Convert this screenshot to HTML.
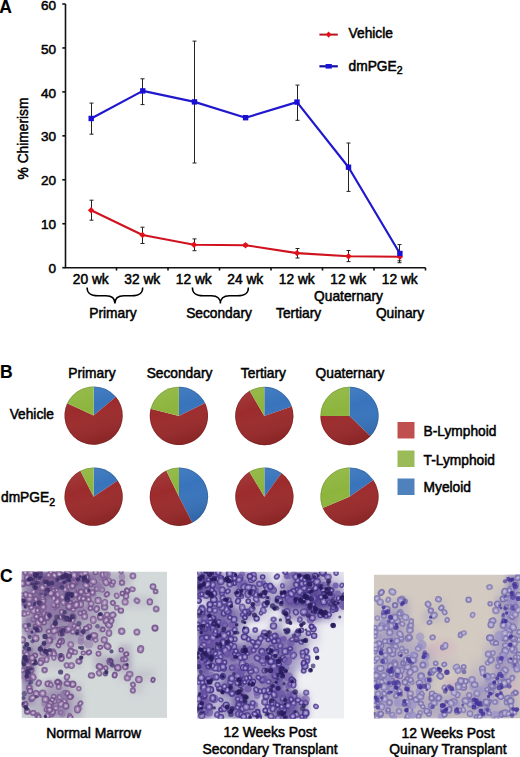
<!DOCTYPE html>
<html><head><meta charset="utf-8"><style>
html,body{margin:0;padding:0;background:#fff;}
svg{display:block;}
text{font-family:"Liberation Sans",sans-serif;stroke:#000;stroke-width:0.5px;paint-order:stroke;}
</style></head><body>
<svg width="520" height="757" viewBox="0 0 520 757">
<g stroke="#111" stroke-width="1.6" fill="none">
<path d="M65.5 4 V267.7 H425.5"/>
<path d="M62.3 267.70 H65.5"/>
<path d="M62.3 223.75 H65.5"/>
<path d="M62.3 179.80 H65.5"/>
<path d="M62.3 135.85 H65.5"/>
<path d="M62.3 91.90 H65.5"/>
<path d="M62.3 47.95 H65.5"/>
<path d="M62.3 4.00 H65.5"/>
<path d="M116.50 267.7 V270.5"/>
<path d="M168.00 267.7 V270.5"/>
<path d="M219.50 267.7 V270.5"/>
<path d="M271.00 267.7 V270.5"/>
<path d="M322.50 267.7 V270.5"/>
<path d="M374.00 267.7 V270.5"/>
<path d="M425.50 267.7 V270.5"/>
</g>
<text x="56.0" y="273.30" text-anchor="end" font-size="13.6" fill="#000">0</text>
<text x="56.0" y="229.35" text-anchor="end" font-size="13.6" fill="#000">10</text>
<text x="56.0" y="185.40" text-anchor="end" font-size="13.6" fill="#000">20</text>
<text x="56.0" y="141.45" text-anchor="end" font-size="13.6" fill="#000">30</text>
<text x="56.0" y="97.50" text-anchor="end" font-size="13.6" fill="#000">40</text>
<text x="56.0" y="53.55" text-anchor="end" font-size="13.6" fill="#000">50</text>
<text x="56.0" y="9.60" text-anchor="end" font-size="13.6" fill="#000">60</text>
<text transform="translate(28.3,138.5) rotate(-90)" text-anchor="middle" font-size="13.75" fill="#000">% Chimerism</text>
<text x="90.75" y="283.7" text-anchor="middle" font-size="13.75" fill="#000">20 wk</text>
<text x="142.25" y="283.7" text-anchor="middle" font-size="13.75" fill="#000">32 wk</text>
<text x="193.75" y="283.7" text-anchor="middle" font-size="13.75" fill="#000">12 wk</text>
<text x="245.25" y="283.7" text-anchor="middle" font-size="13.75" fill="#000">24 wk</text>
<text x="296.75" y="283.7" text-anchor="middle" font-size="13.75" fill="#000">12 wk</text>
<text x="348.25" y="283.7" text-anchor="middle" font-size="13.75" fill="#000">12 wk</text>
<text x="399.75" y="283.7" text-anchor="middle" font-size="13.75" fill="#000">12 wk</text>
<path d="M87.1 287.4 C87.1 292.9 89.6 295.7 98.1 295.7 L105.89999999999999 295.7 C111.89999999999999 295.7 114.89999999999999 297.7 114.89999999999999 303.4 C114.89999999999999 297.7 117.89999999999999 295.7 123.89999999999999 295.7 L131.7 295.7 C140.2 295.7 142.7 292.9 142.7 287.4" fill="none" stroke="#000" stroke-width="1.5"/>
<path d="M192.4 287.4 C192.4 292.9 194.9 295.7 203.4 295.7 L211.4 295.7 C217.4 295.7 220.4 297.7 220.4 303.6 C220.4 297.7 223.4 295.7 229.4 295.7 L237.4 295.7 C245.9 295.7 248.4 292.9 248.4 287.4" fill="none" stroke="#000" stroke-width="1.5"/>
<text x="113" y="317.8" text-anchor="middle" font-size="13.75" fill="#000">Primary</text>
<text x="219" y="317.8" text-anchor="middle" font-size="13.75" fill="#000">Secondary</text>
<text x="298.6" y="317.8" text-anchor="middle" font-size="13.75" fill="#000">Tertiary</text>
<text x="348.5" y="300.9" text-anchor="middle" font-size="13.75" fill="#000">Quaternary</text>
<text x="400" y="317.8" text-anchor="middle" font-size="13.75" fill="#000">Quinary</text>
<path d="M91.50 103.10 V134.20 M89.50 103.10 H93.50 M89.50 134.20 H93.50" stroke="#222" stroke-width="1.0" fill="none"/>
<path d="M142.50 78.80 V104.60 M140.50 78.80 H144.50 M140.50 104.60 H144.50" stroke="#222" stroke-width="1.0" fill="none"/>
<path d="M194.50 41.10 V163.00 M192.50 41.10 H196.50 M192.50 163.00 H196.50" stroke="#222" stroke-width="1.0" fill="none"/>
<path d="M245.50 116.20 V119.20 M243.50 116.20 H247.50 M243.50 119.20 H247.50" stroke="#222" stroke-width="1.0" fill="none"/>
<path d="M297.50 85.10 V120.30 M295.50 85.10 H299.50 M295.50 120.30 H299.50" stroke="#222" stroke-width="1.0" fill="none"/>
<path d="M348.50 143.00 V191.40 M346.50 143.00 H350.50 M346.50 191.40 H350.50" stroke="#222" stroke-width="1.0" fill="none"/>
<path d="M399.50 244.60 V262.70 M397.50 244.60 H401.50 M397.50 262.70 H401.50" stroke="#222" stroke-width="1.0" fill="none"/>
<path d="M91.50 200.20 V220.20 M89.50 200.20 H93.50 M89.50 220.20 H93.50" stroke="#222" stroke-width="1.0" fill="none"/>
<path d="M142.50 227.20 V243.50 M140.50 227.20 H144.50 M140.50 243.50 H144.50" stroke="#222" stroke-width="1.0" fill="none"/>
<path d="M194.50 238.90 V250.70 M192.50 238.90 H196.50 M192.50 250.70 H196.50" stroke="#222" stroke-width="1.0" fill="none"/>
<path d="M245.50 244.00 V246.40 M243.50 244.00 H247.50 M243.50 246.40 H247.50" stroke="#222" stroke-width="1.0" fill="none"/>
<path d="M297.50 248.50 V258.00 M295.50 248.50 H299.50 M295.50 258.00 H299.50" stroke="#222" stroke-width="1.0" fill="none"/>
<path d="M348.50 250.50 V261.60 M346.50 250.50 H350.50 M346.50 261.60 H350.50" stroke="#222" stroke-width="1.0" fill="none"/>
<path d="M399.50 253.00 V260.80 M397.50 253.00 H401.50 M397.50 260.80 H401.50" stroke="#222" stroke-width="1.0" fill="none"/>
<polyline points="91.1,210.3 142.5,235 194,244.7 245.5,245.2 297,253.1 348.5,256.2 399.9,256.8" fill="none" stroke="#d0121e" stroke-width="2.1" stroke-linejoin="round"/>
<polyline points="91.2,118.5 142.8,90.9 194.5,101.9 245.6,117.7 297,102.1 348.5,167.2 399.9,253.5" fill="none" stroke="#2018cc" stroke-width="2.2" stroke-linejoin="round"/>
<path d="M91.1 207.10000000000002 L94.3 210.3 L91.1 213.5 L87.89999999999999 210.3 Z" fill="#e41018"/>
<path d="M142.5 231.8 L145.7 235 L142.5 238.2 L139.3 235 Z" fill="#e41018"/>
<path d="M194 241.5 L197.2 244.7 L194 247.89999999999998 L190.8 244.7 Z" fill="#e41018"/>
<path d="M245.5 242.0 L248.7 245.2 L245.5 248.39999999999998 L242.3 245.2 Z" fill="#e41018"/>
<path d="M297 249.9 L300.2 253.1 L297 256.3 L293.8 253.1 Z" fill="#e41018"/>
<path d="M348.5 253.0 L351.7 256.2 L348.5 259.4 L345.3 256.2 Z" fill="#e41018"/>
<path d="M399.9 253.60000000000002 L403.09999999999997 256.8 L399.9 260.0 L396.7 256.8 Z" fill="#e41018"/>
<rect x="88.5" y="115.8" width="5.4" height="5.4" fill="#1a10d4"/>
<rect x="140.10000000000002" y="88.2" width="5.4" height="5.4" fill="#1a10d4"/>
<rect x="191.8" y="99.2" width="5.4" height="5.4" fill="#1a10d4"/>
<rect x="242.9" y="115.0" width="5.4" height="5.4" fill="#1a10d4"/>
<rect x="294.3" y="99.39999999999999" width="5.4" height="5.4" fill="#1a10d4"/>
<rect x="345.8" y="164.5" width="5.4" height="5.4" fill="#1a10d4"/>
<rect x="397.2" y="250.8" width="5.4" height="5.4" fill="#1a10d4"/>
<path d="M319.4 34.6 H337.8" stroke="#b81420" stroke-width="2"/>
<path d="M328.6 31.4 L331.4 34.6 L328.6 37.8 L325.8 34.6 Z" fill="#e41018"/>
<path d="M319.4 66.3 H337.8" stroke="#14109a" stroke-width="2.2"/>
<rect x="325.6" y="64" width="6.2" height="4.6" fill="#1a14d8"/>
<text x="348.6" y="38.1" font-size="13.75" fill="#000">Vehicle</text>
<text x="348.6" y="70.6" font-size="13.75" fill="#000">dmPGE<tspan font-size="10.5" dy="3.2">2</tspan></text>
<text x="-0.8" y="13.2" font-size="17.5" font-weight="bold" fill="#000" style="stroke-width:0.15px">A</text>
<text x="0.1" y="377.6" font-size="17.5" font-weight="bold" fill="#000" style="stroke-width:0.15px">B</text>
<text x="92.0" y="378.2" text-anchor="middle" font-size="13.75" fill="#000">Primary</text>
<text x="179.5" y="378.2" text-anchor="middle" font-size="13.75" fill="#000">Secondary</text>
<text x="263.4" y="378.2" text-anchor="middle" font-size="13.75" fill="#000">Tertiary</text>
<text x="350" y="378.2" text-anchor="middle" font-size="13.75" fill="#000">Quaternary</text>
<text x="54" y="419.3" text-anchor="end" font-size="13.75" fill="#000">Vehicle</text>
<text x="1" y="502.4" font-size="13.75" fill="#000">dmPGE<tspan font-size="10.5" dy="3.2">2</tspan></text>
<defs><linearGradient id="pieshade" x1="0" y1="0" x2="0.3" y2="1"><stop offset="0" stop-color="#fff" stop-opacity="0.10"/><stop offset="0.45" stop-color="#fff" stop-opacity="0"/><stop offset="1" stop-color="#000" stop-opacity="0.10"/></linearGradient></defs>
<path d="M93.6 415.6 L93.60 386.45 A29.15 29.15 0 0 1 115.93 396.86 Z" fill="#3874bc"/>
<path d="M93.6 415.6 L115.93 396.86 A29.15 29.15 0 1 1 67.18 403.28 Z" fill="#9c2b2c"/>
<path d="M93.6 415.6 L67.18 403.28 A29.15 29.15 0 0 1 93.60 386.45 Z" fill="#8db53d"/>
<circle cx="93.6" cy="415.6" r="29.15" fill="url(#pieshade)"/>
<circle cx="93.6" cy="415.6" r="28.75" fill="none" stroke="#000" stroke-opacity="0.14" stroke-width="0.8"/>
<path d="M178.9 415.9 L178.90 386.75 A29.15 29.15 0 0 1 205.10 403.12 Z" fill="#3874bc"/>
<path d="M178.9 415.9 L205.10 403.12 A29.15 29.15 0 1 1 150.62 408.85 Z" fill="#9c2b2c"/>
<path d="M178.9 415.9 L150.62 408.85 A29.15 29.15 0 0 1 178.90 386.75 Z" fill="#8db53d"/>
<circle cx="178.9" cy="415.9" r="29.15" fill="url(#pieshade)"/>
<circle cx="178.9" cy="415.9" r="28.75" fill="none" stroke="#000" stroke-opacity="0.14" stroke-width="0.8"/>
<path d="M264.3 416 L264.30 386.85 A29.15 29.15 0 0 1 291.86 406.51 Z" fill="#3874bc"/>
<path d="M264.3 416 L291.86 406.51 A29.15 29.15 0 1 1 249.72 390.76 Z" fill="#9c2b2c"/>
<path d="M264.3 416 L249.72 390.76 A29.15 29.15 0 0 1 264.30 386.85 Z" fill="#8db53d"/>
<circle cx="264.3" cy="416" r="29.15" fill="url(#pieshade)"/>
<circle cx="264.3" cy="416" r="28.75" fill="none" stroke="#000" stroke-opacity="0.14" stroke-width="0.8"/>
<path d="M349.5 416 L349.50 386.85 A29.15 29.15 0 0 1 370.47 436.25 Z" fill="#3874bc"/>
<path d="M349.5 416 L370.47 436.25 A29.15 29.15 0 0 1 320.35 416.00 Z" fill="#9c2b2c"/>
<path d="M349.5 416 L320.35 416.00 A29.15 29.15 0 0 1 349.50 386.85 Z" fill="#8db53d"/>
<circle cx="349.5" cy="416" r="29.15" fill="url(#pieshade)"/>
<circle cx="349.5" cy="416" r="28.75" fill="none" stroke="#000" stroke-opacity="0.14" stroke-width="0.8"/>
<path d="M93.6 496.7 L93.60 467.55 A29.15 29.15 0 0 1 117.77 480.40 Z" fill="#3874bc"/>
<path d="M93.6 496.7 L117.77 480.40 A29.15 29.15 0 1 1 80.37 470.73 Z" fill="#9c2b2c"/>
<path d="M93.6 496.7 L80.37 470.73 A29.15 29.15 0 0 1 93.60 467.55 Z" fill="#8db53d"/>
<circle cx="93.6" cy="496.7" r="29.15" fill="url(#pieshade)"/>
<circle cx="93.6" cy="496.7" r="28.75" fill="none" stroke="#000" stroke-opacity="0.14" stroke-width="0.8"/>
<path d="M179 496.7 L179.00 467.55 A29.15 29.15 0 0 1 192.23 522.67 Z" fill="#3874bc"/>
<path d="M179 496.7 L192.23 522.67 A29.15 29.15 0 1 1 166.22 470.50 Z" fill="#9c2b2c"/>
<path d="M179 496.7 L166.22 470.50 A29.15 29.15 0 0 1 179.00 467.55 Z" fill="#8db53d"/>
<circle cx="179" cy="496.7" r="29.15" fill="url(#pieshade)"/>
<circle cx="179" cy="496.7" r="28.75" fill="none" stroke="#000" stroke-opacity="0.14" stroke-width="0.8"/>
<path d="M264.4 496.7 L264.40 467.55 A29.15 29.15 0 0 1 281.53 473.12 Z" fill="#3874bc"/>
<path d="M264.4 496.7 L281.53 473.12 A29.15 29.15 0 1 1 249.39 471.71 Z" fill="#9c2b2c"/>
<path d="M264.4 496.7 L249.39 471.71 A29.15 29.15 0 0 1 264.40 467.55 Z" fill="#8db53d"/>
<circle cx="264.4" cy="496.7" r="29.15" fill="url(#pieshade)"/>
<circle cx="264.4" cy="496.7" r="28.75" fill="none" stroke="#000" stroke-opacity="0.14" stroke-width="0.8"/>
<path d="M349.5 496.7 L349.50 467.55 A29.15 29.15 0 0 1 373.38 479.98 Z" fill="#3874bc"/>
<path d="M349.5 496.7 L373.38 479.98 A29.15 29.15 0 1 1 322.67 508.09 Z" fill="#9c2b2c"/>
<path d="M349.5 496.7 L322.67 508.09 A29.15 29.15 0 0 1 349.50 467.55 Z" fill="#8db53d"/>
<circle cx="349.5" cy="496.7" r="29.15" fill="url(#pieshade)"/>
<circle cx="349.5" cy="496.7" r="28.75" fill="none" stroke="#000" stroke-opacity="0.14" stroke-width="0.8"/>
<rect x="397.5" y="422" width="17" height="16.5" fill="#c0504d"/>
<text x="423.6" y="436" font-size="13.75" fill="#000">B-Lymphoid</text>
<rect x="397.5" y="450.5" width="17" height="16.5" fill="#9bbb59"/>
<text x="423.6" y="464.8" font-size="13.75" fill="#000">T-Lymphoid</text>
<rect x="397.5" y="478.5" width="17" height="16.5" fill="#4f81bd"/>
<text x="423.6" y="492" font-size="13.75" fill="#000">Myeloid</text>
<text x="0" y="581.7" font-size="17.5" font-weight="bold" fill="#000" style="stroke-width:0.15px">C</text>
<text x="93.6" y="737.7" text-anchor="middle" font-size="13.9" fill="#000">Normal Marrow</text>
<text x="270" y="737.4" text-anchor="middle" font-size="13.9" fill="#000">12 Weeks Post</text>
<text x="270" y="754.4" text-anchor="middle" font-size="13.9" fill="#000">Secondary Transplant</text>
<text x="448" y="737.6" text-anchor="middle" font-size="13.9" fill="#000">12 Weeks Post</text>
<text x="448" y="754.4" text-anchor="middle" font-size="13.9" fill="#000">Quinary Transplant</text>
<clipPath id="clip1"><rect x="21.5" y="571.5" width="145.7" height="146.4"/></clipPath>
<filter id="bl1" x="-10%" y="-10%" width="120%" height="120%"><feGaussianBlur stdDeviation="3.2"/></filter>
<g clip-path="url(#clip1)">
<rect x="21.5" y="571.5" width="145.7" height="146.4" fill="#d3d9d9"/>
<g filter="url(#bl1)">
<rect x="21.0" y="571.0" width="13.1" height="13.2" fill="#7e6898" fill-opacity="0.95"/>
<rect x="33.1" y="571.0" width="13.1" height="13.2" fill="#7e6898" fill-opacity="0.95"/>
<rect x="45.3" y="571.0" width="13.1" height="13.2" fill="#7e6898" fill-opacity="0.95"/>
<rect x="57.4" y="571.0" width="13.1" height="13.2" fill="#7e6898" fill-opacity="0.95"/>
<rect x="69.6" y="571.0" width="13.1" height="13.2" fill="#7e6898" fill-opacity="0.95"/>
<rect x="81.7" y="571.0" width="13.1" height="13.2" fill="#7e6898" fill-opacity="0.95"/>
<rect x="93.8" y="571.0" width="13.1" height="13.2" fill="#7e6898" fill-opacity="0.63"/>
<rect x="106.0" y="571.0" width="13.1" height="13.2" fill="#7e6898" fill-opacity="0.30"/>
<rect x="118.1" y="571.0" width="13.1" height="13.2" fill="#7e6898" fill-opacity="0.30"/>
<rect x="130.3" y="571.0" width="13.1" height="13.2" fill="#7e6898" fill-opacity="0.00"/>
<rect x="154.6" y="571.0" width="13.1" height="13.2" fill="#7e6898" fill-opacity="0.00"/>
<rect x="21.0" y="583.2" width="13.1" height="13.2" fill="#7e6898" fill-opacity="0.63"/>
<rect x="33.1" y="583.2" width="13.1" height="13.2" fill="#7e6898" fill-opacity="0.79"/>
<rect x="45.3" y="583.2" width="13.1" height="13.2" fill="#7e6898" fill-opacity="0.79"/>
<rect x="57.4" y="583.2" width="13.1" height="13.2" fill="#7e6898" fill-opacity="0.79"/>
<rect x="69.6" y="583.2" width="13.1" height="13.2" fill="#7e6898" fill-opacity="0.63"/>
<rect x="81.7" y="583.2" width="13.1" height="13.2" fill="#7e6898" fill-opacity="0.63"/>
<rect x="93.8" y="583.2" width="13.1" height="13.2" fill="#7e6898" fill-opacity="0.46"/>
<rect x="106.0" y="583.2" width="13.1" height="13.2" fill="#7e6898" fill-opacity="0.30"/>
<rect x="118.1" y="583.2" width="13.1" height="13.2" fill="#7e6898" fill-opacity="0.14"/>
<rect x="130.3" y="583.2" width="13.1" height="13.2" fill="#7e6898" fill-opacity="0.00"/>
<rect x="142.4" y="583.2" width="13.1" height="13.2" fill="#7e6898" fill-opacity="0.00"/>
<rect x="154.6" y="583.2" width="13.1" height="13.2" fill="#7e6898" fill-opacity="0.00"/>
<rect x="21.0" y="595.4" width="13.1" height="13.2" fill="#7e6898" fill-opacity="0.63"/>
<rect x="33.1" y="595.4" width="13.1" height="13.2" fill="#7e6898" fill-opacity="0.79"/>
<rect x="45.3" y="595.4" width="13.1" height="13.2" fill="#7e6898" fill-opacity="0.79"/>
<rect x="57.4" y="595.4" width="13.1" height="13.2" fill="#7e6898" fill-opacity="0.79"/>
<rect x="69.6" y="595.4" width="13.1" height="13.2" fill="#7e6898" fill-opacity="0.63"/>
<rect x="81.7" y="595.4" width="13.1" height="13.2" fill="#7e6898" fill-opacity="0.46"/>
<rect x="93.8" y="595.4" width="13.1" height="13.2" fill="#7e6898" fill-opacity="0.30"/>
<rect x="106.0" y="595.4" width="13.1" height="13.2" fill="#7e6898" fill-opacity="0.14"/>
<rect x="118.1" y="595.4" width="13.1" height="13.2" fill="#7e6898" fill-opacity="0.14"/>
<rect x="130.3" y="595.4" width="13.1" height="13.2" fill="#7e6898" fill-opacity="0.14"/>
<rect x="142.4" y="595.4" width="13.1" height="13.2" fill="#7e6898" fill-opacity="0.14"/>
<rect x="154.6" y="595.4" width="13.1" height="13.2" fill="#7e6898" fill-opacity="0.00"/>
<rect x="21.0" y="607.6" width="13.1" height="13.2" fill="#7e6898" fill-opacity="0.46"/>
<rect x="33.1" y="607.6" width="13.1" height="13.2" fill="#7e6898" fill-opacity="0.79"/>
<rect x="45.3" y="607.6" width="13.1" height="13.2" fill="#7e6898" fill-opacity="0.79"/>
<rect x="57.4" y="607.6" width="13.1" height="13.2" fill="#7e6898" fill-opacity="0.63"/>
<rect x="69.6" y="607.6" width="13.1" height="13.2" fill="#7e6898" fill-opacity="0.63"/>
<rect x="81.7" y="607.6" width="13.1" height="13.2" fill="#7e6898" fill-opacity="0.46"/>
<rect x="93.8" y="607.6" width="13.1" height="13.2" fill="#7e6898" fill-opacity="0.30"/>
<rect x="106.0" y="607.6" width="13.1" height="13.2" fill="#7e6898" fill-opacity="0.14"/>
<rect x="118.1" y="607.6" width="13.1" height="13.2" fill="#7e6898" fill-opacity="0.00"/>
<rect x="130.3" y="607.6" width="13.1" height="13.2" fill="#7e6898" fill-opacity="0.00"/>
<rect x="142.4" y="607.6" width="13.1" height="13.2" fill="#7e6898" fill-opacity="0.00"/>
<rect x="154.6" y="607.6" width="13.1" height="13.2" fill="#7e6898" fill-opacity="0.00"/>
<rect x="21.0" y="619.8" width="13.1" height="13.2" fill="#7e6898" fill-opacity="0.46"/>
<rect x="33.1" y="619.8" width="13.1" height="13.2" fill="#7e6898" fill-opacity="0.63"/>
<rect x="45.3" y="619.8" width="13.1" height="13.2" fill="#7e6898" fill-opacity="0.63"/>
<rect x="57.4" y="619.8" width="13.1" height="13.2" fill="#7e6898" fill-opacity="0.63"/>
<rect x="69.6" y="619.8" width="13.1" height="13.2" fill="#7e6898" fill-opacity="0.46"/>
<rect x="81.7" y="619.8" width="13.1" height="13.2" fill="#7e6898" fill-opacity="0.30"/>
<rect x="93.8" y="619.8" width="13.1" height="13.2" fill="#7e6898" fill-opacity="0.30"/>
<rect x="106.0" y="619.8" width="13.1" height="13.2" fill="#7e6898" fill-opacity="0.14"/>
<rect x="118.1" y="619.8" width="13.1" height="13.2" fill="#7e6898" fill-opacity="0.00"/>
<rect x="130.3" y="619.8" width="13.1" height="13.2" fill="#7e6898" fill-opacity="0.00"/>
<rect x="142.4" y="619.8" width="13.1" height="13.2" fill="#7e6898" fill-opacity="0.00"/>
<rect x="21.0" y="632.0" width="13.1" height="13.2" fill="#7e6898" fill-opacity="0.30"/>
<rect x="33.1" y="632.0" width="13.1" height="13.2" fill="#7e6898" fill-opacity="0.30"/>
<rect x="45.3" y="632.0" width="13.1" height="13.2" fill="#7e6898" fill-opacity="0.46"/>
<rect x="57.4" y="632.0" width="13.1" height="13.2" fill="#7e6898" fill-opacity="0.46"/>
<rect x="69.6" y="632.0" width="13.1" height="13.2" fill="#7e6898" fill-opacity="0.46"/>
<rect x="81.7" y="632.0" width="13.1" height="13.2" fill="#7e6898" fill-opacity="0.30"/>
<rect x="93.8" y="632.0" width="13.1" height="13.2" fill="#7e6898" fill-opacity="0.30"/>
<rect x="106.0" y="632.0" width="13.1" height="13.2" fill="#7e6898" fill-opacity="0.00"/>
<rect x="130.3" y="632.0" width="13.1" height="13.2" fill="#7e6898" fill-opacity="0.00"/>
<rect x="142.4" y="632.0" width="13.1" height="13.2" fill="#7e6898" fill-opacity="0.00"/>
<rect x="21.0" y="644.2" width="13.1" height="13.2" fill="#7e6898" fill-opacity="0.30"/>
<rect x="33.1" y="644.2" width="13.1" height="13.2" fill="#7e6898" fill-opacity="0.46"/>
<rect x="45.3" y="644.2" width="13.1" height="13.2" fill="#7e6898" fill-opacity="0.30"/>
<rect x="57.4" y="644.2" width="13.1" height="13.2" fill="#7e6898" fill-opacity="0.30"/>
<rect x="69.6" y="644.2" width="13.1" height="13.2" fill="#7e6898" fill-opacity="0.14"/>
<rect x="81.7" y="644.2" width="13.1" height="13.2" fill="#7e6898" fill-opacity="0.14"/>
<rect x="93.8" y="644.2" width="13.1" height="13.2" fill="#7e6898" fill-opacity="0.14"/>
<rect x="106.0" y="644.2" width="13.1" height="13.2" fill="#7e6898" fill-opacity="0.00"/>
<rect x="118.1" y="644.2" width="13.1" height="13.2" fill="#7e6898" fill-opacity="0.30"/>
<rect x="130.3" y="644.2" width="13.1" height="13.2" fill="#7e6898" fill-opacity="0.00"/>
<rect x="21.0" y="656.4" width="13.1" height="13.2" fill="#7e6898" fill-opacity="0.63"/>
<rect x="33.1" y="656.4" width="13.1" height="13.2" fill="#7e6898" fill-opacity="0.14"/>
<rect x="45.3" y="656.4" width="13.1" height="13.2" fill="#7e6898" fill-opacity="0.14"/>
<rect x="57.4" y="656.4" width="13.1" height="13.2" fill="#7e6898" fill-opacity="0.14"/>
<rect x="69.6" y="656.4" width="13.1" height="13.2" fill="#7e6898" fill-opacity="0.14"/>
<rect x="81.7" y="656.4" width="13.1" height="13.2" fill="#7e6898" fill-opacity="0.00"/>
<rect x="93.8" y="656.4" width="13.1" height="13.2" fill="#7e6898" fill-opacity="0.30"/>
<rect x="106.0" y="656.4" width="13.1" height="13.2" fill="#7e6898" fill-opacity="0.46"/>
<rect x="118.1" y="656.4" width="13.1" height="13.2" fill="#7e6898" fill-opacity="0.46"/>
<rect x="130.3" y="656.4" width="13.1" height="13.2" fill="#7e6898" fill-opacity="0.00"/>
<rect x="142.4" y="656.4" width="13.1" height="13.2" fill="#7e6898" fill-opacity="0.00"/>
<rect x="21.0" y="668.6" width="13.1" height="13.2" fill="#7e6898" fill-opacity="0.63"/>
<rect x="33.1" y="668.6" width="13.1" height="13.2" fill="#7e6898" fill-opacity="0.00"/>
<rect x="45.3" y="668.6" width="13.1" height="13.2" fill="#7e6898" fill-opacity="0.00"/>
<rect x="57.4" y="668.6" width="13.1" height="13.2" fill="#7e6898" fill-opacity="0.00"/>
<rect x="69.6" y="668.6" width="13.1" height="13.2" fill="#7e6898" fill-opacity="0.00"/>
<rect x="81.7" y="668.6" width="13.1" height="13.2" fill="#7e6898" fill-opacity="0.00"/>
<rect x="93.8" y="668.6" width="13.1" height="13.2" fill="#7e6898" fill-opacity="0.00"/>
<rect x="106.0" y="668.6" width="13.1" height="13.2" fill="#7e6898" fill-opacity="0.00"/>
<rect x="118.1" y="668.6" width="13.1" height="13.2" fill="#7e6898" fill-opacity="0.14"/>
<rect x="130.3" y="668.6" width="13.1" height="13.2" fill="#7e6898" fill-opacity="0.14"/>
<rect x="142.4" y="668.6" width="13.1" height="13.2" fill="#7e6898" fill-opacity="0.14"/>
<rect x="21.0" y="680.8" width="13.1" height="13.2" fill="#7e6898" fill-opacity="0.30"/>
<rect x="33.1" y="680.8" width="13.1" height="13.2" fill="#7e6898" fill-opacity="0.14"/>
<rect x="45.3" y="680.8" width="13.1" height="13.2" fill="#7e6898" fill-opacity="0.46"/>
<rect x="57.4" y="680.8" width="13.1" height="13.2" fill="#7e6898" fill-opacity="0.46"/>
<rect x="69.6" y="680.8" width="13.1" height="13.2" fill="#7e6898" fill-opacity="0.14"/>
<rect x="130.3" y="680.8" width="13.1" height="13.2" fill="#7e6898" fill-opacity="0.14"/>
<rect x="142.4" y="680.8" width="13.1" height="13.2" fill="#7e6898" fill-opacity="0.00"/>
<rect x="21.0" y="693.0" width="13.1" height="13.2" fill="#7e6898" fill-opacity="0.30"/>
<rect x="33.1" y="693.0" width="13.1" height="13.2" fill="#7e6898" fill-opacity="0.30"/>
<rect x="45.3" y="693.0" width="13.1" height="13.2" fill="#7e6898" fill-opacity="0.63"/>
<rect x="57.4" y="693.0" width="13.1" height="13.2" fill="#7e6898" fill-opacity="0.63"/>
<rect x="69.6" y="693.0" width="13.1" height="13.2" fill="#7e6898" fill-opacity="0.30"/>
<rect x="81.7" y="693.0" width="13.1" height="13.2" fill="#7e6898" fill-opacity="0.00"/>
<rect x="21.0" y="705.2" width="13.1" height="13.2" fill="#7e6898" fill-opacity="0.14"/>
<rect x="33.1" y="705.2" width="13.1" height="13.2" fill="#7e6898" fill-opacity="0.30"/>
<rect x="45.3" y="705.2" width="13.1" height="13.2" fill="#7e6898" fill-opacity="0.63"/>
<rect x="57.4" y="705.2" width="13.1" height="13.2" fill="#7e6898" fill-opacity="0.63"/>
<rect x="69.6" y="705.2" width="13.1" height="13.2" fill="#7e6898" fill-opacity="0.30"/>
<rect x="81.7" y="705.2" width="13.1" height="13.2" fill="#7e6898" fill-opacity="0.00"/>
<rect x="130.3" y="705.2" width="13.1" height="13.2" fill="#7e6898" fill-opacity="0.00"/>
<rect x="21.5" y="571.5" width="12.1" height="12.2" fill="#4e3680" fill-opacity="0.25"/>
<rect x="33.6" y="571.5" width="12.1" height="12.2" fill="#4e3680" fill-opacity="0.50"/>
<rect x="45.8" y="571.5" width="12.1" height="12.2" fill="#4e3680" fill-opacity="0.25"/>
<rect x="57.9" y="571.5" width="12.1" height="12.2" fill="#4e3680" fill-opacity="0.50"/>
<rect x="70.1" y="571.5" width="12.1" height="12.2" fill="#4e3680" fill-opacity="0.25"/>
<rect x="33.6" y="583.7" width="12.1" height="12.2" fill="#4e3680" fill-opacity="0.25"/>
<rect x="45.8" y="583.7" width="12.1" height="12.2" fill="#4e3680" fill-opacity="0.50"/>
<rect x="57.9" y="583.7" width="12.1" height="12.2" fill="#4e3680" fill-opacity="0.50"/>
<rect x="70.1" y="583.7" width="12.1" height="12.2" fill="#4e3680" fill-opacity="0.25"/>
<rect x="21.5" y="595.9" width="12.1" height="12.2" fill="#4e3680" fill-opacity="0.50"/>
<rect x="33.6" y="595.9" width="12.1" height="12.2" fill="#4e3680" fill-opacity="0.25"/>
<rect x="57.9" y="608.1" width="12.1" height="12.2" fill="#4e3680" fill-opacity="0.25"/>
<rect x="21.5" y="620.3" width="12.1" height="12.2" fill="#4e3680" fill-opacity="0.25"/>
<rect x="21.5" y="644.7" width="12.1" height="12.2" fill="#4e3680" fill-opacity="0.25"/>
<rect x="21.5" y="656.9" width="12.1" height="12.2" fill="#4e3680" fill-opacity="0.50"/>
<rect x="21.5" y="669.1" width="12.1" height="12.2" fill="#4e3680" fill-opacity="0.50"/>
<rect x="21.5" y="681.3" width="12.1" height="12.2" fill="#4e3680" fill-opacity="0.25"/>
<rect x="21.5" y="693.5" width="12.1" height="12.2" fill="#4e3680" fill-opacity="0.25"/>

</g>
<filter id="sf1"><feGaussianBlur stdDeviation="0.3"/></filter>
<g filter="url(#sf1)">
<radialGradient id="rg1"><stop offset="0" stop-color="#dccee2"/><stop offset="0.5" stop-color="#a48ab4"/><stop offset="1" stop-color="#a48ab4"/></radialGradient>
<g fill="url(#rg1)" stroke="#70508a">
<circle cx="41.4" cy="589.6" r="2.9" stroke-width="1.2" stroke-opacity="0.83"/>
<circle cx="104.4" cy="578.8" r="2.3" stroke-width="1.5" stroke-opacity="0.69"/>
<circle cx="52.6" cy="651.9" r="3.0" stroke-width="1.5" stroke-opacity="0.67"/>
<ellipse cx="69.7" cy="715.8" rx="2.3" ry="1.9" transform="rotate(83 69.7 715.8)" stroke-width="1.4" stroke-opacity="0.65"/>
<circle cx="21.8" cy="675.4" r="3.7" fill="#9078a8" stroke="none" fill-opacity="0.65"/>
<ellipse cx="106.9" cy="594.3" rx="2.1" ry="2.6" transform="rotate(45 106.9 594.3)" stroke-width="1.6" stroke-opacity="0.80"/>
<ellipse cx="23.0" cy="613.4" rx="2.7" ry="3.2" transform="rotate(79 23.0 613.4)" stroke-width="1.2" stroke-opacity="0.75"/>
<ellipse cx="112.7" cy="615.0" rx="3.2" ry="2.8" transform="rotate(150 112.7 615.0)" stroke-width="1.5" stroke-opacity="0.77"/>
<ellipse cx="46.6" cy="580.8" rx="2.5" ry="2.8" transform="rotate(127 46.6 580.8)" stroke-width="1.3" stroke-opacity="0.84"/>
<circle cx="73.7" cy="592.0" r="2.9" stroke-width="1.1" stroke-opacity="0.73"/>
<circle cx="98.1" cy="600.6" r="3.2" stroke-width="1.1" stroke-opacity="0.87"/>
<circle cx="78.8" cy="688.6" r="2.2" stroke-width="1.4" stroke-opacity="0.61"/>
<circle cx="60.9" cy="656.7" r="3.1" stroke-width="1.2" stroke-opacity="0.70"/>
<ellipse cx="66.3" cy="707.0" rx="2.3" ry="1.9" transform="rotate(156 66.3 707.0)" stroke-width="1.1" stroke-opacity="0.68"/>
<circle cx="45.9" cy="699.3" r="2.7" stroke-width="1.2" stroke-opacity="0.93"/>
<circle cx="73.2" cy="609.3" r="2.4" stroke-width="1.7" stroke-opacity="0.61"/>
<circle cx="34.0" cy="577.2" r="2.8" stroke-width="1.1" stroke-opacity="0.84"/>
<circle cx="64.2" cy="701.3" r="2.7" stroke-width="1.6" stroke-opacity="0.74"/>
<ellipse cx="123.3" cy="659.3" rx="2.3" ry="2.6" transform="rotate(88 123.3 659.3)" stroke-width="1.6" stroke-opacity="0.69"/>
<circle cx="79.8" cy="575.2" r="3.0" stroke-width="1.4" stroke-opacity="0.81"/>
<circle cx="54.6" cy="588.4" r="2.6" stroke-width="1.4" stroke-opacity="0.66"/>
<ellipse cx="44.8" cy="588.0" rx="2.4" ry="3.0" transform="rotate(70 44.8 588.0)" stroke-width="1.4" stroke-opacity="0.73"/>
<circle cx="91.0" cy="638.2" r="2.0" stroke-width="1.2" stroke-opacity="0.74"/>
<circle cx="74.1" cy="605.5" r="2.9" stroke-width="1.3" stroke-opacity="0.65"/>
<circle cx="60.9" cy="633.0" r="2.4" stroke-width="1.6" stroke-opacity="0.92"/>
<circle cx="121.9" cy="576.9" r="3.3" fill="#9078a8" stroke="none" fill-opacity="0.63"/>
<circle cx="101.7" cy="576.6" r="4.7" fill="#9078a8" stroke="none" fill-opacity="0.61"/>
<circle cx="47.7" cy="715.9" r="2.6" stroke-width="1.1" stroke-opacity="0.68"/>
<circle cx="52.2" cy="610.0" r="2.9" fill="#9078a8" stroke="none" fill-opacity="0.71"/>
<circle cx="101.8" cy="629.3" r="3.3" fill="#9078a8" stroke="none" fill-opacity="0.65"/>
<circle cx="74.2" cy="626.0" r="2.2" stroke-width="1.5" stroke-opacity="0.85"/>
<circle cx="73.2" cy="580.9" r="2.2" stroke-width="1.2" stroke-opacity="0.85"/>
<ellipse cx="67.4" cy="574.8" rx="2.3" ry="2.6" transform="rotate(74 67.4 574.8)" stroke-width="1.6" stroke-opacity="0.73"/>
<circle cx="31.4" cy="699.3" r="2.2" stroke-width="1.6" stroke-opacity="0.77"/>
<circle cx="97.7" cy="585.8" r="4.4" fill="#9078a8" stroke="none" fill-opacity="0.76"/>
<circle cx="68.9" cy="607.9" r="2.1" stroke-width="1.6" stroke-opacity="0.72"/>
<circle cx="64.0" cy="591.2" r="4.4" fill="#9078a8" stroke="none" fill-opacity="0.63"/>
<ellipse cx="23.2" cy="584.1" rx="2.1" ry="2.5" transform="rotate(126 23.2 584.1)" stroke-width="1.6" stroke-opacity="0.62"/>
<circle cx="96.9" cy="588.8" r="2.4" stroke-width="1.4" stroke-opacity="0.66"/>
<circle cx="106.9" cy="614.8" r="2.6" stroke-width="1.2" stroke-opacity="0.68"/>
<circle cx="67.0" cy="584.1" r="3.4" fill="#9078a8" stroke="none" fill-opacity="0.65"/>
<circle cx="27.3" cy="711.4" r="2.7" stroke-width="1.5" stroke-opacity="0.85"/>
<ellipse cx="132.4" cy="589.2" rx="2.2" ry="2.8" transform="rotate(103 132.4 589.2)" stroke-width="1.3" stroke-opacity="0.70"/>
<circle cx="22.4" cy="639.8" r="3.0" stroke-width="1.3" stroke-opacity="0.91"/>
<circle cx="89.2" cy="582.1" r="2.6" fill="#9078a8" stroke="none" fill-opacity="0.61"/>
<ellipse cx="48.9" cy="631.4" rx="2.6" ry="2.2" transform="rotate(164 48.9 631.4)" stroke-width="1.6" stroke-opacity="0.76"/>
<circle cx="42.8" cy="600.7" r="3.1" stroke-width="1.3" stroke-opacity="0.93"/>
<circle cx="44.6" cy="613.9" r="2.8" stroke-width="1.5" stroke-opacity="0.75"/>
<circle cx="117.8" cy="667.8" r="3.0" stroke-width="1.6" stroke-opacity="0.92"/>
<circle cx="27.8" cy="625.5" r="2.8" fill="#9078a8" stroke="none" fill-opacity="0.68"/>
<ellipse cx="36.0" cy="574.5" rx="2.2" ry="2.7" transform="rotate(49 36.0 574.5)" stroke-width="1.7" stroke-opacity="0.69"/>
<ellipse cx="81.5" cy="633.4" rx="2.5" ry="2.1" transform="rotate(100 81.5 633.4)" stroke-width="1.4" stroke-opacity="0.60"/>
<ellipse cx="39.9" cy="579.3" rx="2.7" ry="3.4" transform="rotate(143 39.9 579.3)" stroke-width="1.6" stroke-opacity="0.91"/>
<ellipse cx="109.0" cy="633.1" rx="2.7" ry="3.3" transform="rotate(4 109.0 633.1)" stroke-width="1.3" stroke-opacity="0.71"/>
<ellipse cx="62.2" cy="596.9" rx="3.2" ry="2.6" transform="rotate(41 62.2 596.9)" stroke-width="1.5" stroke-opacity="0.66"/>
<circle cx="62.9" cy="629.1" r="2.6" stroke-width="1.4" stroke-opacity="0.70"/>
<ellipse cx="56.5" cy="605.6" rx="2.5" ry="2.8" transform="rotate(83 56.5 605.6)" stroke-width="1.2" stroke-opacity="0.85"/>
<ellipse cx="71.3" cy="651.3" rx="3.2" ry="2.6" transform="rotate(26 71.3 651.3)" stroke-width="1.6" stroke-opacity="0.91"/>
<circle cx="53.4" cy="607.0" r="3.0" stroke-width="1.4" stroke-opacity="0.61"/>
<circle cx="89.1" cy="626.8" r="2.5" stroke-width="1.4" stroke-opacity="0.74"/>
<circle cx="132.9" cy="576.0" r="2.8" stroke-width="1.3" stroke-opacity="0.73"/>
<ellipse cx="44.6" cy="592.7" rx="2.1" ry="2.4" transform="rotate(144 44.6 592.7)" stroke-width="1.6" stroke-opacity="0.89"/>
<circle cx="100.5" cy="616.5" r="2.5" stroke-width="1.5" stroke-opacity="0.89"/>
<circle cx="60.8" cy="712.6" r="2.2" stroke-width="1.3" stroke-opacity="0.68"/>
<ellipse cx="121.1" cy="571.7" rx="2.2" ry="1.8" transform="rotate(34 121.1 571.7)" stroke-width="1.5" stroke-opacity="0.69"/>
<circle cx="35.6" cy="626.6" r="2.3" stroke-width="1.5" stroke-opacity="0.84"/>
<circle cx="56.1" cy="571.5" r="2.9" fill="#9078a8" stroke="none" fill-opacity="0.85"/>
<circle cx="60.2" cy="580.4" r="2.2" stroke-width="1.3" stroke-opacity="0.88"/>
<ellipse cx="53.5" cy="653.9" rx="3.3" ry="2.8" transform="rotate(43 53.5 653.9)" stroke-width="1.6" stroke-opacity="0.73"/>
<circle cx="39.7" cy="579.6" r="3.0" stroke-width="1.6" stroke-opacity="0.74"/>
<circle cx="50.3" cy="703.2" r="2.9" stroke-width="1.7" stroke-opacity="0.84"/>
<ellipse cx="59.0" cy="575.6" rx="2.7" ry="3.2" transform="rotate(27 59.0 575.6)" stroke-width="1.2" stroke-opacity="0.79"/>
<ellipse cx="50.6" cy="581.8" rx="2.8" ry="3.3" transform="rotate(4 50.6 581.8)" stroke-width="1.4" stroke-opacity="0.69"/>
<circle cx="40.1" cy="572.2" r="2.3" stroke-width="1.3" stroke-opacity="0.63"/>
<ellipse cx="109.5" cy="661.3" rx="2.4" ry="2.9" transform="rotate(1 109.5 661.3)" stroke-width="1.4" stroke-opacity="0.91"/>
<circle cx="121.2" cy="649.9" r="2.1" stroke-width="1.2" stroke-opacity="0.95"/>
<circle cx="67.3" cy="601.8" r="3.0" stroke-width="1.4" stroke-opacity="0.88"/>
<circle cx="24.7" cy="651.8" r="2.1" stroke-width="1.4" stroke-opacity="0.82"/>
<ellipse cx="91.2" cy="583.0" rx="3.5" ry="2.8" transform="rotate(113 91.2 583.0)" stroke-width="1.6" stroke-opacity="0.80"/>
<ellipse cx="50.9" cy="638.9" rx="2.3" ry="1.9" transform="rotate(137 50.9 638.9)" stroke-width="1.6" stroke-opacity="0.64"/>
<circle cx="53.0" cy="637.0" r="3.4" fill="#9078a8" stroke="none" fill-opacity="0.76"/>
<ellipse cx="101.9" cy="589.7" rx="2.4" ry="2.8" transform="rotate(93 101.9 589.7)" stroke-width="1.1" stroke-opacity="0.60"/>
<circle cx="104.6" cy="606.9" r="3.0" stroke-width="1.6" stroke-opacity="0.74"/>
<ellipse cx="99.7" cy="666.7" rx="3.3" ry="2.7" transform="rotate(25 99.7 666.7)" stroke-width="1.6" stroke-opacity="0.93"/>
<ellipse cx="48.3" cy="582.6" rx="3.3" ry="2.7" transform="rotate(159 48.3 582.6)" stroke-width="1.3" stroke-opacity="0.61"/>
<circle cx="60.7" cy="617.1" r="2.3" stroke-width="1.3" stroke-opacity="0.83"/>
<circle cx="132.9" cy="690.5" r="2.4" stroke-width="1.5" stroke-opacity="0.70"/>
<circle cx="33.4" cy="591.7" r="2.4" stroke-width="1.2" stroke-opacity="0.86"/>
<circle cx="136.9" cy="632.1" r="2.9" stroke-width="1.4" stroke-opacity="0.66"/>
<circle cx="49.5" cy="682.7" r="2.9" fill="#9078a8" stroke="none" fill-opacity="0.62"/>
<circle cx="68.1" cy="584.7" r="2.0" stroke-width="1.4" stroke-opacity="0.71"/>
<ellipse cx="110.3" cy="661.8" rx="3.4" ry="2.9" transform="rotate(82 110.3 661.8)" stroke-width="1.2" stroke-opacity="0.62"/>
<circle cx="50.5" cy="583.2" r="2.7" stroke-width="1.3" stroke-opacity="0.93"/>
<ellipse cx="28.6" cy="573.8" rx="3.2" ry="2.7" transform="rotate(17 28.6 573.8)" stroke-width="1.6" stroke-opacity="0.84"/>
<circle cx="43.9" cy="622.5" r="2.4" stroke-width="1.2" stroke-opacity="0.95"/>
<circle cx="80.8" cy="609.7" r="4.1" fill="#9078a8" stroke="none" fill-opacity="0.63"/>
<ellipse cx="22.5" cy="670.1" rx="2.5" ry="2.1" transform="rotate(160 22.5 670.1)" stroke-width="1.5" stroke-opacity="0.75"/>
<circle cx="80.3" cy="604.3" r="3.1" stroke-width="1.2" stroke-opacity="0.86"/>
<circle cx="29.3" cy="687.7" r="2.6" stroke-width="1.6" stroke-opacity="0.73"/>
<circle cx="155.6" cy="591.4" r="2.1" stroke-width="1.7" stroke-opacity="0.76"/>
<circle cx="27.1" cy="629.6" r="2.1" stroke-width="1.1" stroke-opacity="0.79"/>
<ellipse cx="69.8" cy="602.5" rx="2.1" ry="2.5" transform="rotate(120 69.8 602.5)" stroke-width="1.5" stroke-opacity="0.95"/>
<ellipse cx="104.6" cy="602.7" rx="3.4" ry="2.7" transform="rotate(125 104.6 602.7)" stroke-width="1.2" stroke-opacity="0.64"/>
<ellipse cx="76.3" cy="604.7" rx="2.8" ry="3.4" transform="rotate(29 76.3 604.7)" stroke-width="1.6" stroke-opacity="0.88"/>
<ellipse cx="93.3" cy="619.9" rx="3.5" ry="2.9" transform="rotate(87 93.3 619.9)" stroke-width="1.1" stroke-opacity="0.69"/>
<ellipse cx="74.0" cy="591.8" rx="2.8" ry="2.3" transform="rotate(50 74.0 591.8)" stroke-width="1.4" stroke-opacity="0.77"/>
<circle cx="72.9" cy="631.8" r="2.3" stroke-width="1.2" stroke-opacity="0.86"/>
<ellipse cx="58.4" cy="645.4" rx="1.9" ry="2.3" transform="rotate(140 58.4 645.4)" stroke-width="1.4" stroke-opacity="0.94"/>
<circle cx="77.9" cy="572.7" r="4.9" fill="#9078a8" stroke="none" fill-opacity="0.78"/>
<ellipse cx="127.2" cy="590.7" rx="2.7" ry="2.2" transform="rotate(56 127.2 590.7)" stroke-width="1.7" stroke-opacity="0.89"/>
<circle cx="86.9" cy="632.5" r="3.0" fill="#9078a8" stroke="none" fill-opacity="0.64"/>
<ellipse cx="102.9" cy="574.6" rx="2.5" ry="3.1" transform="rotate(166 102.9 574.6)" stroke-width="1.6" stroke-opacity="0.67"/>
<ellipse cx="27.7" cy="579.2" rx="2.8" ry="3.3" transform="rotate(171 27.7 579.2)" stroke-width="1.5" stroke-opacity="0.95"/>
<ellipse cx="80.8" cy="574.1" rx="3.2" ry="2.8" transform="rotate(71 80.8 574.1)" stroke-width="1.5" stroke-opacity="0.83"/>
<ellipse cx="25.2" cy="572.6" rx="2.1" ry="2.4" transform="rotate(148 25.2 572.6)" stroke-width="1.6" stroke-opacity="0.76"/>
<circle cx="64.4" cy="618.5" r="2.8" fill="#9078a8" stroke="none" fill-opacity="0.83"/>
<ellipse cx="55.8" cy="708.2" rx="2.7" ry="2.2" transform="rotate(177 55.8 708.2)" stroke-width="1.2" stroke-opacity="0.67"/>
<ellipse cx="106.2" cy="620.6" rx="2.8" ry="3.3" transform="rotate(18 106.2 620.6)" stroke-width="1.6" stroke-opacity="0.82"/>
<circle cx="83.3" cy="578.6" r="3.0" stroke-width="1.3" stroke-opacity="0.78"/>
<ellipse cx="33.8" cy="631.2" rx="2.3" ry="2.6" transform="rotate(148 33.8 631.2)" stroke-width="1.5" stroke-opacity="0.64"/>
<circle cx="84.4" cy="573.4" r="4.7" fill="#9078a8" stroke="none" fill-opacity="0.83"/>
<circle cx="53.4" cy="625.2" r="4.1" fill="#9078a8" stroke="none" fill-opacity="0.58"/>
<ellipse cx="53.8" cy="657.9" rx="2.1" ry="2.4" transform="rotate(163 53.8 657.9)" stroke-width="1.3" stroke-opacity="0.62"/>
<ellipse cx="106.0" cy="574.4" rx="2.6" ry="2.1" transform="rotate(74 106.0 574.4)" stroke-width="1.4" stroke-opacity="0.83"/>
<circle cx="126.0" cy="596.2" r="2.7" stroke-width="1.1" stroke-opacity="0.81"/>
<ellipse cx="63.3" cy="602.6" rx="2.2" ry="2.7" transform="rotate(151 63.3 602.6)" stroke-width="1.3" stroke-opacity="0.64"/>
<ellipse cx="77.8" cy="627.9" rx="2.7" ry="2.4" transform="rotate(4 77.8 627.9)" stroke-width="1.2" stroke-opacity="0.73"/>
<ellipse cx="91.5" cy="675.5" rx="3.1" ry="2.6" transform="rotate(5 91.5 675.5)" stroke-width="1.3" stroke-opacity="0.83"/>
<circle cx="53.4" cy="588.4" r="2.1" stroke-width="1.2" stroke-opacity="0.77"/>
<ellipse cx="65.0" cy="692.4" rx="1.8" ry="2.3" transform="rotate(101 65.0 692.4)" stroke-width="1.2" stroke-opacity="0.75"/>
<ellipse cx="40.3" cy="592.7" rx="2.4" ry="3.0" transform="rotate(118 40.3 592.7)" stroke-width="1.2" stroke-opacity="0.83"/>
<circle cx="35.7" cy="638.5" r="3.1" stroke-width="1.4" stroke-opacity="0.77"/>
<ellipse cx="25.5" cy="626.0" rx="2.8" ry="2.4" transform="rotate(0 25.5 626.0)" stroke-width="1.2" stroke-opacity="0.66"/>
<circle cx="28.3" cy="582.8" r="2.7" stroke-width="1.5" stroke-opacity="0.88"/>
<circle cx="70.7" cy="644.6" r="2.9" stroke-width="1.2" stroke-opacity="0.61"/>
<ellipse cx="94.0" cy="635.5" rx="2.8" ry="3.5" transform="rotate(89 94.0 635.5)" stroke-width="1.6" stroke-opacity="0.74"/>
<ellipse cx="107.4" cy="646.2" rx="2.9" ry="3.5" transform="rotate(129 107.4 646.2)" stroke-width="1.6" stroke-opacity="0.80"/>
<circle cx="52.2" cy="613.4" r="3.1" fill="#9078a8" stroke="none" fill-opacity="0.73"/>
<ellipse cx="51.5" cy="583.5" rx="2.2" ry="2.5" transform="rotate(151 51.5 583.5)" stroke-width="1.3" stroke-opacity="0.74"/>
<circle cx="62.5" cy="714.4" r="3.0" fill="#9078a8" stroke="none" fill-opacity="0.66"/>
<ellipse cx="137.0" cy="600.8" rx="2.3" ry="2.8" transform="rotate(128 137.0 600.8)" stroke-width="1.6" stroke-opacity="0.65"/>
<circle cx="65.4" cy="618.6" r="2.6" stroke-width="1.3" stroke-opacity="0.90"/>
<ellipse cx="46.7" cy="709.4" rx="2.3" ry="2.7" transform="rotate(28 46.7 709.4)" stroke-width="1.1" stroke-opacity="0.86"/>
<ellipse cx="33.5" cy="660.9" rx="1.9" ry="2.5" transform="rotate(28 33.5 660.9)" stroke-width="1.4" stroke-opacity="0.77"/>
<ellipse cx="31.3" cy="669.9" rx="2.8" ry="2.5" transform="rotate(99 31.3 669.9)" stroke-width="1.6" stroke-opacity="0.75"/>
<circle cx="81.1" cy="637.7" r="3.2" fill="#9078a8" stroke="none" fill-opacity="0.54"/>
<circle cx="69.1" cy="586.8" r="2.4" stroke-width="1.4" stroke-opacity="0.91"/>
<ellipse cx="69.0" cy="655.4" rx="2.9" ry="2.4" transform="rotate(100 69.0 655.4)" stroke-width="1.4" stroke-opacity="0.82"/>
<ellipse cx="108.6" cy="580.3" rx="2.4" ry="3.0" transform="rotate(122 108.6 580.3)" stroke-width="1.2" stroke-opacity="0.73"/>
<circle cx="98.5" cy="653.8" r="2.4" stroke-width="1.2" stroke-opacity="0.79"/>
<ellipse cx="24.8" cy="613.9" rx="2.6" ry="2.3" transform="rotate(172 24.8 613.9)" stroke-width="1.3" stroke-opacity="0.63"/>
<ellipse cx="67.5" cy="599.8" rx="2.2" ry="2.5" transform="rotate(134 67.5 599.8)" stroke-width="1.4" stroke-opacity="0.77"/>
<circle cx="107.3" cy="574.3" r="3.5" fill="#9078a8" stroke="none" fill-opacity="0.84"/>
<circle cx="50.3" cy="613.1" r="4.0" fill="#9078a8" stroke="none" fill-opacity="0.84"/>
<circle cx="47.8" cy="683.8" r="2.7" stroke-width="1.3" stroke-opacity="0.81"/>
<circle cx="27.3" cy="598.1" r="2.4" stroke-width="1.4" stroke-opacity="0.86"/>
<circle cx="79.8" cy="708.2" r="2.7" fill="#9078a8" stroke="none" fill-opacity="0.59"/>
<ellipse cx="28.2" cy="666.0" rx="3.2" ry="2.7" transform="rotate(102 28.2 666.0)" stroke-width="1.4" stroke-opacity="0.63"/>
<ellipse cx="34.7" cy="607.3" rx="2.0" ry="2.3" transform="rotate(64 34.7 607.3)" stroke-width="1.3" stroke-opacity="0.71"/>
<circle cx="127.4" cy="677.7" r="3.0" stroke-width="1.6" stroke-opacity="0.62"/>
<circle cx="122.4" cy="593.4" r="2.1" stroke-width="1.5" stroke-opacity="0.92"/>
<ellipse cx="59.2" cy="572.2" rx="2.1" ry="1.9" transform="rotate(148 59.2 572.2)" stroke-width="1.7" stroke-opacity="0.79"/>
<circle cx="30.1" cy="691.1" r="2.6" stroke-width="1.3" stroke-opacity="0.92"/>
<circle cx="45.8" cy="583.6" r="2.2" stroke-width="1.2" stroke-opacity="0.65"/>
<circle cx="155.0" cy="628.1" r="2.8" stroke-width="1.6" stroke-opacity="0.91"/>
<circle cx="49.3" cy="640.5" r="3.0" stroke-width="1.7" stroke-opacity="0.89"/>
<circle cx="37.6" cy="612.4" r="2.8" stroke-width="1.3" stroke-opacity="0.83"/>
<circle cx="88.6" cy="643.9" r="4.7" fill="#9078a8" stroke="none" fill-opacity="0.53"/>
<ellipse cx="28.1" cy="678.7" rx="2.0" ry="2.4" transform="rotate(70 28.1 678.7)" stroke-width="1.7" stroke-opacity="0.77"/>
<circle cx="29.6" cy="650.3" r="3.6" fill="#9078a8" stroke="none" fill-opacity="0.63"/>
<circle cx="121.7" cy="631.3" r="3.1" stroke-width="1.4" stroke-opacity="0.74"/>
<ellipse cx="50.9" cy="684.9" rx="2.0" ry="2.3" transform="rotate(149 50.9 684.9)" stroke-width="1.5" stroke-opacity="0.71"/>
<circle cx="72.7" cy="684.2" r="3.0" stroke-width="1.5" stroke-opacity="0.88"/>
<circle cx="56.3" cy="590.7" r="2.5" stroke-width="1.5" stroke-opacity="0.87"/>
<circle cx="31.3" cy="580.0" r="4.3" fill="#9078a8" stroke="none" fill-opacity="0.64"/>
<circle cx="99.8" cy="587.1" r="3.7" fill="#9078a8" stroke="none" fill-opacity="0.72"/>
<ellipse cx="116.7" cy="595.7" rx="2.7" ry="2.3" transform="rotate(65 116.7 595.7)" stroke-width="1.1" stroke-opacity="0.73"/>
<circle cx="57.7" cy="630.1" r="2.5" stroke-width="1.5" stroke-opacity="0.94"/>
<ellipse cx="66.7" cy="665.4" rx="2.4" ry="2.7" transform="rotate(158 66.7 665.4)" stroke-width="1.4" stroke-opacity="0.64"/>
<circle cx="104.3" cy="639.9" r="3.0" stroke-width="1.1" stroke-opacity="0.80"/>
<ellipse cx="53.7" cy="598.4" rx="2.7" ry="2.2" transform="rotate(91 53.7 598.4)" stroke-width="1.2" stroke-opacity="0.88"/>
<circle cx="69.6" cy="580.7" r="4.5" fill="#9078a8" stroke="none" fill-opacity="0.58"/>
<ellipse cx="83.7" cy="613.0" rx="2.4" ry="2.9" transform="rotate(48 83.7 613.0)" stroke-width="1.5" stroke-opacity="0.80"/>
<circle cx="67.2" cy="629.6" r="3.1" stroke-width="1.5" stroke-opacity="0.93"/>
<circle cx="112.0" cy="584.6" r="2.3" stroke-width="1.6" stroke-opacity="0.69"/>
<circle cx="80.2" cy="613.2" r="2.0" stroke-width="1.4" stroke-opacity="0.70"/>
<circle cx="51.5" cy="714.4" r="2.2" stroke-width="1.4" stroke-opacity="0.70"/>
<ellipse cx="29.1" cy="603.9" rx="2.4" ry="2.8" transform="rotate(139 29.1 603.9)" stroke-width="1.6" stroke-opacity="0.90"/>
<circle cx="37.8" cy="604.4" r="2.7" stroke-width="1.5" stroke-opacity="0.83"/>
<ellipse cx="42.0" cy="660.5" rx="2.6" ry="3.3" transform="rotate(92 42.0 660.5)" stroke-width="1.3" stroke-opacity="0.83"/>
<circle cx="125.5" cy="666.6" r="2.6" stroke-width="1.5" stroke-opacity="0.68"/>
<ellipse cx="79.9" cy="596.7" rx="2.5" ry="2.1" transform="rotate(19 79.9 596.7)" stroke-width="1.5" stroke-opacity="0.93"/>
<circle cx="48.8" cy="610.5" r="4.9" fill="#9078a8" stroke="none" fill-opacity="0.73"/>
<circle cx="125.1" cy="602.0" r="3.1" stroke-width="1.2" stroke-opacity="0.64"/>
<ellipse cx="28.1" cy="676.0" rx="2.1" ry="2.7" transform="rotate(170 28.1 676.0)" stroke-width="1.6" stroke-opacity="0.83"/>
<circle cx="65.0" cy="589.1" r="3.5" fill="#9078a8" stroke="none" fill-opacity="0.55"/>
<ellipse cx="29.8" cy="598.3" rx="3.5" ry="2.9" transform="rotate(138 29.8 598.3)" stroke-width="1.7" stroke-opacity="0.63"/>
<circle cx="50.6" cy="572.4" r="2.2" stroke-width="1.4" stroke-opacity="0.77"/>
<circle cx="91.1" cy="603.7" r="2.8" stroke-width="1.4" stroke-opacity="0.63"/>
<circle cx="43.3" cy="607.0" r="2.7" stroke-width="1.7" stroke-opacity="0.65"/>
<ellipse cx="62.9" cy="631.2" rx="2.7" ry="2.2" transform="rotate(138 62.9 631.2)" stroke-width="1.5" stroke-opacity="0.93"/>
<ellipse cx="58.4" cy="682.6" rx="2.7" ry="3.4" transform="rotate(125 58.4 682.6)" stroke-width="1.7" stroke-opacity="0.88"/>
<circle cx="156.2" cy="608.9" r="2.7" stroke-width="1.6" stroke-opacity="0.66"/>
<ellipse cx="126.2" cy="654.1" rx="2.0" ry="2.4" transform="rotate(76 126.2 654.1)" stroke-width="1.6" stroke-opacity="0.90"/>
<ellipse cx="83.3" cy="653.0" rx="2.2" ry="1.9" transform="rotate(176 83.3 653.0)" stroke-width="1.1" stroke-opacity="0.81"/>
<ellipse cx="129.7" cy="674.1" rx="2.6" ry="3.2" transform="rotate(95 129.7 674.1)" stroke-width="1.5" stroke-opacity="0.62"/>
<circle cx="61.5" cy="632.7" r="3.2" stroke-width="1.6" stroke-opacity="0.72"/>
<circle cx="33.1" cy="619.4" r="2.0" stroke-width="1.6" stroke-opacity="0.80"/>
<circle cx="32.7" cy="662.1" r="2.4" stroke-width="1.5" stroke-opacity="0.68"/>
<circle cx="46.8" cy="591.5" r="2.2" stroke-width="1.2" stroke-opacity="0.77"/>
<circle cx="58.7" cy="686.9" r="2.4" stroke-width="1.2" stroke-opacity="0.69"/>
<ellipse cx="37.3" cy="715.3" rx="2.1" ry="2.5" transform="rotate(59 37.3 715.3)" stroke-width="1.6" stroke-opacity="0.62"/>
<ellipse cx="61.1" cy="704.1" rx="2.6" ry="3.3" transform="rotate(63 61.1 704.1)" stroke-width="1.2" stroke-opacity="0.79"/>
<circle cx="64.7" cy="577.0" r="4.4" fill="#9078a8" stroke="none" fill-opacity="0.59"/>
<circle cx="44.6" cy="670.1" r="2.5" stroke-width="1.7" stroke-opacity="0.72"/>
<ellipse cx="36.3" cy="694.1" rx="2.9" ry="3.5" transform="rotate(171 36.3 694.1)" stroke-width="1.3" stroke-opacity="0.87"/>
<circle cx="65.9" cy="705.9" r="2.9" stroke-width="1.3" stroke-opacity="0.81"/>
<ellipse cx="59.8" cy="697.4" rx="2.3" ry="2.9" transform="rotate(127 59.8 697.4)" stroke-width="1.6" stroke-opacity="0.61"/>
<ellipse cx="79.8" cy="598.0" rx="2.2" ry="2.8" transform="rotate(40 79.8 598.0)" stroke-width="1.2" stroke-opacity="0.91"/>
<ellipse cx="59.4" cy="574.5" rx="3.4" ry="2.8" transform="rotate(36 59.4 574.5)" stroke-width="1.3" stroke-opacity="0.88"/>
<circle cx="53.8" cy="696.4" r="2.1" stroke-width="1.2" stroke-opacity="0.68"/>
<circle cx="49.1" cy="653.1" r="3.1" stroke-width="1.5" stroke-opacity="0.85"/>
<ellipse cx="75.2" cy="574.1" rx="2.4" ry="1.9" transform="rotate(88 75.2 574.1)" stroke-width="1.6" stroke-opacity="0.84"/>
<circle cx="81.0" cy="641.6" r="3.3" fill="#9078a8" stroke="none" fill-opacity="0.70"/>
<circle cx="61.4" cy="658.6" r="2.6" stroke-width="1.6" stroke-opacity="0.88"/>
<ellipse cx="57.6" cy="682.0" rx="1.9" ry="2.4" transform="rotate(79 57.6 682.0)" stroke-width="1.5" stroke-opacity="0.94"/>
<ellipse cx="32.6" cy="697.7" rx="3.1" ry="2.5" transform="rotate(163 32.6 697.7)" stroke-width="1.2" stroke-opacity="0.80"/>
<circle cx="74.9" cy="581.9" r="3.0" stroke-width="1.7" stroke-opacity="0.81"/>
<ellipse cx="31.1" cy="572.6" rx="2.8" ry="2.3" transform="rotate(173 31.1 572.6)" stroke-width="1.2" stroke-opacity="0.61"/>
<ellipse cx="71.1" cy="696.8" rx="2.3" ry="2.7" transform="rotate(44 71.1 696.8)" stroke-width="1.1" stroke-opacity="0.74"/>
<circle cx="138.9" cy="679.5" r="3.2" stroke-width="1.1" stroke-opacity="0.94"/>
<circle cx="28.0" cy="613.1" r="2.1" stroke-width="1.1" stroke-opacity="0.66"/>
<circle cx="83.3" cy="598.6" r="2.4" stroke-width="1.6" stroke-opacity="0.84"/>
<ellipse cx="33.2" cy="677.0" rx="2.6" ry="3.2" transform="rotate(148 33.2 677.0)" stroke-width="1.2" stroke-opacity="0.80"/>
<circle cx="81.1" cy="591.8" r="2.6" stroke-width="1.4" stroke-opacity="0.92"/>
<ellipse cx="108.9" cy="624.9" rx="3.4" ry="2.9" transform="rotate(41 108.9 624.9)" stroke-width="1.6" stroke-opacity="0.76"/>
<ellipse cx="73.0" cy="617.0" rx="3.4" ry="2.8" transform="rotate(80 73.0 617.0)" stroke-width="1.6" stroke-opacity="0.68"/>
<circle cx="67.4" cy="630.2" r="2.2" stroke-width="1.7" stroke-opacity="0.63"/>
<circle cx="35.0" cy="655.6" r="2.4" stroke-width="1.4" stroke-opacity="0.92"/>
<circle cx="125.2" cy="667.1" r="2.5" stroke-width="1.1" stroke-opacity="0.69"/>
<ellipse cx="42.2" cy="593.4" rx="2.5" ry="3.1" transform="rotate(127 42.2 593.4)" stroke-width="1.4" stroke-opacity="0.82"/>
<circle cx="59.5" cy="579.4" r="2.9" fill="#9078a8" stroke="none" fill-opacity="0.51"/>
<ellipse cx="105.8" cy="668.0" rx="1.8" ry="2.3" transform="rotate(149 105.8 668.0)" stroke-width="1.3" stroke-opacity="0.89"/>
<circle cx="38.7" cy="716.9" r="2.3" stroke-width="1.6" stroke-opacity="0.75"/>
<circle cx="35.6" cy="638.3" r="3.1" stroke-width="1.4" stroke-opacity="0.70"/>
<ellipse cx="70.2" cy="717.8" rx="2.4" ry="2.8" transform="rotate(55 70.2 717.8)" stroke-width="1.3" stroke-opacity="0.84"/>
<ellipse cx="88.9" cy="652.4" rx="2.1" ry="2.6" transform="rotate(63 88.9 652.4)" stroke-width="1.5" stroke-opacity="0.88"/>
<ellipse cx="86.1" cy="585.4" rx="2.7" ry="3.2" transform="rotate(121 86.1 585.4)" stroke-width="1.6" stroke-opacity="0.71"/>
<circle cx="33.2" cy="579.5" r="3.1" stroke-width="1.1" stroke-opacity="0.72"/>
<ellipse cx="24.7" cy="704.3" rx="3.0" ry="2.5" transform="rotate(164 24.7 704.3)" stroke-width="1.6" stroke-opacity="0.90"/>
<circle cx="48.6" cy="575.0" r="2.2" stroke-width="1.3" stroke-opacity="0.74"/>
<circle cx="39.2" cy="629.3" r="2.7" stroke-width="1.6" stroke-opacity="0.85"/>
<circle cx="52.4" cy="712.1" r="2.9" stroke-width="1.5" stroke-opacity="0.74"/>
<circle cx="71.5" cy="665.6" r="2.9" stroke-width="1.1" stroke-opacity="0.77"/>
<ellipse cx="80.3" cy="703.5" rx="2.0" ry="2.6" transform="rotate(41 80.3 703.5)" stroke-width="1.5" stroke-opacity="0.77"/>
<ellipse cx="52.9" cy="591.1" rx="2.1" ry="2.5" transform="rotate(39 52.9 591.1)" stroke-width="1.5" stroke-opacity="0.78"/>
<circle cx="61.8" cy="611.9" r="2.3" stroke-width="1.2" stroke-opacity="0.84"/>
<ellipse cx="35.8" cy="599.2" rx="2.6" ry="2.2" transform="rotate(74 35.8 599.2)" stroke-width="1.7" stroke-opacity="0.79"/>
<ellipse cx="72.7" cy="620.3" rx="2.1" ry="2.6" transform="rotate(27 72.7 620.3)" stroke-width="1.4" stroke-opacity="0.70"/>
<ellipse cx="71.8" cy="597.7" rx="2.8" ry="2.4" transform="rotate(137 71.8 597.7)" stroke-width="1.1" stroke-opacity="0.62"/>
<ellipse cx="27.2" cy="577.7" rx="2.9" ry="2.4" transform="rotate(93 27.2 577.7)" stroke-width="1.3" stroke-opacity="0.68"/>
<circle cx="113.3" cy="581.9" r="2.1" stroke-width="1.1" stroke-opacity="0.78"/>
<circle cx="42.5" cy="587.6" r="2.8" stroke-width="1.3" stroke-opacity="0.68"/>
<circle cx="33.9" cy="610.5" r="3.2" stroke-width="1.2" stroke-opacity="0.84"/>
<ellipse cx="57.8" cy="594.4" rx="2.9" ry="2.4" transform="rotate(64 57.8 594.4)" stroke-width="1.5" stroke-opacity="0.81"/>
<ellipse cx="54.5" cy="605.9" rx="1.9" ry="2.2" transform="rotate(14 54.5 605.9)" stroke-width="1.2" stroke-opacity="0.82"/>
<circle cx="67.6" cy="573.7" r="3.2" stroke-width="1.6" stroke-opacity="0.93"/>
<ellipse cx="21.6" cy="601.7" rx="2.6" ry="3.3" transform="rotate(15 21.6 601.7)" stroke-width="1.1" stroke-opacity="0.75"/>
<ellipse cx="78.9" cy="661.4" rx="2.8" ry="2.4" transform="rotate(14 78.9 661.4)" stroke-width="1.7" stroke-opacity="0.79"/>
<ellipse cx="111.4" cy="620.9" rx="2.8" ry="2.4" transform="rotate(108 111.4 620.9)" stroke-width="1.5" stroke-opacity="0.77"/>
<ellipse cx="133.0" cy="684.7" rx="2.2" ry="2.4" transform="rotate(157 133.0 684.7)" stroke-width="1.6" stroke-opacity="0.74"/>
<circle cx="45.1" cy="703.3" r="3.9" fill="#9078a8" stroke="none" fill-opacity="0.59"/>
<circle cx="53.6" cy="604.7" r="2.5" stroke-width="1.3" stroke-opacity="0.86"/>
<circle cx="67.8" cy="619.1" r="2.2" stroke-width="1.2" stroke-opacity="0.95"/>
<circle cx="45.3" cy="699.4" r="3.1" stroke-width="1.5" stroke-opacity="0.61"/>
<circle cx="49.6" cy="709.5" r="2.9" stroke-width="1.4" stroke-opacity="0.90"/>
<circle cx="110.9" cy="661.3" r="2.0" stroke-width="1.2" stroke-opacity="0.67"/>
<ellipse cx="53.1" cy="626.5" rx="2.1" ry="2.4" transform="rotate(5 53.1 626.5)" stroke-width="1.4" stroke-opacity="0.74"/>
<circle cx="61.4" cy="641.2" r="2.9" stroke-width="1.4" stroke-opacity="0.91"/>
<ellipse cx="114.7" cy="675.1" rx="2.7" ry="2.2" transform="rotate(102 114.7 675.1)" stroke-width="1.6" stroke-opacity="0.91"/>
<circle cx="29.9" cy="590.8" r="3.1" fill="#9078a8" stroke="none" fill-opacity="0.58"/>
<circle cx="82.1" cy="574.1" r="2.7" stroke-width="1.7" stroke-opacity="0.67"/>
<circle cx="40.5" cy="662.8" r="2.7" stroke-width="1.2" stroke-opacity="0.85"/>
<circle cx="39.0" cy="581.8" r="2.5" stroke-width="1.6" stroke-opacity="0.75"/>
<circle cx="72.5" cy="589.0" r="3.4" fill="#9078a8" stroke="none" fill-opacity="0.80"/>
<circle cx="43.2" cy="652.3" r="3.1" stroke-width="1.5" stroke-opacity="0.77"/>
<circle cx="93.3" cy="594.4" r="3.0" fill="#9078a8" stroke="none" fill-opacity="0.73"/>
<circle cx="64.4" cy="695.3" r="4.9" fill="#9078a8" stroke="none" fill-opacity="0.75"/>
<circle cx="42.6" cy="647.6" r="2.4" stroke-width="1.4" stroke-opacity="0.84"/>
<ellipse cx="95.7" cy="640.1" rx="2.3" ry="2.1" transform="rotate(149 95.7 640.1)" stroke-width="1.1" stroke-opacity="0.71"/>
<circle cx="48.3" cy="615.8" r="3.1" stroke-width="1.3" stroke-opacity="0.78"/>
<ellipse cx="31.3" cy="607.6" rx="2.4" ry="2.0" transform="rotate(169 31.3 607.6)" stroke-width="1.5" stroke-opacity="0.77"/>
<ellipse cx="140.6" cy="649.2" rx="2.9" ry="3.5" transform="rotate(12 140.6 649.2)" stroke-width="1.5" stroke-opacity="0.76"/>
<ellipse cx="77.5" cy="709.2" rx="3.5" ry="2.9" transform="rotate(90 77.5 709.2)" stroke-width="1.4" stroke-opacity="0.75"/>
<ellipse cx="100.2" cy="647.3" rx="1.9" ry="2.2" transform="rotate(93 100.2 647.3)" stroke-width="1.4" stroke-opacity="0.89"/>
<circle cx="42.4" cy="597.5" r="2.3" stroke-width="1.3" stroke-opacity="0.61"/>
<circle cx="50.8" cy="593.3" r="2.8" stroke-width="1.2" stroke-opacity="0.91"/>
<ellipse cx="67.3" cy="693.5" rx="2.1" ry="2.5" transform="rotate(21 67.3 693.5)" stroke-width="1.2" stroke-opacity="0.82"/>
<circle cx="88.2" cy="607.5" r="3.0" fill="#9078a8" stroke="none" fill-opacity="0.51"/>
<circle cx="35.2" cy="617.6" r="4.0" fill="#9078a8" stroke="none" fill-opacity="0.73"/>
<circle cx="26.6" cy="654.2" r="2.4" stroke-width="1.5" stroke-opacity="0.71"/>
<circle cx="88.2" cy="593.9" r="3.1" stroke-width="1.6" stroke-opacity="0.61"/>
<circle cx="84.6" cy="616.4" r="2.9" stroke-width="1.3" stroke-opacity="0.73"/>
<circle cx="32.1" cy="657.9" r="2.7" stroke-width="1.3" stroke-opacity="0.92"/>
<ellipse cx="105.9" cy="582.3" rx="2.8" ry="3.3" transform="rotate(151 105.9 582.3)" stroke-width="1.2" stroke-opacity="0.84"/>
<ellipse cx="86.3" cy="628.3" rx="2.3" ry="2.6" transform="rotate(81 86.3 628.3)" stroke-width="1.5" stroke-opacity="0.91"/>
<circle cx="116.8" cy="607.7" r="2.4" stroke-width="1.2" stroke-opacity="0.62"/>
<circle cx="47.3" cy="614.3" r="2.1" stroke-width="1.6" stroke-opacity="0.80"/>
<circle cx="62.7" cy="711.3" r="2.6" fill="#9078a8" stroke="none" fill-opacity="0.62"/>
<ellipse cx="38.7" cy="683.1" rx="2.4" ry="3.0" transform="rotate(26 38.7 683.1)" stroke-width="1.6" stroke-opacity="0.75"/>
<ellipse cx="57.2" cy="601.6" rx="2.4" ry="3.1" transform="rotate(39 57.2 601.6)" stroke-width="1.4" stroke-opacity="0.84"/>
<circle cx="35.6" cy="571.7" r="2.6" stroke-width="1.3" stroke-opacity="0.72"/>
<circle cx="75.2" cy="652.3" r="2.3" stroke-width="1.3" stroke-opacity="0.61"/>
<ellipse cx="67.0" cy="677.0" rx="2.5" ry="3.0" transform="rotate(24 67.0 677.0)" stroke-width="1.3" stroke-opacity="0.76"/>
<ellipse cx="40.0" cy="603.4" rx="2.5" ry="2.2" transform="rotate(159 40.0 603.4)" stroke-width="1.6" stroke-opacity="0.88"/>
<ellipse cx="149.8" cy="601.9" rx="3.1" ry="2.7" transform="rotate(92 149.8 601.9)" stroke-width="1.2" stroke-opacity="0.78"/>
<ellipse cx="99.1" cy="673.2" rx="2.8" ry="2.5" transform="rotate(57 99.1 673.2)" stroke-width="1.4" stroke-opacity="0.70"/>
<ellipse cx="49.1" cy="705.6" rx="2.2" ry="2.8" transform="rotate(116 49.1 705.6)" stroke-width="1.5" stroke-opacity="0.70"/>
<circle cx="22.0" cy="583.5" r="3.0" stroke-width="1.6" stroke-opacity="0.84"/>
<circle cx="70.0" cy="696.8" r="2.5" stroke-width="1.3" stroke-opacity="0.91"/>
<ellipse cx="54.3" cy="630.8" rx="2.8" ry="3.5" transform="rotate(63 54.3 630.8)" stroke-width="1.6" stroke-opacity="0.79"/>
<ellipse cx="33.1" cy="712.9" rx="2.2" ry="2.8" transform="rotate(74 33.1 712.9)" stroke-width="1.4" stroke-opacity="0.78"/>
<ellipse cx="59.8" cy="641.7" rx="1.8" ry="2.4" transform="rotate(37 59.8 641.7)" stroke-width="1.7" stroke-opacity="0.88"/>
<ellipse cx="96.6" cy="609.0" rx="3.2" ry="2.6" transform="rotate(111 96.6 609.0)" stroke-width="1.4" stroke-opacity="0.81"/>
<ellipse cx="45.8" cy="584.6" rx="1.9" ry="2.3" transform="rotate(62 45.8 584.6)" stroke-width="1.5" stroke-opacity="0.84"/>
<circle cx="92.5" cy="592.4" r="2.5" stroke-width="1.4" stroke-opacity="0.80"/>
<circle cx="21.7" cy="594.8" r="2.0" stroke-width="1.2" stroke-opacity="0.68"/>
<circle cx="45.8" cy="656.3" r="4.4" fill="#9078a8" stroke="none" fill-opacity="0.62"/>
<circle cx="68.6" cy="628.8" r="2.7" stroke-width="1.2" stroke-opacity="0.69"/>
<ellipse cx="47.1" cy="617.0" rx="2.6" ry="3.2" transform="rotate(8 47.1 617.0)" stroke-width="1.6" stroke-opacity="0.85"/>
<circle cx="73.3" cy="583.3" r="2.9" stroke-width="1.5" stroke-opacity="0.91"/>
<ellipse cx="38.6" cy="622.7" rx="3.5" ry="2.9" transform="rotate(47 38.6 622.7)" stroke-width="1.6" stroke-opacity="0.71"/>
<circle cx="70.2" cy="624.6" r="2.5" fill="#9078a8" stroke="none" fill-opacity="0.74"/>
<circle cx="122.0" cy="582.7" r="2.4" stroke-width="1.6" stroke-opacity="0.74"/>
<ellipse cx="42.0" cy="594.7" rx="2.2" ry="2.8" transform="rotate(151 42.0 594.7)" stroke-width="1.5" stroke-opacity="0.70"/>
<ellipse cx="39.2" cy="574.9" rx="2.6" ry="3.0" transform="rotate(60 39.2 574.9)" stroke-width="1.1" stroke-opacity="0.73"/>
<circle cx="153.0" cy="586.6" r="2.8" stroke-width="1.2" stroke-opacity="0.83"/>
<ellipse cx="93.2" cy="581.5" rx="2.8" ry="3.5" transform="rotate(105 93.2 581.5)" stroke-width="1.3" stroke-opacity="0.77"/>
<ellipse cx="85.2" cy="578.8" rx="2.3" ry="3.0" transform="rotate(155 85.2 578.8)" stroke-width="1.1" stroke-opacity="0.73"/>
<ellipse cx="125.5" cy="659.1" rx="2.4" ry="2.0" transform="rotate(46 125.5 659.1)" stroke-width="1.5" stroke-opacity="0.67"/>
<circle cx="30.7" cy="633.1" r="4.1" fill="#9078a8" stroke="none" fill-opacity="0.73"/>
<ellipse cx="54.4" cy="575.3" rx="2.3" ry="2.9" transform="rotate(138 54.4 575.3)" stroke-width="1.4" stroke-opacity="0.90"/>
<circle cx="28.8" cy="620.5" r="3.0" fill="#9078a8" stroke="none" fill-opacity="0.66"/>
<ellipse cx="75.4" cy="594.6" rx="2.9" ry="2.6" transform="rotate(13 75.4 594.6)" stroke-width="1.5" stroke-opacity="0.72"/>
<circle cx="60.7" cy="592.2" r="3.2" fill="#9078a8" stroke="none" fill-opacity="0.72"/>
<ellipse cx="65.2" cy="589.6" rx="2.1" ry="2.5" transform="rotate(11 65.2 589.6)" stroke-width="1.5" stroke-opacity="0.65"/>
<circle cx="42.6" cy="693.4" r="3.2" stroke-width="1.6" stroke-opacity="0.68"/>
<ellipse cx="54.4" cy="700.9" rx="2.3" ry="2.8" transform="rotate(133 54.4 700.9)" stroke-width="1.4" stroke-opacity="0.66"/>
<ellipse cx="25.9" cy="594.6" rx="2.4" ry="2.9" transform="rotate(145 25.9 594.6)" stroke-width="1.3" stroke-opacity="0.86"/>
<circle cx="93.9" cy="577.4" r="2.5" fill="#9078a8" stroke="none" fill-opacity="0.61"/>
<ellipse cx="153.0" cy="679.9" rx="2.2" ry="1.8" transform="rotate(108 153.0 679.9)" stroke-width="1.6" stroke-opacity="0.91"/>
<ellipse cx="30.0" cy="595.4" rx="2.7" ry="2.2" transform="rotate(33 30.0 595.4)" stroke-width="1.4" stroke-opacity="0.66"/>
<ellipse cx="85.2" cy="573.8" rx="2.8" ry="3.4" transform="rotate(167 85.2 573.8)" stroke-width="1.7" stroke-opacity="0.61"/>
<ellipse cx="86.7" cy="577.0" rx="2.5" ry="2.2" transform="rotate(179 86.7 577.0)" stroke-width="1.6" stroke-opacity="0.86"/>
<circle cx="100.5" cy="617.3" r="2.8" stroke-width="1.6" stroke-opacity="0.69"/>
<circle cx="102.9" cy="629.6" r="2.1" stroke-width="1.3" stroke-opacity="0.81"/>
<ellipse cx="41.1" cy="619.4" rx="2.9" ry="2.5" transform="rotate(71 41.1 619.4)" stroke-width="1.6" stroke-opacity="0.95"/>
<ellipse cx="67.3" cy="683.5" rx="2.5" ry="3.0" transform="rotate(103 67.3 683.5)" stroke-width="1.7" stroke-opacity="0.77"/>
<circle cx="46.5" cy="644.0" r="4.4" fill="#9078a8" stroke="none" fill-opacity="0.73"/>
<ellipse cx="46.7" cy="659.5" rx="3.0" ry="2.4" transform="rotate(99 46.7 659.5)" stroke-width="1.2" stroke-opacity="0.67"/>
<circle cx="69.0" cy="606.3" r="3.0" stroke-width="1.7" stroke-opacity="0.73"/>
<ellipse cx="112.9" cy="602.9" rx="2.1" ry="2.4" transform="rotate(142 112.9 602.9)" stroke-width="1.6" stroke-opacity="0.81"/>
<circle cx="37.5" cy="610.4" r="2.1" stroke-width="1.5" stroke-opacity="0.82"/>
<circle cx="95.6" cy="572.0" r="2.6" stroke-width="1.1" stroke-opacity="0.92"/>
<circle cx="90.5" cy="608.3" r="2.2" stroke-width="1.4" stroke-opacity="0.84"/>
<circle cx="86.9" cy="590.8" r="2.7" stroke-width="1.2" stroke-opacity="0.87"/>
<circle cx="72.5" cy="585.8" r="2.7" stroke-width="1.6" stroke-opacity="0.94"/>
<circle cx="50.4" cy="602.8" r="4.0" fill="#9078a8" stroke="none" fill-opacity="0.74"/>
<ellipse cx="74.1" cy="575.1" rx="2.8" ry="3.3" transform="rotate(172 74.1 575.1)" stroke-width="1.4" stroke-opacity="0.84"/>
<ellipse cx="52.2" cy="699.8" rx="1.8" ry="2.3" transform="rotate(117 52.2 699.8)" stroke-width="1.2" stroke-opacity="0.84"/>
<ellipse cx="26.0" cy="658.1" rx="2.5" ry="2.1" transform="rotate(28 26.0 658.1)" stroke-width="1.4" stroke-opacity="0.62"/>
<circle cx="120.9" cy="610.6" r="2.6" stroke-width="1.2" stroke-opacity="0.90"/>
<circle cx="36.4" cy="616.5" r="2.4" stroke-width="1.2" stroke-opacity="0.90"/>
<circle cx="88.6" cy="599.4" r="2.4" stroke-width="1.5" stroke-opacity="0.75"/>
</g>
<g fill="#3a2c66">
<circle cx="62.0" cy="634.1" r="2.1" fill-opacity="0.75"/>
<circle cx="61.0" cy="631.8" r="2.1" fill-opacity="0.79"/>
<circle cx="41.7" cy="594.1" r="1.7" fill-opacity="0.67"/>
<circle cx="45.5" cy="594.5" r="1.9" fill-opacity="0.55"/>
<circle cx="47.3" cy="590.2" r="2.6" fill-opacity="0.82"/>
<circle cx="26.8" cy="708.7" r="2.0" fill-opacity="0.94"/>
<circle cx="46.5" cy="582.1" r="2.5" fill-opacity="0.76"/>
<circle cx="99.5" cy="614.2" r="1.8" fill-opacity="0.85"/>
<circle cx="100.7" cy="614.0" r="1.9" fill-opacity="0.84"/>
<circle cx="88.6" cy="590.5" r="1.7" fill-opacity="0.74"/>
<circle cx="48.6" cy="583.8" r="2.2" fill-opacity="0.79"/>
<circle cx="51.8" cy="583.3" r="2.3" fill-opacity="0.90"/>
<circle cx="57.1" cy="617.1" r="2.7" fill-opacity="0.60"/>
<circle cx="23.5" cy="664.6" r="2.1" fill-opacity="0.58"/>
<circle cx="66.4" cy="618.6" r="2.7" fill-opacity="0.74"/>
<circle cx="40.8" cy="576.8" r="1.6" fill-opacity="0.78"/>
<circle cx="110.6" cy="661.0" r="2.5" fill-opacity="0.59"/>
<circle cx="79.5" cy="647.5" r="1.5" fill-opacity="0.77"/>
<circle cx="82.0" cy="647.9" r="2.2" fill-opacity="0.75"/>
<circle cx="34.3" cy="604.9" r="1.5" fill-opacity="0.68"/>
<circle cx="26.7" cy="644.6" r="2.5" fill-opacity="0.92"/>
<circle cx="45.4" cy="716.4" r="1.6" fill-opacity="0.89"/>
<circle cx="64.7" cy="612.2" r="2.2" fill-opacity="0.65"/>
<circle cx="32.8" cy="579.1" r="1.8" fill-opacity="0.70"/>
<circle cx="28.4" cy="579.4" r="2.0" fill-opacity="0.87"/>
<circle cx="33.7" cy="664.2" r="1.6" fill-opacity="0.79"/>
<circle cx="37.3" cy="630.0" r="2.5" fill-opacity="0.84"/>
<circle cx="35.5" cy="628.2" r="2.3" fill-opacity="0.78"/>
<circle cx="31.0" cy="682.1" r="2.2" fill-opacity="0.60"/>
<circle cx="29.5" cy="683.6" r="1.4" fill-opacity="0.66"/>
<circle cx="106.4" cy="672.1" r="2.1" fill-opacity="0.90"/>
<circle cx="105.4" cy="673.8" r="2.7" fill-opacity="0.66"/>
<circle cx="69.3" cy="576.6" r="2.8" fill-opacity="0.81"/>
<circle cx="35.7" cy="587.7" r="2.2" fill-opacity="0.91"/>
<circle cx="27.3" cy="672.1" r="2.5" fill-opacity="0.84"/>
<circle cx="28.6" cy="671.9" r="2.6" fill-opacity="0.57"/>
<circle cx="26.9" cy="676.2" r="2.4" fill-opacity="0.95"/>
<circle cx="35.5" cy="574.4" r="2.6" fill-opacity="0.88"/>
<circle cx="67.0" cy="594.9" r="1.5" fill-opacity="0.82"/>
<circle cx="67.0" cy="597.7" r="2.7" fill-opacity="0.87"/>
<circle cx="67.7" cy="599.6" r="2.7" fill-opacity="0.73"/>
<circle cx="21.4" cy="662.2" r="1.9" fill-opacity="0.68"/>
<circle cx="23.6" cy="659.9" r="2.1" fill-opacity="0.56"/>
<circle cx="67.1" cy="579.1" r="1.8" fill-opacity="0.79"/>
<circle cx="69.1" cy="580.2" r="2.0" fill-opacity="0.94"/>
<circle cx="49.6" cy="650.2" r="2.1" fill-opacity="0.69"/>
<circle cx="78.9" cy="623.6" r="2.6" fill-opacity="0.61"/>
<circle cx="31.5" cy="669.1" r="1.6" fill-opacity="0.89"/>
<circle cx="31.9" cy="631.9" r="1.5" fill-opacity="0.86"/>
<circle cx="23.5" cy="697.9" r="2.0" fill-opacity="0.68"/>
<circle cx="24.3" cy="693.6" r="2.6" fill-opacity="0.56"/>
<circle cx="66.4" cy="575.4" r="2.6" fill-opacity="0.93"/>
<circle cx="72.7" cy="616.8" r="2.5" fill-opacity="0.65"/>
<circle cx="84.1" cy="578.3" r="2.6" fill-opacity="0.94"/>
<circle cx="83.3" cy="581.0" r="1.6" fill-opacity="0.63"/>
<circle cx="80.3" cy="576.7" r="1.4" fill-opacity="0.87"/>
<circle cx="44.0" cy="643.4" r="2.4" fill-opacity="0.91"/>
<circle cx="55.4" cy="621.0" r="2.1" fill-opacity="0.72"/>
<circle cx="55.3" cy="623.3" r="2.6" fill-opacity="0.90"/>
<circle cx="29.6" cy="637.0" r="2.1" fill-opacity="0.70"/>
<circle cx="32.5" cy="641.3" r="2.1" fill-opacity="0.60"/>
<circle cx="31.6" cy="583.9" r="1.6" fill-opacity="0.78"/>
<circle cx="33.4" cy="580.0" r="2.3" fill-opacity="0.63"/>
<circle cx="34.5" cy="584.5" r="2.0" fill-opacity="0.79"/>
<circle cx="59.4" cy="578.2" r="2.6" fill-opacity="0.63"/>
<circle cx="57.3" cy="580.0" r="2.0" fill-opacity="0.71"/>
<circle cx="47.3" cy="654.3" r="1.5" fill-opacity="0.78"/>
<circle cx="43.9" cy="651.4" r="1.7" fill-opacity="0.82"/>
<circle cx="45.9" cy="651.4" r="2.7" fill-opacity="0.90"/>
<circle cx="23.8" cy="664.1" r="2.2" fill-opacity="0.78"/>
<circle cx="34.7" cy="603.3" r="1.4" fill-opacity="0.84"/>
<circle cx="62.0" cy="587.5" r="2.3" fill-opacity="0.67"/>
<circle cx="25.4" cy="660.5" r="1.7" fill-opacity="0.74"/>
<circle cx="24.9" cy="657.4" r="2.6" fill-opacity="0.89"/>
<circle cx="65.3" cy="574.1" r="1.7" fill-opacity="0.67"/>
<circle cx="64.7" cy="575.7" r="2.3" fill-opacity="0.63"/>
<circle cx="62.8" cy="576.9" r="2.7" fill-opacity="0.94"/>
<circle cx="77.5" cy="631.6" r="2.0" fill-opacity="0.63"/>
<circle cx="77.0" cy="633.5" r="1.9" fill-opacity="0.90"/>
<circle cx="37.0" cy="574.5" r="1.9" fill-opacity="0.92"/>
<circle cx="35.6" cy="576.5" r="2.1" fill-opacity="0.87"/>
<circle cx="60.5" cy="657.0" r="1.5" fill-opacity="0.59"/>
<circle cx="25.6" cy="707.7" r="1.9" fill-opacity="0.75"/>
<circle cx="45.4" cy="581.6" r="2.6" fill-opacity="0.56"/>
<circle cx="88.4" cy="637.5" r="2.5" fill-opacity="0.87"/>
<circle cx="89.9" cy="635.9" r="2.2" fill-opacity="0.58"/>
<circle cx="97.4" cy="626.2" r="2.3" fill-opacity="0.58"/>
<circle cx="78.0" cy="579.4" r="2.1" fill-opacity="0.90"/>
<circle cx="60.8" cy="654.9" r="1.9" fill-opacity="0.65"/>
<circle cx="40.4" cy="573.7" r="2.4" fill-opacity="0.70"/>
<circle cx="39.7" cy="577.9" r="1.9" fill-opacity="0.85"/>
<circle cx="37.2" cy="575.1" r="2.4" fill-opacity="0.71"/>
<circle cx="33.7" cy="586.8" r="1.9" fill-opacity="0.61"/>
<circle cx="81.2" cy="657.6" r="2.2" fill-opacity="0.94"/>
<circle cx="72.2" cy="616.8" r="2.3" fill-opacity="0.68"/>
<circle cx="69.9" cy="619.8" r="2.4" fill-opacity="0.82"/>
<circle cx="67.7" cy="617.2" r="1.5" fill-opacity="0.67"/>
<circle cx="49.3" cy="615.6" r="2.3" fill-opacity="0.82"/>
<circle cx="60.6" cy="672.0" r="2.6" fill-opacity="0.77"/>
<circle cx="63.2" cy="630.4" r="2.4" fill-opacity="0.67"/>
<circle cx="35.0" cy="663.0" r="1.5" fill-opacity="0.67"/>
<circle cx="35.5" cy="660.7" r="1.5" fill-opacity="0.91"/>
<circle cx="35.8" cy="663.3" r="2.1" fill-opacity="0.83"/>
<circle cx="36.2" cy="696.3" r="1.6" fill-opacity="0.62"/>
<circle cx="28.3" cy="668.1" r="2.4" fill-opacity="0.61"/>
<circle cx="64.0" cy="582.4" r="1.6" fill-opacity="0.87"/>
<circle cx="112.4" cy="665.3" r="2.4" fill-opacity="0.70"/>
<circle cx="45.0" cy="636.4" r="2.7" fill-opacity="0.85"/>
<circle cx="26.8" cy="660.8" r="2.2" fill-opacity="0.62"/>
<circle cx="25.4" cy="658.1" r="2.3" fill-opacity="0.66"/>
<circle cx="26.8" cy="659.8" r="1.9" fill-opacity="0.68"/>
<circle cx="87.4" cy="581.3" r="2.3" fill-opacity="0.75"/>
<circle cx="85.2" cy="577.0" r="2.0" fill-opacity="0.77"/>
<circle cx="63.3" cy="616.6" r="2.3" fill-opacity="0.59"/>
<circle cx="65.7" cy="581.6" r="1.8" fill-opacity="0.70"/>
<circle cx="25.7" cy="707.0" r="2.3" fill-opacity="0.74"/>
<circle cx="25.7" cy="707.2" r="1.6" fill-opacity="0.69"/>
<circle cx="23.2" cy="703.7" r="1.8" fill-opacity="0.64"/>
<circle cx="38.9" cy="582.4" r="1.7" fill-opacity="0.71"/>
<circle cx="36.6" cy="583.0" r="1.9" fill-opacity="0.70"/>
<circle cx="24.6" cy="647.2" r="2.0" fill-opacity="0.75"/>
<circle cx="23.6" cy="601.1" r="2.4" fill-opacity="0.89"/>
<circle cx="20.8" cy="600.1" r="1.7" fill-opacity="0.80"/>
<circle cx="111.5" cy="651.4" r="2.1" fill-opacity="0.74"/>
<circle cx="83.1" cy="631.6" r="2.6" fill-opacity="0.79"/>
<circle cx="28.8" cy="649.2" r="2.4" fill-opacity="0.92"/>
<circle cx="127.0" cy="664.6" r="1.6" fill-opacity="0.84"/>
<circle cx="28.9" cy="625.0" r="2.2" fill-opacity="0.64"/>
<circle cx="30.1" cy="578.9" r="2.5" fill-opacity="0.91"/>
<circle cx="67.1" cy="595.1" r="2.0" fill-opacity="0.56"/>
<circle cx="66.4" cy="594.1" r="1.8" fill-opacity="0.59"/>
<circle cx="68.7" cy="593.8" r="2.4" fill-opacity="0.90"/>
<circle cx="25.3" cy="606.9" r="1.5" fill-opacity="0.84"/>
<circle cx="24.8" cy="605.5" r="1.5" fill-opacity="0.72"/>
<circle cx="71.7" cy="596.9" r="1.5" fill-opacity="0.95"/>
<circle cx="71.1" cy="594.9" r="2.1" fill-opacity="0.85"/>
<circle cx="71.8" cy="594.7" r="2.6" fill-opacity="0.82"/>
<circle cx="39.3" cy="603.0" r="2.5" fill-opacity="0.80"/>
<circle cx="40.4" cy="648.9" r="2.7" fill-opacity="0.89"/>
</g>
</g>
</g>
<clipPath id="clip2"><rect x="197.2" y="571.7" width="146.8" height="147"/></clipPath>
<filter id="bl2" x="-10%" y="-10%" width="120%" height="120%"><feGaussianBlur stdDeviation="3.2"/></filter>
<g clip-path="url(#clip2)">
<rect x="197.2" y="571.7" width="146.8" height="147" fill="#eeeff3"/>
<g filter="url(#bl2)">
<rect x="196.7" y="571.2" width="13.2" height="13.2" fill="#5e4896" fill-opacity="0.79"/>
<rect x="208.9" y="571.2" width="13.2" height="13.2" fill="#5e4896" fill-opacity="0.79"/>
<rect x="221.2" y="571.2" width="13.2" height="13.2" fill="#5e4896" fill-opacity="0.30"/>
<rect x="233.4" y="571.2" width="13.2" height="13.2" fill="#5e4896" fill-opacity="0.63"/>
<rect x="245.6" y="571.2" width="13.2" height="13.2" fill="#5e4896" fill-opacity="0.46"/>
<rect x="257.9" y="571.2" width="13.2" height="13.2" fill="#5e4896" fill-opacity="0.30"/>
<rect x="270.1" y="571.2" width="13.2" height="13.2" fill="#5e4896" fill-opacity="0.00"/>
<rect x="282.3" y="571.2" width="13.2" height="13.2" fill="#5e4896" fill-opacity="0.46"/>
<rect x="294.6" y="571.2" width="13.2" height="13.2" fill="#5e4896" fill-opacity="0.79"/>
<rect x="306.8" y="571.2" width="13.2" height="13.2" fill="#5e4896" fill-opacity="0.63"/>
<rect x="319.0" y="571.2" width="13.2" height="13.2" fill="#5e4896" fill-opacity="0.30"/>
<rect x="331.3" y="571.2" width="13.2" height="13.2" fill="#5e4896" fill-opacity="0.14"/>
<rect x="196.7" y="583.5" width="13.2" height="13.2" fill="#5e4896" fill-opacity="0.79"/>
<rect x="208.9" y="583.5" width="13.2" height="13.2" fill="#5e4896" fill-opacity="0.63"/>
<rect x="221.2" y="583.5" width="13.2" height="13.2" fill="#5e4896" fill-opacity="0.46"/>
<rect x="233.4" y="583.5" width="13.2" height="13.2" fill="#5e4896" fill-opacity="0.63"/>
<rect x="245.6" y="583.5" width="13.2" height="13.2" fill="#5e4896" fill-opacity="0.63"/>
<rect x="257.9" y="583.5" width="13.2" height="13.2" fill="#5e4896" fill-opacity="0.46"/>
<rect x="270.1" y="583.5" width="13.2" height="13.2" fill="#5e4896" fill-opacity="0.30"/>
<rect x="282.3" y="583.5" width="13.2" height="13.2" fill="#5e4896" fill-opacity="0.46"/>
<rect x="294.6" y="583.5" width="13.2" height="13.2" fill="#5e4896" fill-opacity="0.79"/>
<rect x="306.8" y="583.5" width="13.2" height="13.2" fill="#5e4896" fill-opacity="0.79"/>
<rect x="319.0" y="583.5" width="13.2" height="13.2" fill="#5e4896" fill-opacity="0.63"/>
<rect x="331.3" y="583.5" width="13.2" height="13.2" fill="#5e4896" fill-opacity="0.46"/>
<rect x="196.7" y="595.7" width="13.2" height="13.2" fill="#5e4896" fill-opacity="0.14"/>
<rect x="208.9" y="595.7" width="13.2" height="13.2" fill="#5e4896" fill-opacity="0.46"/>
<rect x="221.2" y="595.7" width="13.2" height="13.2" fill="#5e4896" fill-opacity="0.63"/>
<rect x="233.4" y="595.7" width="13.2" height="13.2" fill="#5e4896" fill-opacity="0.14"/>
<rect x="245.6" y="595.7" width="13.2" height="13.2" fill="#5e4896" fill-opacity="0.30"/>
<rect x="257.9" y="595.7" width="13.2" height="13.2" fill="#5e4896" fill-opacity="0.30"/>
<rect x="270.1" y="595.7" width="13.2" height="13.2" fill="#5e4896" fill-opacity="0.30"/>
<rect x="282.3" y="595.7" width="13.2" height="13.2" fill="#5e4896" fill-opacity="0.63"/>
<rect x="294.6" y="595.7" width="13.2" height="13.2" fill="#5e4896" fill-opacity="0.63"/>
<rect x="306.8" y="595.7" width="13.2" height="13.2" fill="#5e4896" fill-opacity="0.79"/>
<rect x="319.0" y="595.7" width="13.2" height="13.2" fill="#5e4896" fill-opacity="0.79"/>
<rect x="331.3" y="595.7" width="13.2" height="13.2" fill="#5e4896" fill-opacity="0.63"/>
<rect x="196.7" y="608.0" width="13.2" height="13.2" fill="#5e4896" fill-opacity="0.63"/>
<rect x="208.9" y="608.0" width="13.2" height="13.2" fill="#5e4896" fill-opacity="0.63"/>
<rect x="221.2" y="608.0" width="13.2" height="13.2" fill="#5e4896" fill-opacity="0.63"/>
<rect x="233.4" y="608.0" width="13.2" height="13.2" fill="#5e4896" fill-opacity="0.46"/>
<rect x="245.6" y="608.0" width="13.2" height="13.2" fill="#5e4896" fill-opacity="0.46"/>
<rect x="257.9" y="608.0" width="13.2" height="13.2" fill="#5e4896" fill-opacity="0.14"/>
<rect x="270.1" y="608.0" width="13.2" height="13.2" fill="#5e4896" fill-opacity="0.00"/>
<rect x="282.3" y="608.0" width="13.2" height="13.2" fill="#5e4896" fill-opacity="0.30"/>
<rect x="294.6" y="608.0" width="13.2" height="13.2" fill="#5e4896" fill-opacity="0.46"/>
<rect x="306.8" y="608.0" width="13.2" height="13.2" fill="#5e4896" fill-opacity="0.63"/>
<rect x="319.0" y="608.0" width="13.2" height="13.2" fill="#5e4896" fill-opacity="0.46"/>
<rect x="331.3" y="608.0" width="13.2" height="13.2" fill="#5e4896" fill-opacity="0.14"/>
<rect x="196.7" y="620.2" width="13.2" height="13.2" fill="#5e4896" fill-opacity="0.79"/>
<rect x="208.9" y="620.2" width="13.2" height="13.2" fill="#5e4896" fill-opacity="0.63"/>
<rect x="221.2" y="620.2" width="13.2" height="13.2" fill="#5e4896" fill-opacity="0.46"/>
<rect x="233.4" y="620.2" width="13.2" height="13.2" fill="#5e4896" fill-opacity="0.14"/>
<rect x="245.6" y="620.2" width="13.2" height="13.2" fill="#5e4896" fill-opacity="0.00"/>
<rect x="257.9" y="620.2" width="13.2" height="13.2" fill="#5e4896" fill-opacity="0.00"/>
<rect x="270.1" y="620.2" width="13.2" height="13.2" fill="#5e4896" fill-opacity="0.14"/>
<rect x="282.3" y="620.2" width="13.2" height="13.2" fill="#5e4896" fill-opacity="0.00"/>
<rect x="294.6" y="620.2" width="13.2" height="13.2" fill="#5e4896" fill-opacity="0.00"/>
<rect x="306.8" y="620.2" width="13.2" height="13.2" fill="#5e4896" fill-opacity="0.14"/>
<rect x="319.0" y="620.2" width="13.2" height="13.2" fill="#5e4896" fill-opacity="0.00"/>
<rect x="196.7" y="632.5" width="13.2" height="13.2" fill="#5e4896" fill-opacity="0.79"/>
<rect x="208.9" y="632.5" width="13.2" height="13.2" fill="#5e4896" fill-opacity="0.79"/>
<rect x="221.2" y="632.5" width="13.2" height="13.2" fill="#5e4896" fill-opacity="0.63"/>
<rect x="233.4" y="632.5" width="13.2" height="13.2" fill="#5e4896" fill-opacity="0.30"/>
<rect x="245.6" y="632.5" width="13.2" height="13.2" fill="#5e4896" fill-opacity="0.46"/>
<rect x="257.9" y="632.5" width="13.2" height="13.2" fill="#5e4896" fill-opacity="0.46"/>
<rect x="270.1" y="632.5" width="13.2" height="13.2" fill="#5e4896" fill-opacity="0.63"/>
<rect x="282.3" y="632.5" width="13.2" height="13.2" fill="#5e4896" fill-opacity="0.30"/>
<rect x="294.6" y="632.5" width="13.2" height="13.2" fill="#5e4896" fill-opacity="0.30"/>
<rect x="306.8" y="632.5" width="13.2" height="13.2" fill="#5e4896" fill-opacity="0.14"/>
<rect x="196.7" y="644.7" width="13.2" height="13.2" fill="#5e4896" fill-opacity="0.79"/>
<rect x="208.9" y="644.7" width="13.2" height="13.2" fill="#5e4896" fill-opacity="0.79"/>
<rect x="221.2" y="644.7" width="13.2" height="13.2" fill="#5e4896" fill-opacity="0.79"/>
<rect x="233.4" y="644.7" width="13.2" height="13.2" fill="#5e4896" fill-opacity="0.63"/>
<rect x="245.6" y="644.7" width="13.2" height="13.2" fill="#5e4896" fill-opacity="0.63"/>
<rect x="257.9" y="644.7" width="13.2" height="13.2" fill="#5e4896" fill-opacity="0.63"/>
<rect x="270.1" y="644.7" width="13.2" height="13.2" fill="#5e4896" fill-opacity="0.63"/>
<rect x="282.3" y="644.7" width="13.2" height="13.2" fill="#5e4896" fill-opacity="0.63"/>
<rect x="294.6" y="644.7" width="13.2" height="13.2" fill="#5e4896" fill-opacity="0.46"/>
<rect x="306.8" y="644.7" width="13.2" height="13.2" fill="#5e4896" fill-opacity="0.00"/>
<rect x="196.7" y="657.0" width="13.2" height="13.2" fill="#5e4896" fill-opacity="0.79"/>
<rect x="208.9" y="657.0" width="13.2" height="13.2" fill="#5e4896" fill-opacity="0.63"/>
<rect x="221.2" y="657.0" width="13.2" height="13.2" fill="#5e4896" fill-opacity="0.63"/>
<rect x="233.4" y="657.0" width="13.2" height="13.2" fill="#5e4896" fill-opacity="0.63"/>
<rect x="245.6" y="657.0" width="13.2" height="13.2" fill="#5e4896" fill-opacity="0.63"/>
<rect x="257.9" y="657.0" width="13.2" height="13.2" fill="#5e4896" fill-opacity="0.63"/>
<rect x="270.1" y="657.0" width="13.2" height="13.2" fill="#5e4896" fill-opacity="0.63"/>
<rect x="282.3" y="657.0" width="13.2" height="13.2" fill="#5e4896" fill-opacity="0.46"/>
<rect x="294.6" y="657.0" width="13.2" height="13.2" fill="#5e4896" fill-opacity="0.30"/>
<rect x="306.8" y="657.0" width="13.2" height="13.2" fill="#5e4896" fill-opacity="0.00"/>
<rect x="196.7" y="669.2" width="13.2" height="13.2" fill="#5e4896" fill-opacity="0.63"/>
<rect x="208.9" y="669.2" width="13.2" height="13.2" fill="#5e4896" fill-opacity="0.30"/>
<rect x="221.2" y="669.2" width="13.2" height="13.2" fill="#5e4896" fill-opacity="0.46"/>
<rect x="233.4" y="669.2" width="13.2" height="13.2" fill="#5e4896" fill-opacity="0.63"/>
<rect x="245.6" y="669.2" width="13.2" height="13.2" fill="#5e4896" fill-opacity="0.63"/>
<rect x="257.9" y="669.2" width="13.2" height="13.2" fill="#5e4896" fill-opacity="0.63"/>
<rect x="270.1" y="669.2" width="13.2" height="13.2" fill="#5e4896" fill-opacity="0.63"/>
<rect x="282.3" y="669.2" width="13.2" height="13.2" fill="#5e4896" fill-opacity="0.30"/>
<rect x="294.6" y="669.2" width="13.2" height="13.2" fill="#5e4896" fill-opacity="0.00"/>
<rect x="196.7" y="681.5" width="13.2" height="13.2" fill="#5e4896" fill-opacity="0.63"/>
<rect x="208.9" y="681.5" width="13.2" height="13.2" fill="#5e4896" fill-opacity="0.30"/>
<rect x="221.2" y="681.5" width="13.2" height="13.2" fill="#5e4896" fill-opacity="0.63"/>
<rect x="233.4" y="681.5" width="13.2" height="13.2" fill="#5e4896" fill-opacity="0.63"/>
<rect x="245.6" y="681.5" width="13.2" height="13.2" fill="#5e4896" fill-opacity="0.46"/>
<rect x="257.9" y="681.5" width="13.2" height="13.2" fill="#5e4896" fill-opacity="0.63"/>
<rect x="270.1" y="681.5" width="13.2" height="13.2" fill="#5e4896" fill-opacity="0.63"/>
<rect x="282.3" y="681.5" width="13.2" height="13.2" fill="#5e4896" fill-opacity="0.30"/>
<rect x="294.6" y="681.5" width="13.2" height="13.2" fill="#5e4896" fill-opacity="0.00"/>
<rect x="196.7" y="693.7" width="13.2" height="13.2" fill="#5e4896" fill-opacity="0.79"/>
<rect x="208.9" y="693.7" width="13.2" height="13.2" fill="#5e4896" fill-opacity="0.30"/>
<rect x="221.2" y="693.7" width="13.2" height="13.2" fill="#5e4896" fill-opacity="0.14"/>
<rect x="233.4" y="693.7" width="13.2" height="13.2" fill="#5e4896" fill-opacity="0.63"/>
<rect x="245.6" y="693.7" width="13.2" height="13.2" fill="#5e4896" fill-opacity="0.46"/>
<rect x="257.9" y="693.7" width="13.2" height="13.2" fill="#5e4896" fill-opacity="0.14"/>
<rect x="270.1" y="693.7" width="13.2" height="13.2" fill="#5e4896" fill-opacity="0.63"/>
<rect x="282.3" y="693.7" width="13.2" height="13.2" fill="#5e4896" fill-opacity="0.63"/>
<rect x="294.6" y="693.7" width="13.2" height="13.2" fill="#5e4896" fill-opacity="0.46"/>
<rect x="306.8" y="693.7" width="13.2" height="13.2" fill="#5e4896" fill-opacity="0.00"/>
<rect x="196.7" y="706.0" width="13.2" height="13.2" fill="#5e4896" fill-opacity="0.63"/>
<rect x="208.9" y="706.0" width="13.2" height="13.2" fill="#5e4896" fill-opacity="0.30"/>
<rect x="221.2" y="706.0" width="13.2" height="13.2" fill="#5e4896" fill-opacity="0.30"/>
<rect x="233.4" y="706.0" width="13.2" height="13.2" fill="#5e4896" fill-opacity="0.63"/>
<rect x="245.6" y="706.0" width="13.2" height="13.2" fill="#5e4896" fill-opacity="0.63"/>
<rect x="257.9" y="706.0" width="13.2" height="13.2" fill="#5e4896" fill-opacity="0.30"/>
<rect x="270.1" y="706.0" width="13.2" height="13.2" fill="#5e4896" fill-opacity="0.63"/>
<rect x="282.3" y="706.0" width="13.2" height="13.2" fill="#5e4896" fill-opacity="0.63"/>
<rect x="294.6" y="706.0" width="13.2" height="13.2" fill="#5e4896" fill-opacity="0.46"/>
<rect x="306.8" y="706.0" width="13.2" height="13.2" fill="#5e4896" fill-opacity="0.00"/>
<rect x="197.2" y="571.7" width="12.2" height="12.2" fill="#3a2a80" fill-opacity="0.25"/>
<rect x="209.4" y="571.7" width="12.2" height="12.2" fill="#3a2a80" fill-opacity="0.25"/>
<rect x="295.1" y="571.7" width="12.2" height="12.2" fill="#3a2a80" fill-opacity="0.50"/>
<rect x="307.3" y="571.7" width="12.2" height="12.2" fill="#3a2a80" fill-opacity="0.50"/>
<rect x="197.2" y="584.0" width="12.2" height="12.2" fill="#3a2a80" fill-opacity="0.25"/>
<rect x="282.8" y="584.0" width="12.2" height="12.2" fill="#3a2a80" fill-opacity="0.25"/>
<rect x="295.1" y="584.0" width="12.2" height="12.2" fill="#3a2a80" fill-opacity="0.50"/>
<rect x="307.3" y="584.0" width="12.2" height="12.2" fill="#3a2a80" fill-opacity="0.50"/>
<rect x="319.5" y="584.0" width="12.2" height="12.2" fill="#3a2a80" fill-opacity="0.25"/>
<rect x="270.6" y="596.2" width="12.2" height="12.2" fill="#3a2a80" fill-opacity="0.25"/>
<rect x="282.8" y="596.2" width="12.2" height="12.2" fill="#3a2a80" fill-opacity="0.50"/>
<rect x="295.1" y="596.2" width="12.2" height="12.2" fill="#3a2a80" fill-opacity="0.50"/>
<rect x="307.3" y="596.2" width="12.2" height="12.2" fill="#3a2a80" fill-opacity="0.50"/>
<rect x="319.5" y="596.2" width="12.2" height="12.2" fill="#3a2a80" fill-opacity="0.50"/>
<rect x="197.2" y="608.5" width="12.2" height="12.2" fill="#3a2a80" fill-opacity="0.25"/>
<rect x="209.4" y="608.5" width="12.2" height="12.2" fill="#3a2a80" fill-opacity="0.25"/>
<rect x="221.7" y="608.5" width="12.2" height="12.2" fill="#3a2a80" fill-opacity="0.25"/>
<rect x="233.9" y="608.5" width="12.2" height="12.2" fill="#3a2a80" fill-opacity="0.25"/>
<rect x="282.8" y="608.5" width="12.2" height="12.2" fill="#3a2a80" fill-opacity="0.25"/>
<rect x="307.3" y="608.5" width="12.2" height="12.2" fill="#3a2a80" fill-opacity="0.25"/>
<rect x="197.2" y="620.7" width="12.2" height="12.2" fill="#3a2a80" fill-opacity="0.50"/>
<rect x="209.4" y="620.7" width="12.2" height="12.2" fill="#3a2a80" fill-opacity="0.25"/>
<rect x="221.7" y="620.7" width="12.2" height="12.2" fill="#3a2a80" fill-opacity="0.25"/>
<rect x="233.9" y="620.7" width="12.2" height="12.2" fill="#3a2a80" fill-opacity="0.25"/>
<rect x="270.6" y="620.7" width="12.2" height="12.2" fill="#3a2a80" fill-opacity="0.25"/>
<rect x="197.2" y="633.0" width="12.2" height="12.2" fill="#3a2a80" fill-opacity="0.25"/>
<rect x="209.4" y="633.0" width="12.2" height="12.2" fill="#3a2a80" fill-opacity="0.25"/>
<rect x="282.8" y="633.0" width="12.2" height="12.2" fill="#3a2a80" fill-opacity="0.25"/>
<rect x="295.1" y="633.0" width="12.2" height="12.2" fill="#3a2a80" fill-opacity="0.25"/>
<rect x="197.2" y="645.2" width="12.2" height="12.2" fill="#3a2a80" fill-opacity="0.25"/>
<rect x="209.4" y="645.2" width="12.2" height="12.2" fill="#3a2a80" fill-opacity="0.25"/>
<rect x="221.7" y="645.2" width="12.2" height="12.2" fill="#3a2a80" fill-opacity="0.25"/>
<rect x="233.9" y="645.2" width="12.2" height="12.2" fill="#3a2a80" fill-opacity="0.25"/>
<rect x="270.6" y="645.2" width="12.2" height="12.2" fill="#3a2a80" fill-opacity="0.25"/>
<rect x="282.8" y="645.2" width="12.2" height="12.2" fill="#3a2a80" fill-opacity="0.25"/>
<rect x="197.2" y="657.5" width="12.2" height="12.2" fill="#3a2a80" fill-opacity="0.25"/>
<rect x="270.6" y="657.5" width="12.2" height="12.2" fill="#3a2a80" fill-opacity="0.25"/>
<rect x="197.2" y="669.7" width="12.2" height="12.2" fill="#3a2a80" fill-opacity="0.25"/>
<rect x="221.7" y="669.7" width="12.2" height="12.2" fill="#3a2a80" fill-opacity="0.25"/>
<rect x="270.6" y="669.7" width="12.2" height="12.2" fill="#3a2a80" fill-opacity="0.50"/>
<rect x="282.8" y="669.7" width="12.2" height="12.2" fill="#3a2a80" fill-opacity="0.25"/>
<rect x="197.2" y="682.0" width="12.2" height="12.2" fill="#3a2a80" fill-opacity="0.25"/>
<rect x="221.7" y="682.0" width="12.2" height="12.2" fill="#3a2a80" fill-opacity="0.25"/>
<rect x="270.6" y="682.0" width="12.2" height="12.2" fill="#3a2a80" fill-opacity="0.25"/>
<rect x="282.8" y="682.0" width="12.2" height="12.2" fill="#3a2a80" fill-opacity="0.25"/>
<rect x="197.2" y="694.2" width="12.2" height="12.2" fill="#3a2a80" fill-opacity="0.25"/>
<rect x="221.7" y="694.2" width="12.2" height="12.2" fill="#3a2a80" fill-opacity="0.25"/>
<rect x="233.9" y="694.2" width="12.2" height="12.2" fill="#3a2a80" fill-opacity="0.50"/>
<rect x="270.6" y="694.2" width="12.2" height="12.2" fill="#3a2a80" fill-opacity="0.25"/>
<rect x="282.8" y="694.2" width="12.2" height="12.2" fill="#3a2a80" fill-opacity="0.50"/>
<rect x="295.1" y="694.2" width="12.2" height="12.2" fill="#3a2a80" fill-opacity="0.25"/>
<rect x="197.2" y="706.5" width="12.2" height="12.2" fill="#3a2a80" fill-opacity="0.25"/>
<rect x="221.7" y="706.5" width="12.2" height="12.2" fill="#3a2a80" fill-opacity="0.25"/>
<rect x="233.9" y="706.5" width="12.2" height="12.2" fill="#3a2a80" fill-opacity="0.25"/>
<rect x="270.6" y="706.5" width="12.2" height="12.2" fill="#3a2a80" fill-opacity="0.25"/>
<rect x="282.8" y="706.5" width="12.2" height="12.2" fill="#3a2a80" fill-opacity="0.50"/>
<rect x="295.1" y="706.5" width="12.2" height="12.2" fill="#3a2a80" fill-opacity="0.25"/>

</g>
<filter id="sf2"><feGaussianBlur stdDeviation="0.3"/></filter>
<g filter="url(#sf2)">
<radialGradient id="rg2"><stop offset="0" stop-color="#c8bce2"/><stop offset="0.5" stop-color="#8c7cbc"/><stop offset="1" stop-color="#8c7cbc"/></radialGradient>
<g fill="url(#rg2)" stroke="#46338a">
<circle cx="212.5" cy="586.8" r="2.1" stroke-width="1.4" stroke-opacity="0.86"/>
<ellipse cx="268.5" cy="681.7" rx="2.1" ry="2.6" transform="rotate(110 268.5 681.7)" stroke-width="1.4" stroke-opacity="0.69"/>
<ellipse cx="201.1" cy="579.1" rx="2.6" ry="3.3" transform="rotate(127 201.1 579.1)" stroke-width="1.5" stroke-opacity="0.88"/>
<circle cx="226.3" cy="706.9" r="4.2" fill="#6e58a8" stroke="none" fill-opacity="0.55"/>
<circle cx="313.3" cy="629.1" r="2.8" stroke-width="1.2" stroke-opacity="0.89"/>
<ellipse cx="234.3" cy="583.0" rx="1.9" ry="2.3" transform="rotate(155 234.3 583.0)" stroke-width="1.4" stroke-opacity="0.93"/>
<ellipse cx="201.6" cy="695.8" rx="3.3" ry="2.8" transform="rotate(46 201.6 695.8)" stroke-width="1.3" stroke-opacity="0.85"/>
<ellipse cx="203.0" cy="710.8" rx="2.8" ry="3.6" transform="rotate(150 203.0 710.8)" stroke-width="1.6" stroke-opacity="0.61"/>
<ellipse cx="323.7" cy="573.8" rx="2.2" ry="2.5" transform="rotate(166 323.7 573.8)" stroke-width="1.5" stroke-opacity="0.72"/>
<ellipse cx="275.5" cy="636.3" rx="2.6" ry="3.0" transform="rotate(163 275.5 636.3)" stroke-width="1.3" stroke-opacity="0.83"/>
<ellipse cx="258.3" cy="715.8" rx="2.9" ry="2.5" transform="rotate(50 258.3 715.8)" stroke-width="1.6" stroke-opacity="0.81"/>
<circle cx="250.1" cy="650.5" r="4.5" fill="#6e58a8" stroke="none" fill-opacity="0.79"/>
<circle cx="213.0" cy="628.0" r="2.8" stroke-width="1.6" stroke-opacity="0.90"/>
<circle cx="219.8" cy="578.8" r="2.2" stroke-width="1.2" stroke-opacity="0.87"/>
<ellipse cx="299.9" cy="619.6" rx="2.6" ry="2.2" transform="rotate(100 299.9 619.6)" stroke-width="1.6" stroke-opacity="0.61"/>
<circle cx="290.8" cy="642.6" r="4.0" fill="#6e58a8" stroke="none" fill-opacity="0.78"/>
<circle cx="260.3" cy="659.0" r="2.4" stroke-width="1.5" stroke-opacity="0.68"/>
<circle cx="202.8" cy="682.3" r="2.9" stroke-width="1.5" stroke-opacity="0.77"/>
<circle cx="332.4" cy="596.1" r="2.3" stroke-width="1.3" stroke-opacity="0.76"/>
<circle cx="232.2" cy="624.7" r="3.9" fill="#6e58a8" stroke="none" fill-opacity="0.79"/>
<circle cx="336.0" cy="603.1" r="2.2" stroke-width="1.3" stroke-opacity="0.68"/>
<circle cx="328.3" cy="616.8" r="2.5" fill="#6e58a8" stroke="none" fill-opacity="0.65"/>
<circle cx="222.7" cy="598.1" r="2.6" stroke-width="1.6" stroke-opacity="0.61"/>
<ellipse cx="341.8" cy="585.3" rx="1.8" ry="2.3" transform="rotate(27 341.8 585.3)" stroke-width="1.1" stroke-opacity="0.84"/>
<circle cx="213.5" cy="677.3" r="2.6" stroke-width="1.1" stroke-opacity="0.60"/>
<ellipse cx="295.9" cy="612.2" rx="2.4" ry="2.8" transform="rotate(149 295.9 612.2)" stroke-width="1.2" stroke-opacity="0.83"/>
<circle cx="277.4" cy="600.5" r="2.5" stroke-width="1.3" stroke-opacity="0.64"/>
<circle cx="313.1" cy="580.6" r="2.3" stroke-width="1.3" stroke-opacity="0.85"/>
<ellipse cx="261.2" cy="612.8" rx="2.2" ry="1.8" transform="rotate(115 261.2 612.8)" stroke-width="1.3" stroke-opacity="0.74"/>
<circle cx="240.7" cy="692.7" r="2.9" fill="#6e58a8" stroke="none" fill-opacity="0.74"/>
<ellipse cx="241.7" cy="700.1" rx="2.8" ry="2.4" transform="rotate(25 241.7 700.1)" stroke-width="1.7" stroke-opacity="0.83"/>
<ellipse cx="256.0" cy="594.9" rx="3.5" ry="2.8" transform="rotate(30 256.0 594.9)" stroke-width="1.7" stroke-opacity="0.73"/>
<ellipse cx="222.0" cy="593.3" rx="2.5" ry="2.1" transform="rotate(154 222.0 593.3)" stroke-width="1.4" stroke-opacity="0.72"/>
<ellipse cx="224.0" cy="613.2" rx="2.9" ry="2.5" transform="rotate(114 224.0 613.2)" stroke-width="1.6" stroke-opacity="0.82"/>
<ellipse cx="280.3" cy="645.7" rx="2.9" ry="2.3" transform="rotate(124 280.3 645.7)" stroke-width="1.5" stroke-opacity="0.71"/>
<circle cx="255.9" cy="645.6" r="3.1" fill="#6e58a8" stroke="none" fill-opacity="0.74"/>
<ellipse cx="243.8" cy="614.9" rx="3.3" ry="2.8" transform="rotate(38 243.8 614.9)" stroke-width="1.3" stroke-opacity="0.69"/>
<ellipse cx="255.8" cy="670.0" rx="2.5" ry="3.2" transform="rotate(155 255.8 670.0)" stroke-width="1.2" stroke-opacity="0.60"/>
<circle cx="271.9" cy="702.2" r="2.2" stroke-width="1.6" stroke-opacity="0.78"/>
<ellipse cx="323.6" cy="601.5" rx="3.4" ry="2.9" transform="rotate(74 323.6 601.5)" stroke-width="1.2" stroke-opacity="0.94"/>
<ellipse cx="274.5" cy="706.7" rx="2.6" ry="2.1" transform="rotate(13 274.5 706.7)" stroke-width="1.3" stroke-opacity="0.84"/>
<circle cx="199.4" cy="587.3" r="2.9" stroke-width="1.2" stroke-opacity="0.66"/>
<circle cx="274.4" cy="694.7" r="3.1" stroke-width="1.6" stroke-opacity="0.70"/>
<ellipse cx="293.7" cy="695.5" rx="2.8" ry="3.4" transform="rotate(151 293.7 695.5)" stroke-width="1.6" stroke-opacity="0.62"/>
<circle cx="231.0" cy="632.7" r="2.9" stroke-width="1.3" stroke-opacity="0.66"/>
<ellipse cx="230.5" cy="682.1" rx="2.6" ry="3.2" transform="rotate(0 230.5 682.1)" stroke-width="1.4" stroke-opacity="0.65"/>
<circle cx="248.3" cy="601.2" r="2.2" stroke-width="1.5" stroke-opacity="0.86"/>
<circle cx="297.2" cy="590.1" r="2.4" stroke-width="1.2" stroke-opacity="0.90"/>
<ellipse cx="248.1" cy="594.2" rx="3.0" ry="3.4" transform="rotate(174 248.1 594.2)" stroke-width="1.4" stroke-opacity="0.67"/>
<ellipse cx="214.6" cy="630.9" rx="3.3" ry="2.8" transform="rotate(20 214.6 630.9)" stroke-width="1.2" stroke-opacity="0.61"/>
<ellipse cx="204.7" cy="711.2" rx="2.8" ry="3.2" transform="rotate(123 204.7 711.2)" stroke-width="1.3" stroke-opacity="0.67"/>
<circle cx="255.2" cy="643.5" r="2.6" stroke-width="1.7" stroke-opacity="0.72"/>
<ellipse cx="213.3" cy="618.6" rx="2.7" ry="2.4" transform="rotate(143 213.3 618.6)" stroke-width="1.4" stroke-opacity="0.83"/>
<circle cx="268.6" cy="655.5" r="3.2" stroke-width="1.4" stroke-opacity="0.88"/>
<circle cx="323.3" cy="590.6" r="2.6" stroke-width="1.3" stroke-opacity="0.85"/>
<circle cx="233.7" cy="646.5" r="2.9" stroke-width="1.3" stroke-opacity="0.75"/>
<ellipse cx="321.2" cy="614.7" rx="2.6" ry="3.3" transform="rotate(55 321.2 614.7)" stroke-width="1.2" stroke-opacity="0.93"/>
<circle cx="204.1" cy="693.5" r="2.4" stroke-width="1.2" stroke-opacity="0.84"/>
<circle cx="220.1" cy="637.9" r="3.6" fill="#6e58a8" stroke="none" fill-opacity="0.64"/>
<circle cx="264.8" cy="701.9" r="3.0" stroke-width="1.6" stroke-opacity="0.65"/>
<ellipse cx="212.6" cy="617.7" rx="2.1" ry="2.7" transform="rotate(141 212.6 617.7)" stroke-width="1.3" stroke-opacity="0.70"/>
<ellipse cx="292.5" cy="681.1" rx="2.9" ry="2.3" transform="rotate(87 292.5 681.1)" stroke-width="1.3" stroke-opacity="0.81"/>
<circle cx="217.5" cy="653.1" r="2.3" stroke-width="1.3" stroke-opacity="0.80"/>
<circle cx="212.9" cy="637.7" r="3.0" stroke-width="1.4" stroke-opacity="0.77"/>
<ellipse cx="247.2" cy="653.6" rx="1.8" ry="2.3" transform="rotate(85 247.2 653.6)" stroke-width="1.4" stroke-opacity="0.73"/>
<ellipse cx="290.6" cy="683.9" rx="2.4" ry="2.8" transform="rotate(53 290.6 683.9)" stroke-width="1.6" stroke-opacity="0.71"/>
<circle cx="283.7" cy="709.9" r="2.6" stroke-width="1.6" stroke-opacity="0.82"/>
<circle cx="296.4" cy="639.4" r="2.6" stroke-width="1.3" stroke-opacity="0.73"/>
<ellipse cx="240.4" cy="655.0" rx="3.2" ry="2.6" transform="rotate(82 240.4 655.0)" stroke-width="1.3" stroke-opacity="0.69"/>
<circle cx="240.1" cy="675.7" r="3.1" stroke-width="1.2" stroke-opacity="0.95"/>
<circle cx="286.8" cy="576.1" r="3.1" fill="#6e58a8" stroke="none" fill-opacity="0.82"/>
<ellipse cx="235.3" cy="653.8" rx="2.7" ry="2.2" transform="rotate(11 235.3 653.8)" stroke-width="1.2" stroke-opacity="0.93"/>
<circle cx="335.6" cy="585.6" r="3.0" fill="#6e58a8" stroke="none" fill-opacity="0.85"/>
<ellipse cx="199.7" cy="588.2" rx="3.0" ry="2.4" transform="rotate(141 199.7 588.2)" stroke-width="1.4" stroke-opacity="0.71"/>
<circle cx="248.0" cy="612.3" r="3.2" stroke-width="1.3" stroke-opacity="0.62"/>
<circle cx="238.7" cy="705.0" r="2.6" stroke-width="1.6" stroke-opacity="0.75"/>
<circle cx="293.8" cy="573.8" r="3.4" fill="#6e58a8" stroke="none" fill-opacity="0.67"/>
<ellipse cx="246.4" cy="666.0" rx="2.4" ry="2.7" transform="rotate(20 246.4 666.0)" stroke-width="1.2" stroke-opacity="0.88"/>
<circle cx="297.7" cy="633.4" r="3.0" stroke-width="1.1" stroke-opacity="0.70"/>
<circle cx="282.9" cy="658.1" r="2.6" stroke-width="1.4" stroke-opacity="0.69"/>
<ellipse cx="203.7" cy="687.4" rx="3.3" ry="2.7" transform="rotate(125 203.7 687.4)" stroke-width="1.7" stroke-opacity="0.94"/>
<circle cx="288.5" cy="677.0" r="4.7" fill="#6e58a8" stroke="none" fill-opacity="0.63"/>
<circle cx="217.6" cy="585.9" r="3.0" fill="#6e58a8" stroke="none" fill-opacity="0.80"/>
<ellipse cx="249.7" cy="677.7" rx="2.3" ry="1.9" transform="rotate(75 249.7 677.7)" stroke-width="1.3" stroke-opacity="0.92"/>
<circle cx="203.3" cy="660.0" r="2.6" stroke-width="1.3" stroke-opacity="0.61"/>
<circle cx="206.1" cy="679.2" r="2.3" stroke-width="1.2" stroke-opacity="0.83"/>
<ellipse cx="240.2" cy="684.8" rx="2.0" ry="2.3" transform="rotate(148 240.2 684.8)" stroke-width="1.7" stroke-opacity="0.66"/>
<ellipse cx="314.7" cy="583.2" rx="3.1" ry="2.6" transform="rotate(137 314.7 583.2)" stroke-width="1.2" stroke-opacity="0.91"/>
<circle cx="200.2" cy="678.6" r="2.3" stroke-width="1.2" stroke-opacity="0.95"/>
<circle cx="262.9" cy="681.2" r="3.1" fill="#6e58a8" stroke="none" fill-opacity="0.78"/>
<circle cx="293.5" cy="703.1" r="2.6" stroke-width="1.7" stroke-opacity="0.67"/>
<circle cx="210.9" cy="665.1" r="3.1" fill="#6e58a8" stroke="none" fill-opacity="0.82"/>
<circle cx="210.6" cy="622.1" r="2.5" stroke-width="1.1" stroke-opacity="0.75"/>
<ellipse cx="305.7" cy="702.7" rx="2.5" ry="2.2" transform="rotate(33 305.7 702.7)" stroke-width="1.4" stroke-opacity="0.82"/>
<circle cx="221.0" cy="709.7" r="2.1" stroke-width="1.6" stroke-opacity="0.93"/>
<circle cx="323.9" cy="593.9" r="2.3" stroke-width="1.5" stroke-opacity="0.94"/>
<ellipse cx="205.5" cy="629.2" rx="1.9" ry="2.4" transform="rotate(98 205.5 629.2)" stroke-width="1.4" stroke-opacity="0.71"/>
<ellipse cx="263.4" cy="610.3" rx="2.5" ry="3.2" transform="rotate(147 263.4 610.3)" stroke-width="1.2" stroke-opacity="0.62"/>
<ellipse cx="300.1" cy="591.6" rx="2.9" ry="3.3" transform="rotate(52 300.1 591.6)" stroke-width="1.3" stroke-opacity="0.79"/>
<circle cx="200.1" cy="627.5" r="4.0" fill="#6e58a8" stroke="none" fill-opacity="0.68"/>
<circle cx="264.2" cy="692.0" r="2.0" stroke-width="1.4" stroke-opacity="0.90"/>
<ellipse cx="287.9" cy="597.8" rx="2.7" ry="3.1" transform="rotate(175 287.9 597.8)" stroke-width="1.4" stroke-opacity="0.69"/>
<circle cx="293.1" cy="717.1" r="2.6" stroke-width="1.3" stroke-opacity="0.76"/>
<ellipse cx="209.9" cy="641.3" rx="1.9" ry="2.5" transform="rotate(143 209.9 641.3)" stroke-width="1.3" stroke-opacity="0.71"/>
<ellipse cx="200.0" cy="583.5" rx="2.3" ry="2.0" transform="rotate(122 200.0 583.5)" stroke-width="1.3" stroke-opacity="0.81"/>
<circle cx="256.5" cy="590.2" r="2.5" fill="#6e58a8" stroke="none" fill-opacity="0.78"/>
<circle cx="270.4" cy="668.5" r="3.1" fill="#6e58a8" stroke="none" fill-opacity="0.66"/>
<circle cx="217.5" cy="642.2" r="4.4" fill="#6e58a8" stroke="none" fill-opacity="0.76"/>
<circle cx="310.9" cy="584.2" r="3.0" stroke-width="1.5" stroke-opacity="0.71"/>
<ellipse cx="338.3" cy="598.1" rx="1.9" ry="2.5" transform="rotate(18 338.3 598.1)" stroke-width="1.3" stroke-opacity="0.85"/>
<circle cx="200.5" cy="705.9" r="2.4" stroke-width="1.5" stroke-opacity="0.90"/>
<circle cx="275.7" cy="673.4" r="4.0" fill="#6e58a8" stroke="none" fill-opacity="0.80"/>
<ellipse cx="242.3" cy="607.6" rx="3.5" ry="2.8" transform="rotate(77 242.3 607.6)" stroke-width="1.3" stroke-opacity="0.64"/>
<circle cx="289.3" cy="593.4" r="2.9" stroke-width="1.2" stroke-opacity="0.82"/>
<circle cx="227.2" cy="605.7" r="4.8" fill="#6e58a8" stroke="none" fill-opacity="0.70"/>
<circle cx="221.2" cy="578.6" r="2.7" stroke-width="1.4" stroke-opacity="0.90"/>
<circle cx="324.1" cy="584.4" r="2.9" fill="#6e58a8" stroke="none" fill-opacity="0.63"/>
<ellipse cx="328.0" cy="577.0" rx="3.3" ry="2.9" transform="rotate(12 328.0 577.0)" stroke-width="1.2" stroke-opacity="0.64"/>
<ellipse cx="238.7" cy="655.6" rx="2.5" ry="2.9" transform="rotate(105 238.7 655.6)" stroke-width="1.2" stroke-opacity="0.94"/>
<circle cx="305.1" cy="716.5" r="2.0" stroke-width="1.3" stroke-opacity="0.73"/>
<ellipse cx="246.3" cy="678.3" rx="1.9" ry="2.3" transform="rotate(165 246.3 678.3)" stroke-width="1.7" stroke-opacity="0.70"/>
<circle cx="218.3" cy="642.2" r="3.4" fill="#6e58a8" stroke="none" fill-opacity="0.83"/>
<ellipse cx="242.2" cy="663.6" rx="3.5" ry="2.9" transform="rotate(107 242.2 663.6)" stroke-width="1.2" stroke-opacity="0.76"/>
<ellipse cx="304.1" cy="588.0" rx="2.2" ry="2.6" transform="rotate(93 304.1 588.0)" stroke-width="1.1" stroke-opacity="0.78"/>
<circle cx="343.1" cy="602.5" r="2.7" fill="#6e58a8" stroke="none" fill-opacity="0.58"/>
<ellipse cx="239.9" cy="679.1" rx="2.6" ry="2.2" transform="rotate(113 239.9 679.1)" stroke-width="1.7" stroke-opacity="0.64"/>
<ellipse cx="306.0" cy="651.7" rx="3.0" ry="2.6" transform="rotate(124 306.0 651.7)" stroke-width="1.5" stroke-opacity="0.85"/>
<ellipse cx="264.5" cy="670.6" rx="2.5" ry="2.2" transform="rotate(107 264.5 670.6)" stroke-width="1.4" stroke-opacity="0.73"/>
<ellipse cx="252.8" cy="641.8" rx="2.5" ry="2.0" transform="rotate(28 252.8 641.8)" stroke-width="1.2" stroke-opacity="0.93"/>
<ellipse cx="216.4" cy="654.8" rx="2.1" ry="2.5" transform="rotate(31 216.4 654.8)" stroke-width="1.3" stroke-opacity="0.90"/>
<circle cx="277.4" cy="672.4" r="2.2" stroke-width="1.6" stroke-opacity="0.68"/>
<ellipse cx="325.2" cy="614.8" rx="2.7" ry="3.4" transform="rotate(156 325.2 614.8)" stroke-width="1.4" stroke-opacity="0.77"/>
<ellipse cx="237.5" cy="675.5" rx="2.7" ry="3.2" transform="rotate(109 237.5 675.5)" stroke-width="1.3" stroke-opacity="0.66"/>
<circle cx="208.6" cy="580.1" r="2.2" stroke-width="1.4" stroke-opacity="0.80"/>
<circle cx="198.6" cy="682.4" r="2.0" stroke-width="1.1" stroke-opacity="0.63"/>
<circle cx="264.4" cy="632.9" r="2.9" stroke-width="1.2" stroke-opacity="0.70"/>
<ellipse cx="282.0" cy="707.5" rx="2.5" ry="3.1" transform="rotate(14 282.0 707.5)" stroke-width="1.4" stroke-opacity="0.71"/>
<ellipse cx="251.4" cy="579.9" rx="2.6" ry="3.0" transform="rotate(84 251.4 579.9)" stroke-width="1.1" stroke-opacity="0.78"/>
<circle cx="304.0" cy="595.0" r="2.7" stroke-width="1.4" stroke-opacity="0.73"/>
<circle cx="253.0" cy="681.7" r="2.6" stroke-width="1.1" stroke-opacity="0.93"/>
<ellipse cx="273.3" cy="662.2" rx="3.2" ry="2.6" transform="rotate(142 273.3 662.2)" stroke-width="1.5" stroke-opacity="0.85"/>
<circle cx="234.8" cy="639.2" r="2.3" stroke-width="1.3" stroke-opacity="0.82"/>
<circle cx="278.1" cy="718.5" r="3.1" stroke-width="1.5" stroke-opacity="0.64"/>
<ellipse cx="278.0" cy="599.1" rx="2.3" ry="2.8" transform="rotate(170 278.0 599.1)" stroke-width="1.7" stroke-opacity="0.84"/>
<circle cx="232.2" cy="667.8" r="2.6" stroke-width="1.4" stroke-opacity="0.76"/>
<circle cx="279.3" cy="679.1" r="3.6" fill="#6e58a8" stroke="none" fill-opacity="0.74"/>
<ellipse cx="322.8" cy="572.2" rx="3.4" ry="2.8" transform="rotate(147 322.8 572.2)" stroke-width="1.6" stroke-opacity="0.84"/>
<ellipse cx="209.9" cy="618.5" rx="2.3" ry="2.0" transform="rotate(3 209.9 618.5)" stroke-width="1.4" stroke-opacity="0.90"/>
<circle cx="227.5" cy="645.8" r="2.2" stroke-width="1.5" stroke-opacity="0.84"/>
<circle cx="210.0" cy="604.6" r="2.8" stroke-width="1.6" stroke-opacity="0.92"/>
<circle cx="266.1" cy="696.4" r="2.9" stroke-width="1.5" stroke-opacity="0.80"/>
<circle cx="263.6" cy="663.4" r="2.4" stroke-width="1.2" stroke-opacity="0.60"/>
<ellipse cx="220.8" cy="699.9" rx="2.3" ry="1.8" transform="rotate(32 220.8 699.9)" stroke-width="1.2" stroke-opacity="0.72"/>
<ellipse cx="331.2" cy="590.2" rx="2.5" ry="2.2" transform="rotate(13 331.2 590.2)" stroke-width="1.7" stroke-opacity="0.82"/>
<circle cx="212.7" cy="584.7" r="2.7" stroke-width="1.3" stroke-opacity="0.67"/>
<circle cx="216.3" cy="677.0" r="2.9" stroke-width="1.5" stroke-opacity="0.79"/>
<circle cx="250.7" cy="671.1" r="2.9" stroke-width="1.4" stroke-opacity="0.80"/>
<ellipse cx="270.6" cy="689.4" rx="2.9" ry="3.3" transform="rotate(65 270.6 689.4)" stroke-width="1.4" stroke-opacity="0.83"/>
<circle cx="272.2" cy="637.9" r="3.1" stroke-width="1.5" stroke-opacity="0.81"/>
<ellipse cx="204.7" cy="618.2" rx="3.2" ry="2.6" transform="rotate(152 204.7 618.2)" stroke-width="1.4" stroke-opacity="0.75"/>
<circle cx="211.3" cy="667.2" r="3.3" fill="#6e58a8" stroke="none" fill-opacity="0.73"/>
<ellipse cx="209.3" cy="655.3" rx="2.3" ry="2.0" transform="rotate(48 209.3 655.3)" stroke-width="1.5" stroke-opacity="0.81"/>
<ellipse cx="262.5" cy="679.7" rx="2.5" ry="3.0" transform="rotate(74 262.5 679.7)" stroke-width="1.6" stroke-opacity="0.93"/>
<circle cx="274.4" cy="635.7" r="2.2" stroke-width="1.4" stroke-opacity="0.64"/>
<ellipse cx="229.4" cy="612.2" rx="2.3" ry="2.9" transform="rotate(8 229.4 612.2)" stroke-width="1.1" stroke-opacity="0.60"/>
<circle cx="204.5" cy="640.2" r="3.0" stroke-width="1.6" stroke-opacity="0.94"/>
<circle cx="259.2" cy="718.2" r="2.2" stroke-width="1.3" stroke-opacity="0.94"/>
<ellipse cx="218.5" cy="649.3" rx="3.3" ry="2.8" transform="rotate(104 218.5 649.3)" stroke-width="1.5" stroke-opacity="0.93"/>
<circle cx="220.8" cy="717.3" r="2.8" stroke-width="1.4" stroke-opacity="0.83"/>
<circle cx="263.3" cy="583.1" r="3.0" fill="#6e58a8" stroke="none" fill-opacity="0.84"/>
<circle cx="303.0" cy="599.4" r="2.5" stroke-width="1.5" stroke-opacity="0.68"/>
<circle cx="230.6" cy="644.8" r="2.5" stroke-width="1.6" stroke-opacity="0.72"/>
<ellipse cx="271.1" cy="653.0" rx="3.0" ry="2.5" transform="rotate(42 271.1 653.0)" stroke-width="1.2" stroke-opacity="0.82"/>
<circle cx="252.9" cy="588.4" r="3.2" stroke-width="1.5" stroke-opacity="0.76"/>
<circle cx="229.4" cy="603.9" r="2.8" stroke-width="1.7" stroke-opacity="0.83"/>
<circle cx="336.1" cy="573.1" r="2.2" stroke-width="1.2" stroke-opacity="0.83"/>
<circle cx="227.4" cy="611.2" r="2.9" stroke-width="1.4" stroke-opacity="0.95"/>
<circle cx="307.9" cy="614.4" r="2.0" stroke-width="1.1" stroke-opacity="0.61"/>
<circle cx="287.4" cy="630.7" r="2.5" stroke-width="1.5" stroke-opacity="0.62"/>
<circle cx="264.9" cy="604.6" r="2.7" stroke-width="1.7" stroke-opacity="0.80"/>
<circle cx="241.6" cy="671.6" r="3.7" fill="#6e58a8" stroke="none" fill-opacity="0.82"/>
<ellipse cx="307.5" cy="577.8" rx="2.1" ry="2.5" transform="rotate(64 307.5 577.8)" stroke-width="1.1" stroke-opacity="0.70"/>
<ellipse cx="316.0" cy="706.4" rx="2.1" ry="2.5" transform="rotate(121 316.0 706.4)" stroke-width="1.1" stroke-opacity="0.79"/>
<ellipse cx="226.2" cy="609.4" rx="2.7" ry="2.3" transform="rotate(105 226.2 609.4)" stroke-width="1.1" stroke-opacity="0.66"/>
<circle cx="308.4" cy="633.2" r="2.3" stroke-width="1.3" stroke-opacity="0.81"/>
<circle cx="228.8" cy="599.9" r="2.1" stroke-width="1.5" stroke-opacity="0.66"/>
<circle cx="301.9" cy="716.8" r="2.0" stroke-width="1.5" stroke-opacity="0.83"/>
<circle cx="257.2" cy="691.9" r="4.0" fill="#6e58a8" stroke="none" fill-opacity="0.65"/>
<circle cx="236.9" cy="672.1" r="3.8" fill="#6e58a8" stroke="none" fill-opacity="0.54"/>
<circle cx="231.2" cy="583.4" r="2.4" stroke-width="1.2" stroke-opacity="0.82"/>
<ellipse cx="300.7" cy="582.1" rx="3.2" ry="2.6" transform="rotate(159 300.7 582.1)" stroke-width="1.5" stroke-opacity="0.60"/>
<circle cx="310.4" cy="620.2" r="3.6" fill="#6e58a8" stroke="none" fill-opacity="0.73"/>
<ellipse cx="328.5" cy="599.0" rx="2.5" ry="2.9" transform="rotate(38 328.5 599.0)" stroke-width="1.7" stroke-opacity="0.61"/>
<circle cx="206.2" cy="595.3" r="3.0" stroke-width="1.5" stroke-opacity="0.71"/>
<ellipse cx="230.0" cy="678.3" rx="2.3" ry="1.9" transform="rotate(116 230.0 678.3)" stroke-width="1.1" stroke-opacity="0.72"/>
<ellipse cx="217.2" cy="657.1" rx="2.6" ry="3.0" transform="rotate(156 217.2 657.1)" stroke-width="1.7" stroke-opacity="0.68"/>
<circle cx="312.8" cy="604.7" r="2.5" stroke-width="1.4" stroke-opacity="0.94"/>
<ellipse cx="240.1" cy="578.0" rx="2.7" ry="3.3" transform="rotate(173 240.1 578.0)" stroke-width="1.2" stroke-opacity="0.82"/>
<ellipse cx="240.8" cy="698.8" rx="2.8" ry="2.3" transform="rotate(76 240.8 698.8)" stroke-width="1.3" stroke-opacity="0.91"/>
<circle cx="202.0" cy="638.1" r="2.2" stroke-width="1.7" stroke-opacity="0.88"/>
<circle cx="309.9" cy="610.4" r="4.7" fill="#6e58a8" stroke="none" fill-opacity="0.84"/>
<circle cx="264.7" cy="678.8" r="3.7" fill="#6e58a8" stroke="none" fill-opacity="0.70"/>
<circle cx="249.9" cy="706.4" r="2.4" stroke-width="1.2" stroke-opacity="0.83"/>
<circle cx="278.2" cy="640.6" r="2.5" stroke-width="1.6" stroke-opacity="0.89"/>
<circle cx="288.0" cy="705.6" r="2.8" stroke-width="1.6" stroke-opacity="0.81"/>
<circle cx="295.2" cy="601.6" r="4.9" fill="#6e58a8" stroke="none" fill-opacity="0.55"/>
<circle cx="214.3" cy="698.9" r="4.3" fill="#6e58a8" stroke="none" fill-opacity="0.80"/>
<ellipse cx="266.4" cy="586.3" rx="3.1" ry="2.5" transform="rotate(35 266.4 586.3)" stroke-width="1.4" stroke-opacity="0.95"/>
<ellipse cx="270.4" cy="652.8" rx="2.3" ry="1.8" transform="rotate(99 270.4 652.8)" stroke-width="1.1" stroke-opacity="0.61"/>
<ellipse cx="252.0" cy="608.8" rx="3.2" ry="2.7" transform="rotate(131 252.0 608.8)" stroke-width="1.2" stroke-opacity="0.68"/>
<ellipse cx="256.2" cy="689.7" rx="2.1" ry="2.7" transform="rotate(147 256.2 689.7)" stroke-width="1.3" stroke-opacity="0.86"/>
<circle cx="287.9" cy="651.4" r="2.2" stroke-width="1.4" stroke-opacity="0.81"/>
<circle cx="198.7" cy="698.9" r="2.9" stroke-width="1.5" stroke-opacity="0.75"/>
<ellipse cx="208.3" cy="641.9" rx="3.1" ry="2.7" transform="rotate(179 208.3 641.9)" stroke-width="1.7" stroke-opacity="0.61"/>
<circle cx="240.4" cy="671.8" r="3.4" fill="#6e58a8" stroke="none" fill-opacity="0.73"/>
<circle cx="209.2" cy="706.9" r="3.1" stroke-width="1.6" stroke-opacity="0.86"/>
<circle cx="201.4" cy="582.6" r="2.2" stroke-width="1.6" stroke-opacity="0.65"/>
<circle cx="218.9" cy="653.8" r="3.0" stroke-width="1.2" stroke-opacity="0.61"/>
<circle cx="197.5" cy="624.5" r="2.4" stroke-width="1.4" stroke-opacity="0.85"/>
<circle cx="287.1" cy="651.1" r="4.0" fill="#6e58a8" stroke="none" fill-opacity="0.63"/>
<circle cx="221.9" cy="607.5" r="3.0" stroke-width="1.5" stroke-opacity="0.69"/>
<circle cx="293.4" cy="591.3" r="2.6" stroke-width="1.4" stroke-opacity="0.90"/>
<circle cx="224.6" cy="662.4" r="2.1" stroke-width="1.4" stroke-opacity="0.90"/>
<circle cx="312.7" cy="588.0" r="3.2" stroke-width="1.2" stroke-opacity="0.71"/>
<ellipse cx="284.5" cy="659.8" rx="2.1" ry="2.5" transform="rotate(52 284.5 659.8)" stroke-width="1.3" stroke-opacity="0.95"/>
<circle cx="205.9" cy="702.2" r="4.2" fill="#6e58a8" stroke="none" fill-opacity="0.56"/>
<circle cx="215.0" cy="610.5" r="2.5" stroke-width="1.3" stroke-opacity="0.63"/>
<circle cx="267.9" cy="599.0" r="2.9" fill="#6e58a8" stroke="none" fill-opacity="0.65"/>
<circle cx="242.5" cy="708.8" r="2.6" stroke-width="1.3" stroke-opacity="0.80"/>
<ellipse cx="233.4" cy="575.5" rx="3.1" ry="2.6" transform="rotate(158 233.4 575.5)" stroke-width="1.2" stroke-opacity="0.92"/>
<circle cx="234.8" cy="629.8" r="2.4" stroke-width="1.3" stroke-opacity="0.72"/>
<ellipse cx="273.6" cy="619.4" rx="2.5" ry="2.0" transform="rotate(179 273.6 619.4)" stroke-width="1.6" stroke-opacity="0.63"/>
<circle cx="245.7" cy="630.4" r="3.1" stroke-width="1.4" stroke-opacity="0.88"/>
<ellipse cx="247.8" cy="668.3" rx="2.5" ry="2.0" transform="rotate(75 247.8 668.3)" stroke-width="1.7" stroke-opacity="0.71"/>
<circle cx="274.2" cy="641.2" r="2.5" stroke-width="1.6" stroke-opacity="0.94"/>
<circle cx="229.8" cy="690.1" r="4.9" fill="#6e58a8" stroke="none" fill-opacity="0.61"/>
<ellipse cx="224.9" cy="625.2" rx="2.8" ry="2.3" transform="rotate(155 224.9 625.2)" stroke-width="1.3" stroke-opacity="0.75"/>
<circle cx="208.9" cy="641.6" r="4.9" fill="#6e58a8" stroke="none" fill-opacity="0.60"/>
<circle cx="301.2" cy="578.1" r="2.8" stroke-width="1.7" stroke-opacity="0.93"/>
<circle cx="219.4" cy="688.6" r="2.8" stroke-width="1.4" stroke-opacity="0.78"/>
<circle cx="312.4" cy="617.9" r="2.8" stroke-width="1.2" stroke-opacity="0.82"/>
<circle cx="202.0" cy="612.0" r="2.8" stroke-width="1.5" stroke-opacity="0.83"/>
<ellipse cx="209.4" cy="574.0" rx="1.9" ry="2.3" transform="rotate(119 209.4 574.0)" stroke-width="1.5" stroke-opacity="0.90"/>
<circle cx="281.9" cy="641.1" r="4.9" fill="#6e58a8" stroke="none" fill-opacity="0.54"/>
<circle cx="219.3" cy="604.4" r="3.1" stroke-width="1.6" stroke-opacity="0.76"/>
<ellipse cx="243.1" cy="667.5" rx="2.9" ry="2.5" transform="rotate(112 243.1 667.5)" stroke-width="1.1" stroke-opacity="0.94"/>
<circle cx="285.3" cy="667.2" r="4.1" fill="#6e58a8" stroke="none" fill-opacity="0.52"/>
<circle cx="240.5" cy="715.0" r="2.1" stroke-width="1.7" stroke-opacity="0.82"/>
<circle cx="275.3" cy="675.2" r="3.0" stroke-width="1.5" stroke-opacity="0.90"/>
<circle cx="284.0" cy="638.8" r="2.8" fill="#6e58a8" stroke="none" fill-opacity="0.78"/>
<ellipse cx="241.6" cy="596.0" rx="2.0" ry="2.5" transform="rotate(170 241.6 596.0)" stroke-width="1.1" stroke-opacity="0.78"/>
<circle cx="222.2" cy="589.9" r="3.0" stroke-width="1.5" stroke-opacity="0.71"/>
<ellipse cx="271.0" cy="716.3" rx="3.1" ry="2.7" transform="rotate(46 271.0 716.3)" stroke-width="1.5" stroke-opacity="0.75"/>
<circle cx="255.2" cy="630.0" r="2.2" stroke-width="1.6" stroke-opacity="0.74"/>
<circle cx="337.6" cy="593.8" r="3.3" fill="#6e58a8" stroke="none" fill-opacity="0.73"/>
<circle cx="210.5" cy="689.8" r="3.0" stroke-width="1.5" stroke-opacity="0.94"/>
<ellipse cx="304.1" cy="612.8" rx="3.1" ry="2.7" transform="rotate(116 304.1 612.8)" stroke-width="1.6" stroke-opacity="0.76"/>
<circle cx="213.2" cy="574.0" r="3.7" fill="#6e58a8" stroke="none" fill-opacity="0.57"/>
<circle cx="203.8" cy="695.9" r="2.9" stroke-width="1.4" stroke-opacity="0.86"/>
<ellipse cx="226.9" cy="652.8" rx="2.7" ry="3.2" transform="rotate(36 226.9 652.8)" stroke-width="1.3" stroke-opacity="0.80"/>
<circle cx="301.2" cy="702.5" r="2.3" stroke-width="1.2" stroke-opacity="0.78"/>
<circle cx="302.2" cy="583.8" r="2.8" stroke-width="1.6" stroke-opacity="0.83"/>
<circle cx="244.4" cy="636.8" r="2.1" stroke-width="1.5" stroke-opacity="0.88"/>
<circle cx="288.2" cy="718.3" r="4.9" fill="#6e58a8" stroke="none" fill-opacity="0.69"/>
<ellipse cx="291.8" cy="596.8" rx="2.4" ry="2.8" transform="rotate(33 291.8 596.8)" stroke-width="1.6" stroke-opacity="0.77"/>
<circle cx="201.9" cy="607.4" r="2.2" stroke-width="1.6" stroke-opacity="0.74"/>
<ellipse cx="262.7" cy="635.7" rx="2.2" ry="1.8" transform="rotate(85 262.7 635.7)" stroke-width="1.4" stroke-opacity="0.77"/>
<ellipse cx="296.3" cy="584.8" rx="2.4" ry="2.8" transform="rotate(149 296.3 584.8)" stroke-width="1.2" stroke-opacity="0.90"/>
<ellipse cx="263.8" cy="658.1" rx="2.8" ry="3.5" transform="rotate(112 263.8 658.1)" stroke-width="1.2" stroke-opacity="0.84"/>
<ellipse cx="204.1" cy="655.5" rx="2.7" ry="3.1" transform="rotate(115 204.1 655.5)" stroke-width="1.7" stroke-opacity="0.88"/>
<ellipse cx="252.4" cy="592.5" rx="2.7" ry="2.3" transform="rotate(108 252.4 592.5)" stroke-width="1.6" stroke-opacity="0.88"/>
<ellipse cx="269.0" cy="691.9" rx="2.9" ry="2.5" transform="rotate(29 269.0 691.9)" stroke-width="1.4" stroke-opacity="0.91"/>
<ellipse cx="201.8" cy="661.9" rx="2.5" ry="2.2" transform="rotate(154 201.8 661.9)" stroke-width="1.4" stroke-opacity="0.73"/>
<circle cx="218.2" cy="589.6" r="2.6" fill="#6e58a8" stroke="none" fill-opacity="0.56"/>
<ellipse cx="251.8" cy="707.0" rx="2.9" ry="2.5" transform="rotate(170 251.8 707.0)" stroke-width="1.5" stroke-opacity="0.61"/>
<circle cx="226.9" cy="647.3" r="4.2" fill="#6e58a8" stroke="none" fill-opacity="0.63"/>
<circle cx="218.2" cy="647.4" r="2.7" stroke-width="1.5" stroke-opacity="0.80"/>
<circle cx="276.0" cy="663.4" r="2.7" stroke-width="1.7" stroke-opacity="0.69"/>
<ellipse cx="305.2" cy="583.0" rx="2.2" ry="1.9" transform="rotate(121 305.2 583.0)" stroke-width="1.4" stroke-opacity="0.85"/>
<circle cx="220.2" cy="578.9" r="3.1" stroke-width="1.3" stroke-opacity="0.79"/>
<circle cx="207.0" cy="625.3" r="2.1" stroke-width="1.4" stroke-opacity="0.88"/>
<circle cx="206.9" cy="681.2" r="2.8" stroke-width="1.5" stroke-opacity="0.86"/>
<ellipse cx="249.7" cy="668.1" rx="2.7" ry="2.3" transform="rotate(170 249.7 668.1)" stroke-width="1.5" stroke-opacity="0.82"/>
<ellipse cx="197.2" cy="709.8" rx="1.9" ry="2.4" transform="rotate(14 197.2 709.8)" stroke-width="1.7" stroke-opacity="0.61"/>
<ellipse cx="265.4" cy="636.4" rx="2.2" ry="2.8" transform="rotate(137 265.4 636.4)" stroke-width="1.6" stroke-opacity="0.70"/>
<circle cx="231.8" cy="678.5" r="2.9" stroke-width="1.5" stroke-opacity="0.76"/>
<circle cx="330.0" cy="596.8" r="2.7" stroke-width="1.6" stroke-opacity="0.71"/>
<circle cx="238.9" cy="579.8" r="2.8" stroke-width="1.5" stroke-opacity="0.70"/>
<ellipse cx="246.7" cy="667.0" rx="1.8" ry="2.3" transform="rotate(126 246.7 667.0)" stroke-width="1.2" stroke-opacity="0.94"/>
<circle cx="223.3" cy="642.6" r="3.1" stroke-width="1.3" stroke-opacity="0.90"/>
<ellipse cx="200.3" cy="594.6" rx="2.2" ry="2.6" transform="rotate(97 200.3 594.6)" stroke-width="1.6" stroke-opacity="0.84"/>
<ellipse cx="244.5" cy="637.0" rx="3.2" ry="2.8" transform="rotate(179 244.5 637.0)" stroke-width="1.5" stroke-opacity="0.86"/>
<ellipse cx="276.8" cy="651.7" rx="1.9" ry="2.2" transform="rotate(29 276.8 651.7)" stroke-width="1.2" stroke-opacity="0.93"/>
<ellipse cx="263.3" cy="594.7" rx="2.7" ry="3.3" transform="rotate(165 263.3 594.7)" stroke-width="1.5" stroke-opacity="0.76"/>
<ellipse cx="218.0" cy="579.2" rx="2.1" ry="2.7" transform="rotate(128 218.0 579.2)" stroke-width="1.6" stroke-opacity="0.76"/>
<circle cx="273.8" cy="666.4" r="3.2" stroke-width="1.7" stroke-opacity="0.71"/>
<ellipse cx="258.2" cy="643.0" rx="3.4" ry="2.8" transform="rotate(119 258.2 643.0)" stroke-width="1.5" stroke-opacity="0.75"/>
<circle cx="226.9" cy="705.4" r="2.0" stroke-width="1.4" stroke-opacity="0.76"/>
<ellipse cx="267.9" cy="690.2" rx="2.7" ry="2.2" transform="rotate(169 267.9 690.2)" stroke-width="1.4" stroke-opacity="0.62"/>
<ellipse cx="218.1" cy="572.3" rx="2.9" ry="2.4" transform="rotate(73 218.1 572.3)" stroke-width="1.7" stroke-opacity="0.85"/>
<circle cx="227.8" cy="647.9" r="3.1" stroke-width="1.6" stroke-opacity="0.81"/>
<circle cx="240.4" cy="585.7" r="3.7" fill="#6e58a8" stroke="none" fill-opacity="0.67"/>
<ellipse cx="260.6" cy="638.5" rx="2.3" ry="2.6" transform="rotate(138 260.6 638.5)" stroke-width="1.2" stroke-opacity="0.86"/>
<circle cx="218.8" cy="621.9" r="2.1" stroke-width="1.5" stroke-opacity="0.86"/>
<ellipse cx="296.1" cy="714.1" rx="2.6" ry="3.4" transform="rotate(140 296.1 714.1)" stroke-width="1.4" stroke-opacity="0.68"/>
<circle cx="237.7" cy="699.0" r="2.1" stroke-width="1.5" stroke-opacity="0.68"/>
<ellipse cx="307.3" cy="660.6" rx="2.8" ry="2.3" transform="rotate(102 307.3 660.6)" stroke-width="1.6" stroke-opacity="0.70"/>
<circle cx="297.5" cy="580.2" r="2.3" stroke-width="1.4" stroke-opacity="0.70"/>
<circle cx="243.9" cy="584.1" r="4.0" fill="#6e58a8" stroke="none" fill-opacity="0.68"/>
<ellipse cx="209.4" cy="660.7" rx="2.2" ry="2.7" transform="rotate(51 209.4 660.7)" stroke-width="1.7" stroke-opacity="0.92"/>
<circle cx="329.4" cy="601.2" r="2.5" fill="#6e58a8" stroke="none" fill-opacity="0.61"/>
<circle cx="222.8" cy="634.0" r="2.7" stroke-width="1.2" stroke-opacity="0.92"/>
<ellipse cx="257.5" cy="712.3" rx="2.2" ry="2.6" transform="rotate(6 257.5 712.3)" stroke-width="1.7" stroke-opacity="0.92"/>
<ellipse cx="282.5" cy="585.8" rx="2.2" ry="1.9" transform="rotate(82 282.5 585.8)" stroke-width="1.3" stroke-opacity="0.64"/>
<ellipse cx="244.3" cy="586.8" rx="2.7" ry="3.4" transform="rotate(60 244.3 586.8)" stroke-width="1.3" stroke-opacity="0.76"/>
<ellipse cx="256.3" cy="646.5" rx="2.3" ry="2.9" transform="rotate(56 256.3 646.5)" stroke-width="1.3" stroke-opacity="0.79"/>
<ellipse cx="292.4" cy="680.5" rx="2.7" ry="3.5" transform="rotate(137 292.4 680.5)" stroke-width="1.6" stroke-opacity="0.92"/>
<circle cx="303.7" cy="670.7" r="2.3" stroke-width="1.5" stroke-opacity="0.79"/>
<ellipse cx="201.8" cy="650.1" rx="2.9" ry="3.4" transform="rotate(53 201.8 650.1)" stroke-width="1.4" stroke-opacity="0.68"/>
<circle cx="198.4" cy="589.7" r="3.7" fill="#6e58a8" stroke="none" fill-opacity="0.57"/>
<ellipse cx="263.8" cy="690.8" rx="2.2" ry="2.8" transform="rotate(18 263.8 690.8)" stroke-width="1.3" stroke-opacity="0.77"/>
<ellipse cx="260.1" cy="691.2" rx="2.4" ry="1.9" transform="rotate(75 260.1 691.2)" stroke-width="1.3" stroke-opacity="0.81"/>
<circle cx="288.2" cy="686.3" r="2.8" fill="#6e58a8" stroke="none" fill-opacity="0.79"/>
<ellipse cx="316.9" cy="581.7" rx="2.8" ry="3.3" transform="rotate(72 316.9 581.7)" stroke-width="1.4" stroke-opacity="0.79"/>
<ellipse cx="218.6" cy="668.0" rx="2.8" ry="3.3" transform="rotate(152 218.6 668.0)" stroke-width="1.6" stroke-opacity="0.77"/>
<circle cx="209.7" cy="609.8" r="2.6" stroke-width="1.3" stroke-opacity="0.93"/>
<circle cx="281.1" cy="669.5" r="2.5" stroke-width="1.6" stroke-opacity="0.86"/>
<circle cx="284.3" cy="612.1" r="2.2" stroke-width="1.5" stroke-opacity="0.85"/>
<circle cx="198.8" cy="628.0" r="2.3" stroke-width="1.2" stroke-opacity="0.65"/>
<ellipse cx="212.7" cy="698.2" rx="2.7" ry="3.4" transform="rotate(3 212.7 698.2)" stroke-width="1.7" stroke-opacity="0.76"/>
<ellipse cx="214.1" cy="593.1" rx="3.0" ry="2.4" transform="rotate(58 214.1 593.1)" stroke-width="1.5" stroke-opacity="0.92"/>
<circle cx="301.5" cy="630.2" r="2.2" stroke-width="1.3" stroke-opacity="0.79"/>
<ellipse cx="302.8" cy="653.1" rx="2.9" ry="2.5" transform="rotate(76 302.8 653.1)" stroke-width="1.5" stroke-opacity="0.74"/>
<circle cx="261.9" cy="651.5" r="2.9" stroke-width="1.7" stroke-opacity="0.82"/>
<ellipse cx="204.5" cy="695.6" rx="2.0" ry="2.4" transform="rotate(121 204.5 695.6)" stroke-width="1.4" stroke-opacity="0.85"/>
<ellipse cx="198.0" cy="600.4" rx="2.6" ry="3.2" transform="rotate(109 198.0 600.4)" stroke-width="1.6" stroke-opacity="0.93"/>
<circle cx="257.1" cy="695.9" r="3.1" fill="#6e58a8" stroke="none" fill-opacity="0.55"/>
<circle cx="257.4" cy="603.0" r="3.5" fill="#6e58a8" stroke="none" fill-opacity="0.57"/>
<circle cx="240.4" cy="657.6" r="2.6" stroke-width="1.4" stroke-opacity="0.68"/>
<circle cx="223.9" cy="668.6" r="2.5" stroke-width="1.2" stroke-opacity="0.89"/>
<circle cx="303.2" cy="656.1" r="2.5" stroke-width="1.4" stroke-opacity="0.61"/>
<ellipse cx="247.6" cy="612.7" rx="2.8" ry="3.5" transform="rotate(126 247.6 612.7)" stroke-width="1.2" stroke-opacity="0.75"/>
<circle cx="253.3" cy="575.3" r="3.0" stroke-width="1.4" stroke-opacity="0.60"/>
<circle cx="267.7" cy="588.7" r="3.1" stroke-width="1.4" stroke-opacity="0.63"/>
<circle cx="269.3" cy="656.0" r="2.3" stroke-width="1.3" stroke-opacity="0.85"/>
<circle cx="273.0" cy="702.9" r="3.2" stroke-width="1.5" stroke-opacity="0.91"/>
<circle cx="224.3" cy="602.0" r="2.6" stroke-width="1.6" stroke-opacity="0.61"/>
<circle cx="220.9" cy="581.2" r="3.2" stroke-width="1.5" stroke-opacity="0.66"/>
<circle cx="203.9" cy="641.3" r="5.0" fill="#6e58a8" stroke="none" fill-opacity="0.83"/>
<ellipse cx="225.3" cy="650.7" rx="3.2" ry="2.8" transform="rotate(82 225.3 650.7)" stroke-width="1.3" stroke-opacity="0.78"/>
<ellipse cx="238.5" cy="591.8" rx="2.0" ry="2.4" transform="rotate(165 238.5 591.8)" stroke-width="1.4" stroke-opacity="0.86"/>
<circle cx="273.5" cy="590.3" r="2.9" stroke-width="1.4" stroke-opacity="0.68"/>
<circle cx="199.2" cy="664.5" r="4.9" fill="#6e58a8" stroke="none" fill-opacity="0.82"/>
<circle cx="204.8" cy="618.9" r="4.1" fill="#6e58a8" stroke="none" fill-opacity="0.66"/>
<circle cx="217.5" cy="684.8" r="2.4" stroke-width="1.5" stroke-opacity="0.68"/>
<ellipse cx="203.8" cy="645.0" rx="2.7" ry="2.3" transform="rotate(169 203.8 645.0)" stroke-width="1.5" stroke-opacity="0.61"/>
<ellipse cx="201.8" cy="594.3" rx="1.8" ry="2.2" transform="rotate(170 201.8 594.3)" stroke-width="1.5" stroke-opacity="0.80"/>
<circle cx="229.6" cy="584.6" r="2.6" stroke-width="1.7" stroke-opacity="0.61"/>
<ellipse cx="290.1" cy="648.7" rx="1.9" ry="2.3" transform="rotate(98 290.1 648.7)" stroke-width="1.6" stroke-opacity="0.80"/>
<ellipse cx="253.4" cy="578.4" rx="3.0" ry="2.6" transform="rotate(15 253.4 578.4)" stroke-width="1.4" stroke-opacity="0.83"/>
<ellipse cx="274.6" cy="685.4" rx="2.7" ry="3.3" transform="rotate(27 274.6 685.4)" stroke-width="1.3" stroke-opacity="0.68"/>
<circle cx="268.2" cy="639.7" r="2.1" stroke-width="1.2" stroke-opacity="0.92"/>
<circle cx="259.4" cy="583.9" r="2.6" stroke-width="1.7" stroke-opacity="0.60"/>
<ellipse cx="241.0" cy="684.3" rx="3.3" ry="2.8" transform="rotate(141 241.0 684.3)" stroke-width="1.2" stroke-opacity="0.79"/>
<ellipse cx="298.0" cy="700.1" rx="2.5" ry="2.1" transform="rotate(172 298.0 700.1)" stroke-width="1.1" stroke-opacity="0.92"/>
<circle cx="314.5" cy="609.8" r="3.0" stroke-width="1.4" stroke-opacity="0.65"/>
<ellipse cx="310.7" cy="586.9" rx="3.5" ry="2.8" transform="rotate(62 310.7 586.9)" stroke-width="1.7" stroke-opacity="0.60"/>
<circle cx="222.5" cy="665.3" r="2.2" stroke-width="1.3" stroke-opacity="0.68"/>
<ellipse cx="244.9" cy="617.5" rx="2.2" ry="1.9" transform="rotate(30 244.9 617.5)" stroke-width="1.5" stroke-opacity="0.94"/>
<circle cx="232.0" cy="693.5" r="2.6" stroke-width="1.7" stroke-opacity="0.79"/>
<ellipse cx="272.8" cy="708.6" rx="2.5" ry="3.1" transform="rotate(25 272.8 708.6)" stroke-width="1.5" stroke-opacity="0.78"/>
<circle cx="306.9" cy="595.5" r="2.9" stroke-width="1.7" stroke-opacity="0.72"/>
<circle cx="255.2" cy="704.8" r="2.8" fill="#6e58a8" stroke="none" fill-opacity="0.69"/>
<ellipse cx="258.4" cy="677.5" rx="2.0" ry="2.4" transform="rotate(125 258.4 677.5)" stroke-width="1.3" stroke-opacity="0.79"/>
<circle cx="215.2" cy="667.8" r="3.2" stroke-width="1.6" stroke-opacity="0.67"/>
<ellipse cx="280.4" cy="600.8" rx="2.4" ry="2.7" transform="rotate(151 280.4 600.8)" stroke-width="1.3" stroke-opacity="0.66"/>
<circle cx="233.5" cy="658.3" r="3.3" fill="#6e58a8" stroke="none" fill-opacity="0.69"/>
<ellipse cx="306.5" cy="595.1" rx="2.3" ry="2.8" transform="rotate(57 306.5 595.1)" stroke-width="1.5" stroke-opacity="0.80"/>
<circle cx="275.0" cy="690.0" r="3.9" fill="#6e58a8" stroke="none" fill-opacity="0.70"/>
<ellipse cx="276.9" cy="576.6" rx="2.7" ry="2.1" transform="rotate(138 276.9 576.6)" stroke-width="1.4" stroke-opacity="0.80"/>
<circle cx="265.3" cy="710.4" r="2.3" stroke-width="1.4" stroke-opacity="0.95"/>
<circle cx="224.5" cy="686.4" r="2.4" stroke-width="1.4" stroke-opacity="0.74"/>
<ellipse cx="262.3" cy="660.4" rx="2.8" ry="3.4" transform="rotate(104 262.3 660.4)" stroke-width="1.5" stroke-opacity="0.68"/>
<circle cx="285.0" cy="651.4" r="3.0" stroke-width="1.4" stroke-opacity="0.78"/>
<circle cx="201.2" cy="677.7" r="3.1" stroke-width="1.3" stroke-opacity="0.87"/>
<circle cx="206.0" cy="671.6" r="2.9" fill="#6e58a8" stroke="none" fill-opacity="0.51"/>
<ellipse cx="274.2" cy="689.1" rx="2.2" ry="2.5" transform="rotate(96 274.2 689.1)" stroke-width="1.2" stroke-opacity="0.74"/>
<circle cx="212.4" cy="665.8" r="2.4" stroke-width="1.3" stroke-opacity="0.73"/>
<circle cx="287.7" cy="661.1" r="4.4" fill="#6e58a8" stroke="none" fill-opacity="0.78"/>
<circle cx="242.1" cy="574.0" r="3.0" fill="#6e58a8" stroke="none" fill-opacity="0.67"/>
<circle cx="208.2" cy="652.9" r="2.5" stroke-width="1.6" stroke-opacity="0.81"/>
<ellipse cx="290.2" cy="600.0" rx="2.9" ry="3.3" transform="rotate(46 290.2 600.0)" stroke-width="1.1" stroke-opacity="0.63"/>
<ellipse cx="268.8" cy="661.3" rx="2.0" ry="2.5" transform="rotate(150 268.8 661.3)" stroke-width="1.7" stroke-opacity="0.71"/>
<ellipse cx="303.7" cy="611.8" rx="3.4" ry="2.8" transform="rotate(169 303.7 611.8)" stroke-width="1.2" stroke-opacity="0.69"/>
<circle cx="252.7" cy="703.1" r="2.3" stroke-width="1.5" stroke-opacity="0.68"/>
<ellipse cx="200.8" cy="694.4" rx="2.3" ry="1.9" transform="rotate(56 200.8 694.4)" stroke-width="1.2" stroke-opacity="0.85"/>
<ellipse cx="329.2" cy="614.4" rx="2.4" ry="2.0" transform="rotate(62 329.2 614.4)" stroke-width="1.3" stroke-opacity="0.80"/>
<ellipse cx="206.5" cy="637.5" rx="2.3" ry="2.7" transform="rotate(110 206.5 637.5)" stroke-width="1.6" stroke-opacity="0.86"/>
<circle cx="244.8" cy="657.0" r="2.6" stroke-width="1.2" stroke-opacity="0.86"/>
<ellipse cx="273.9" cy="694.6" rx="2.4" ry="3.0" transform="rotate(152 273.9 694.6)" stroke-width="1.4" stroke-opacity="0.76"/>
<circle cx="267.5" cy="706.6" r="2.2" stroke-width="1.5" stroke-opacity="0.73"/>
<ellipse cx="301.2" cy="642.1" rx="2.0" ry="2.3" transform="rotate(107 301.2 642.1)" stroke-width="1.3" stroke-opacity="0.76"/>
<ellipse cx="314.4" cy="599.0" rx="2.6" ry="3.3" transform="rotate(27 314.4 599.0)" stroke-width="1.3" stroke-opacity="0.85"/>
<ellipse cx="256.2" cy="599.4" rx="2.9" ry="2.4" transform="rotate(35 256.2 599.4)" stroke-width="1.2" stroke-opacity="0.75"/>
<ellipse cx="238.9" cy="713.7" rx="2.6" ry="3.4" transform="rotate(61 238.9 713.7)" stroke-width="1.5" stroke-opacity="0.69"/>
<ellipse cx="241.3" cy="714.4" rx="2.6" ry="2.2" transform="rotate(62 241.3 714.4)" stroke-width="1.4" stroke-opacity="0.79"/>
<ellipse cx="278.8" cy="663.5" rx="2.9" ry="2.5" transform="rotate(60 278.8 663.5)" stroke-width="1.5" stroke-opacity="0.92"/>
<circle cx="213.9" cy="633.2" r="3.3" fill="#6e58a8" stroke="none" fill-opacity="0.76"/>
<circle cx="234.0" cy="619.5" r="3.0" stroke-width="1.4" stroke-opacity="0.80"/>
<circle cx="305.8" cy="713.0" r="3.1" stroke-width="1.6" stroke-opacity="0.86"/>
<ellipse cx="208.2" cy="650.3" rx="2.8" ry="2.5" transform="rotate(125 208.2 650.3)" stroke-width="1.4" stroke-opacity="0.66"/>
<circle cx="289.5" cy="576.0" r="3.2" fill="#6e58a8" stroke="none" fill-opacity="0.59"/>
<circle cx="215.0" cy="603.9" r="2.1" stroke-width="1.6" stroke-opacity="0.70"/>
<circle cx="247.3" cy="716.0" r="3.1" stroke-width="1.1" stroke-opacity="0.90"/>
<circle cx="235.9" cy="651.1" r="2.2" stroke-width="1.5" stroke-opacity="0.88"/>
<circle cx="305.0" cy="598.1" r="2.3" stroke-width="1.5" stroke-opacity="0.80"/>
<circle cx="237.4" cy="707.5" r="2.1" stroke-width="1.6" stroke-opacity="0.65"/>
<ellipse cx="307.1" cy="657.3" rx="2.8" ry="2.3" transform="rotate(12 307.1 657.3)" stroke-width="1.4" stroke-opacity="0.62"/>
<circle cx="290.7" cy="694.5" r="4.1" fill="#6e58a8" stroke="none" fill-opacity="0.66"/>
<ellipse cx="248.4" cy="587.4" rx="3.5" ry="2.8" transform="rotate(179 248.4 587.4)" stroke-width="1.6" stroke-opacity="0.71"/>
<circle cx="277.7" cy="687.2" r="4.8" fill="#6e58a8" stroke="none" fill-opacity="0.70"/>
<circle cx="315.3" cy="587.9" r="2.8" stroke-width="1.4" stroke-opacity="0.94"/>
<circle cx="304.8" cy="579.6" r="2.1" stroke-width="1.6" stroke-opacity="0.65"/>
<circle cx="211.9" cy="590.0" r="2.0" stroke-width="1.6" stroke-opacity="0.76"/>
<ellipse cx="222.6" cy="676.5" rx="2.5" ry="2.2" transform="rotate(130 222.6 676.5)" stroke-width="1.7" stroke-opacity="0.85"/>
<ellipse cx="293.6" cy="685.0" rx="3.0" ry="2.4" transform="rotate(101 293.6 685.0)" stroke-width="1.1" stroke-opacity="0.77"/>
<ellipse cx="228.1" cy="633.5" rx="2.4" ry="2.0" transform="rotate(122 228.1 633.5)" stroke-width="1.7" stroke-opacity="0.93"/>
<circle cx="271.2" cy="588.6" r="4.3" fill="#6e58a8" stroke="none" fill-opacity="0.71"/>
<circle cx="335.7" cy="609.0" r="2.5" stroke-width="1.2" stroke-opacity="0.81"/>
<circle cx="224.2" cy="635.6" r="3.1" stroke-width="1.5" stroke-opacity="0.63"/>
<circle cx="292.1" cy="707.4" r="2.8" fill="#6e58a8" stroke="none" fill-opacity="0.85"/>
<circle cx="230.8" cy="639.3" r="2.8" stroke-width="1.3" stroke-opacity="0.94"/>
<ellipse cx="329.6" cy="602.8" rx="2.6" ry="2.1" transform="rotate(64 329.6 602.8)" stroke-width="1.1" stroke-opacity="0.71"/>
<ellipse cx="254.7" cy="713.9" rx="2.6" ry="2.2" transform="rotate(4 254.7 713.9)" stroke-width="1.4" stroke-opacity="0.89"/>
<circle cx="313.5" cy="598.2" r="2.7" stroke-width="1.2" stroke-opacity="0.93"/>
<circle cx="209.0" cy="712.1" r="4.3" fill="#6e58a8" stroke="none" fill-opacity="0.68"/>
<circle cx="321.0" cy="597.1" r="2.3" stroke-width="1.6" stroke-opacity="0.89"/>
<circle cx="245.3" cy="668.2" r="2.3" stroke-width="1.3" stroke-opacity="0.82"/>
<circle cx="304.9" cy="666.0" r="3.1" stroke-width="1.4" stroke-opacity="0.86"/>
<ellipse cx="244.9" cy="611.9" rx="2.5" ry="2.2" transform="rotate(73 244.9 611.9)" stroke-width="1.2" stroke-opacity="0.89"/>
<circle cx="235.8" cy="667.9" r="4.4" fill="#6e58a8" stroke="none" fill-opacity="0.56"/>
<ellipse cx="308.5" cy="600.7" rx="3.0" ry="3.4" transform="rotate(136 308.5 600.7)" stroke-width="1.5" stroke-opacity="0.79"/>
<circle cx="287.1" cy="611.6" r="2.9" stroke-width="1.2" stroke-opacity="0.69"/>
<circle cx="283.0" cy="698.4" r="2.6" stroke-width="1.4" stroke-opacity="0.74"/>
<circle cx="343.4" cy="607.5" r="2.6" fill="#6e58a8" stroke="none" fill-opacity="0.77"/>
<circle cx="271.7" cy="648.4" r="3.0" stroke-width="1.7" stroke-opacity="0.63"/>
<circle cx="253.6" cy="650.3" r="2.3" stroke-width="1.5" stroke-opacity="0.77"/>
<circle cx="262.7" cy="577.0" r="2.2" stroke-width="1.2" stroke-opacity="0.95"/>
<circle cx="243.7" cy="716.7" r="2.8" stroke-width="1.2" stroke-opacity="0.91"/>
<circle cx="342.8" cy="604.7" r="4.1" fill="#6e58a8" stroke="none" fill-opacity="0.82"/>
<circle cx="289.9" cy="599.0" r="4.2" fill="#6e58a8" stroke="none" fill-opacity="0.58"/>
<ellipse cx="203.4" cy="623.6" rx="3.0" ry="2.4" transform="rotate(123 203.4 623.6)" stroke-width="1.2" stroke-opacity="0.74"/>
<circle cx="314.1" cy="635.8" r="2.7" stroke-width="1.2" stroke-opacity="0.91"/>
<circle cx="209.0" cy="679.1" r="3.0" stroke-width="1.3" stroke-opacity="0.70"/>
<circle cx="281.9" cy="670.0" r="3.1" stroke-width="1.7" stroke-opacity="0.86"/>
<ellipse cx="275.2" cy="653.1" rx="3.0" ry="2.5" transform="rotate(168 275.2 653.1)" stroke-width="1.4" stroke-opacity="0.60"/>
<circle cx="330.3" cy="595.7" r="3.3" fill="#6e58a8" stroke="none" fill-opacity="0.54"/>
<ellipse cx="333.7" cy="609.1" rx="2.8" ry="3.6" transform="rotate(51 333.7 609.1)" stroke-width="1.5" stroke-opacity="0.80"/>
<ellipse cx="292.8" cy="716.3" rx="2.8" ry="2.5" transform="rotate(158 292.8 716.3)" stroke-width="1.2" stroke-opacity="0.94"/>
<circle cx="305.7" cy="699.5" r="4.2" fill="#6e58a8" stroke="none" fill-opacity="0.55"/>
<circle cx="204.3" cy="650.6" r="2.3" stroke-width="1.6" stroke-opacity="0.74"/>
<ellipse cx="270.3" cy="586.3" rx="2.6" ry="3.0" transform="rotate(162 270.3 586.3)" stroke-width="1.6" stroke-opacity="0.87"/>
<circle cx="270.9" cy="661.4" r="2.9" stroke-width="1.6" stroke-opacity="0.91"/>
<circle cx="246.2" cy="707.1" r="3.2" stroke-width="1.1" stroke-opacity="0.82"/>
<ellipse cx="288.1" cy="617.8" rx="2.1" ry="2.6" transform="rotate(58 288.1 617.8)" stroke-width="1.5" stroke-opacity="0.61"/>
<circle cx="308.0" cy="595.3" r="2.4" stroke-width="1.2" stroke-opacity="0.68"/>
<ellipse cx="224.1" cy="708.1" rx="2.8" ry="3.3" transform="rotate(147 224.1 708.1)" stroke-width="1.4" stroke-opacity="0.71"/>
<circle cx="251.8" cy="666.2" r="3.1" fill="#6e58a8" stroke="none" fill-opacity="0.59"/>
<ellipse cx="215.1" cy="633.6" rx="2.1" ry="2.5" transform="rotate(166 215.1 633.6)" stroke-width="1.3" stroke-opacity="0.68"/>
<ellipse cx="293.5" cy="655.5" rx="3.3" ry="2.7" transform="rotate(127 293.5 655.5)" stroke-width="1.2" stroke-opacity="0.67"/>
<ellipse cx="201.9" cy="609.4" rx="2.8" ry="3.3" transform="rotate(98 201.9 609.4)" stroke-width="1.5" stroke-opacity="0.71"/>
<ellipse cx="215.5" cy="631.4" rx="1.8" ry="2.3" transform="rotate(164 215.5 631.4)" stroke-width="1.3" stroke-opacity="0.79"/>
<circle cx="318.7" cy="611.2" r="2.3" stroke-width="1.6" stroke-opacity="0.88"/>
<circle cx="198.9" cy="572.0" r="3.1" stroke-width="1.1" stroke-opacity="0.61"/>
<circle cx="229.8" cy="617.4" r="2.1" stroke-width="1.2" stroke-opacity="0.91"/>
<ellipse cx="310.4" cy="601.6" rx="2.5" ry="2.9" transform="rotate(2 310.4 601.6)" stroke-width="1.2" stroke-opacity="0.89"/>
<circle cx="211.2" cy="676.7" r="4.9" fill="#6e58a8" stroke="none" fill-opacity="0.51"/>
<ellipse cx="268.9" cy="650.7" rx="2.3" ry="2.6" transform="rotate(177 268.9 650.7)" stroke-width="1.2" stroke-opacity="0.82"/>
<ellipse cx="201.3" cy="647.1" rx="2.0" ry="2.2" transform="rotate(103 201.3 647.1)" stroke-width="1.3" stroke-opacity="0.64"/>
<ellipse cx="285.2" cy="572.2" rx="2.4" ry="2.0" transform="rotate(25 285.2 572.2)" stroke-width="1.4" stroke-opacity="0.89"/>
<circle cx="201.7" cy="715.6" r="3.1" stroke-width="1.2" stroke-opacity="0.75"/>
<circle cx="292.3" cy="597.8" r="4.8" fill="#6e58a8" stroke="none" fill-opacity="0.72"/>
<circle cx="222.9" cy="666.9" r="2.8" stroke-width="1.3" stroke-opacity="0.82"/>
<circle cx="204.8" cy="692.0" r="4.0" fill="#6e58a8" stroke="none" fill-opacity="0.75"/>
<circle cx="333.6" cy="607.3" r="2.6" stroke-width="1.7" stroke-opacity="0.80"/>
<circle cx="313.1" cy="598.4" r="3.4" fill="#6e58a8" stroke="none" fill-opacity="0.60"/>
<circle cx="227.7" cy="654.0" r="3.7" fill="#6e58a8" stroke="none" fill-opacity="0.70"/>
<ellipse cx="303.8" cy="599.1" rx="2.8" ry="3.5" transform="rotate(87 303.8 599.1)" stroke-width="1.3" stroke-opacity="0.72"/>
<ellipse cx="220.6" cy="657.2" rx="2.8" ry="2.2" transform="rotate(82 220.6 657.2)" stroke-width="1.1" stroke-opacity="0.73"/>
<circle cx="241.1" cy="696.5" r="2.8" fill="#6e58a8" stroke="none" fill-opacity="0.83"/>
<circle cx="311.6" cy="626.6" r="2.3" stroke-width="1.7" stroke-opacity="0.93"/>
<circle cx="256.6" cy="618.6" r="2.6" stroke-width="1.2" stroke-opacity="0.95"/>
<circle cx="273.5" cy="626.0" r="3.1" stroke-width="1.3" stroke-opacity="0.80"/>
<circle cx="264.2" cy="656.3" r="4.8" fill="#6e58a8" stroke="none" fill-opacity="0.67"/>
<circle cx="308.3" cy="602.3" r="3.0" stroke-width="1.5" stroke-opacity="0.76"/>
<ellipse cx="218.9" cy="661.0" rx="3.4" ry="2.9" transform="rotate(4 218.9 661.0)" stroke-width="1.1" stroke-opacity="0.91"/>
<circle cx="223.2" cy="624.0" r="4.3" fill="#6e58a8" stroke="none" fill-opacity="0.78"/>
<circle cx="249.9" cy="576.3" r="2.6" stroke-width="1.5" stroke-opacity="0.93"/>
<ellipse cx="208.1" cy="663.9" rx="2.5" ry="3.0" transform="rotate(45 208.1 663.9)" stroke-width="1.5" stroke-opacity="0.63"/>
<circle cx="306.2" cy="692.6" r="2.6" stroke-width="1.2" stroke-opacity="0.60"/>
<ellipse cx="214.2" cy="623.7" rx="1.8" ry="2.3" transform="rotate(117 214.2 623.7)" stroke-width="1.6" stroke-opacity="0.94"/>
<ellipse cx="207.4" cy="584.4" rx="3.5" ry="2.8" transform="rotate(144 207.4 584.4)" stroke-width="1.5" stroke-opacity="0.93"/>
<ellipse cx="238.1" cy="594.5" rx="2.3" ry="2.7" transform="rotate(54 238.1 594.5)" stroke-width="1.4" stroke-opacity="0.85"/>
<circle cx="229.6" cy="573.4" r="3.1" stroke-width="1.6" stroke-opacity="0.94"/>
<ellipse cx="257.2" cy="658.1" rx="3.0" ry="2.5" transform="rotate(45 257.2 658.1)" stroke-width="1.6" stroke-opacity="0.74"/>
<ellipse cx="227.4" cy="690.1" rx="2.3" ry="2.9" transform="rotate(28 227.4 690.1)" stroke-width="1.2" stroke-opacity="0.94"/>
<circle cx="315.2" cy="576.0" r="2.6" stroke-width="1.3" stroke-opacity="0.94"/>
<circle cx="322.2" cy="585.5" r="3.1" fill="#6e58a8" stroke="none" fill-opacity="0.53"/>
<ellipse cx="238.0" cy="601.1" rx="2.9" ry="2.4" transform="rotate(114 238.0 601.1)" stroke-width="1.5" stroke-opacity="0.87"/>
<ellipse cx="203.4" cy="627.8" rx="3.3" ry="2.9" transform="rotate(3 203.4 627.8)" stroke-width="1.6" stroke-opacity="0.71"/>
<ellipse cx="295.7" cy="576.7" rx="3.0" ry="2.6" transform="rotate(114 295.7 576.7)" stroke-width="1.4" stroke-opacity="0.73"/>
<ellipse cx="309.4" cy="589.8" rx="2.6" ry="2.3" transform="rotate(122 309.4 589.8)" stroke-width="1.4" stroke-opacity="0.91"/>
<circle cx="311.2" cy="585.2" r="3.0" stroke-width="1.3" stroke-opacity="0.94"/>
<circle cx="208.5" cy="666.7" r="2.2" stroke-width="1.7" stroke-opacity="0.79"/>
<circle cx="296.7" cy="600.8" r="3.0" stroke-width="1.2" stroke-opacity="0.88"/>
<circle cx="274.1" cy="671.5" r="4.4" fill="#6e58a8" stroke="none" fill-opacity="0.78"/>
<ellipse cx="275.7" cy="704.4" rx="1.9" ry="2.4" transform="rotate(123 275.7 704.4)" stroke-width="1.1" stroke-opacity="0.78"/>
<circle cx="198.7" cy="579.7" r="2.5" stroke-width="1.5" stroke-opacity="0.68"/>
<circle cx="283.1" cy="595.6" r="2.3" stroke-width="1.4" stroke-opacity="0.92"/>
<ellipse cx="291.2" cy="699.4" rx="2.4" ry="2.0" transform="rotate(73 291.2 699.4)" stroke-width="1.6" stroke-opacity="0.80"/>
<ellipse cx="213.8" cy="599.7" rx="3.3" ry="2.7" transform="rotate(173 213.8 599.7)" stroke-width="1.3" stroke-opacity="0.94"/>
<ellipse cx="215.5" cy="653.7" rx="2.0" ry="2.3" transform="rotate(64 215.5 653.7)" stroke-width="1.5" stroke-opacity="0.79"/>
<circle cx="281.6" cy="706.6" r="2.1" stroke-width="1.5" stroke-opacity="0.75"/>
<ellipse cx="223.2" cy="676.1" rx="2.7" ry="2.3" transform="rotate(79 223.2 676.1)" stroke-width="1.3" stroke-opacity="0.73"/>
<circle cx="230.2" cy="710.7" r="2.7" stroke-width="1.1" stroke-opacity="0.64"/>
<circle cx="234.5" cy="578.2" r="2.2" stroke-width="1.3" stroke-opacity="0.87"/>
<ellipse cx="227.8" cy="591.3" rx="2.0" ry="2.4" transform="rotate(47 227.8 591.3)" stroke-width="1.6" stroke-opacity="0.83"/>
<ellipse cx="303.7" cy="663.0" rx="2.6" ry="2.2" transform="rotate(112 303.7 663.0)" stroke-width="1.6" stroke-opacity="0.93"/>
<ellipse cx="316.1" cy="650.0" rx="2.4" ry="2.8" transform="rotate(166 316.1 650.0)" stroke-width="1.2" stroke-opacity="0.70"/>
<circle cx="244.6" cy="682.3" r="2.0" stroke-width="1.5" stroke-opacity="0.86"/>
<circle cx="330.8" cy="603.9" r="2.2" stroke-width="1.1" stroke-opacity="0.90"/>
<ellipse cx="250.8" cy="683.5" rx="2.7" ry="2.4" transform="rotate(115 250.8 683.5)" stroke-width="1.3" stroke-opacity="0.89"/>
<ellipse cx="292.0" cy="639.4" rx="1.9" ry="2.3" transform="rotate(67 292.0 639.4)" stroke-width="1.2" stroke-opacity="0.67"/>
<ellipse cx="248.5" cy="639.3" rx="2.0" ry="2.4" transform="rotate(20 248.5 639.3)" stroke-width="1.6" stroke-opacity="0.75"/>
<ellipse cx="208.3" cy="689.6" rx="2.9" ry="2.4" transform="rotate(99 208.3 689.6)" stroke-width="1.1" stroke-opacity="0.67"/>
<circle cx="277.4" cy="704.9" r="2.1" stroke-width="1.3" stroke-opacity="0.95"/>
<ellipse cx="217.0" cy="714.5" rx="2.7" ry="2.2" transform="rotate(118 217.0 714.5)" stroke-width="1.5" stroke-opacity="0.69"/>
<circle cx="281.5" cy="694.1" r="4.2" fill="#6e58a8" stroke="none" fill-opacity="0.75"/>
<ellipse cx="291.2" cy="593.8" rx="2.6" ry="3.3" transform="rotate(136 291.2 593.8)" stroke-width="1.6" stroke-opacity="0.83"/>
<circle cx="247.9" cy="688.7" r="3.8" fill="#6e58a8" stroke="none" fill-opacity="0.82"/>
<circle cx="226.1" cy="705.0" r="2.9" stroke-width="1.3" stroke-opacity="0.82"/>
<circle cx="198.4" cy="668.6" r="3.0" fill="#6e58a8" stroke="none" fill-opacity="0.56"/>
<circle cx="237.7" cy="682.7" r="2.8" stroke-width="1.4" stroke-opacity="0.80"/>
<ellipse cx="199.3" cy="611.9" rx="2.4" ry="2.9" transform="rotate(39 199.3 611.9)" stroke-width="1.2" stroke-opacity="0.92"/>
</g>
<g fill="#261a5c">
<circle cx="244.2" cy="628.0" r="1.4" fill-opacity="0.85"/>
<circle cx="222.0" cy="692.8" r="1.4" fill-opacity="0.84"/>
<circle cx="222.8" cy="692.5" r="1.9" fill-opacity="0.76"/>
<circle cx="214.6" cy="620.8" r="2.1" fill-opacity="0.60"/>
<circle cx="214.3" cy="623.9" r="2.7" fill-opacity="0.68"/>
<circle cx="271.7" cy="700.6" r="2.6" fill-opacity="0.73"/>
<circle cx="311.0" cy="585.6" r="1.4" fill-opacity="0.72"/>
<circle cx="309.2" cy="583.9" r="2.6" fill-opacity="0.59"/>
<circle cx="281.7" cy="593.2" r="1.9" fill-opacity="0.92"/>
<circle cx="216.9" cy="643.6" r="1.7" fill-opacity="0.72"/>
<circle cx="237.4" cy="692.6" r="2.6" fill-opacity="0.75"/>
<circle cx="239.4" cy="692.7" r="2.4" fill-opacity="0.58"/>
<circle cx="242.1" cy="694.9" r="1.4" fill-opacity="0.74"/>
<circle cx="211.1" cy="658.6" r="2.7" fill-opacity="0.87"/>
<circle cx="272.1" cy="686.1" r="2.2" fill-opacity="0.59"/>
<circle cx="276.2" cy="682.2" r="1.5" fill-opacity="0.93"/>
<circle cx="287.2" cy="690.2" r="1.5" fill-opacity="0.66"/>
<circle cx="317.2" cy="657.8" r="2.3" fill-opacity="0.92"/>
<circle cx="201.8" cy="703.2" r="2.3" fill-opacity="0.86"/>
<circle cx="214.2" cy="707.9" r="1.7" fill-opacity="0.77"/>
<circle cx="236.5" cy="657.1" r="1.7" fill-opacity="0.85"/>
<circle cx="235.0" cy="657.0" r="2.0" fill-opacity="0.74"/>
<circle cx="201.5" cy="650.1" r="2.4" fill-opacity="0.84"/>
<circle cx="202.9" cy="584.6" r="2.7" fill-opacity="0.55"/>
<circle cx="203.9" cy="584.5" r="2.1" fill-opacity="0.64"/>
<circle cx="204.0" cy="583.7" r="2.2" fill-opacity="0.70"/>
<circle cx="211.0" cy="594.5" r="2.7" fill-opacity="0.70"/>
<circle cx="207.9" cy="592.4" r="2.6" fill-opacity="0.60"/>
<circle cx="208.0" cy="593.1" r="2.5" fill-opacity="0.89"/>
<circle cx="252.8" cy="604.2" r="2.3" fill-opacity="0.91"/>
<circle cx="253.1" cy="607.6" r="1.8" fill-opacity="0.66"/>
<circle cx="200.8" cy="671.9" r="2.0" fill-opacity="0.58"/>
<circle cx="248.8" cy="613.4" r="2.1" fill-opacity="0.64"/>
<circle cx="264.8" cy="592.5" r="2.7" fill-opacity="0.91"/>
<circle cx="261.1" cy="594.6" r="1.7" fill-opacity="0.93"/>
<circle cx="284.5" cy="629.9" r="1.5" fill-opacity="0.78"/>
<circle cx="245.5" cy="651.5" r="2.4" fill-opacity="0.85"/>
<circle cx="246.0" cy="649.7" r="1.6" fill-opacity="0.72"/>
<circle cx="245.4" cy="649.8" r="2.4" fill-opacity="0.89"/>
<circle cx="205.7" cy="571.2" r="2.6" fill-opacity="0.85"/>
<circle cx="203.0" cy="575.3" r="1.9" fill-opacity="0.59"/>
<circle cx="278.1" cy="688.2" r="2.5" fill-opacity="0.86"/>
<circle cx="200.2" cy="585.9" r="2.3" fill-opacity="0.85"/>
<circle cx="199.7" cy="587.5" r="2.4" fill-opacity="0.91"/>
<circle cx="233.8" cy="673.7" r="1.8" fill-opacity="0.64"/>
<circle cx="265.8" cy="635.3" r="1.8" fill-opacity="0.81"/>
<circle cx="268.5" cy="631.7" r="1.4" fill-opacity="0.72"/>
<circle cx="326.7" cy="597.6" r="1.6" fill-opacity="0.66"/>
<circle cx="326.4" cy="597.0" r="1.5" fill-opacity="0.69"/>
<circle cx="324.7" cy="596.6" r="2.2" fill-opacity="0.95"/>
<circle cx="272.6" cy="605.9" r="2.7" fill-opacity="0.72"/>
<circle cx="277.0" cy="608.2" r="2.3" fill-opacity="0.60"/>
<circle cx="274.0" cy="608.3" r="1.8" fill-opacity="0.93"/>
<circle cx="209.2" cy="615.8" r="2.1" fill-opacity="0.91"/>
<circle cx="209.6" cy="615.2" r="1.9" fill-opacity="0.76"/>
<circle cx="335.3" cy="603.2" r="2.4" fill-opacity="0.57"/>
<circle cx="334.5" cy="606.3" r="2.2" fill-opacity="0.58"/>
<circle cx="338.3" cy="603.1" r="1.4" fill-opacity="0.85"/>
<circle cx="198.7" cy="666.5" r="2.6" fill-opacity="0.70"/>
<circle cx="280.4" cy="619.9" r="1.7" fill-opacity="0.75"/>
<circle cx="203.4" cy="655.1" r="2.8" fill-opacity="0.68"/>
<circle cx="207.1" cy="655.4" r="2.4" fill-opacity="0.71"/>
<circle cx="231.0" cy="581.1" r="2.1" fill-opacity="0.62"/>
<circle cx="228.4" cy="580.5" r="2.6" fill-opacity="0.88"/>
<circle cx="227.1" cy="578.4" r="2.3" fill-opacity="0.88"/>
<circle cx="309.7" cy="579.1" r="1.5" fill-opacity="0.73"/>
<circle cx="285.5" cy="700.3" r="2.0" fill-opacity="0.63"/>
<circle cx="284.5" cy="699.4" r="1.8" fill-opacity="0.61"/>
<circle cx="231.1" cy="606.2" r="1.9" fill-opacity="0.83"/>
<circle cx="219.0" cy="635.4" r="2.2" fill-opacity="0.79"/>
<circle cx="216.9" cy="637.0" r="1.6" fill-opacity="0.89"/>
<circle cx="308.3" cy="615.8" r="2.3" fill-opacity="0.68"/>
<circle cx="250.7" cy="591.9" r="2.4" fill-opacity="0.74"/>
<circle cx="249.6" cy="593.3" r="2.1" fill-opacity="0.73"/>
<circle cx="230.6" cy="687.7" r="2.3" fill-opacity="0.85"/>
<circle cx="230.4" cy="685.7" r="2.1" fill-opacity="0.58"/>
<circle cx="211.3" cy="657.0" r="2.5" fill-opacity="0.84"/>
<circle cx="221.8" cy="691.1" r="2.2" fill-opacity="0.57"/>
<circle cx="222.9" cy="691.7" r="1.8" fill-opacity="0.75"/>
<circle cx="218.5" cy="689.7" r="1.5" fill-opacity="0.67"/>
<circle cx="202.1" cy="577.2" r="2.5" fill-opacity="0.85"/>
<circle cx="282.9" cy="674.4" r="1.4" fill-opacity="0.94"/>
<circle cx="196.3" cy="657.3" r="2.5" fill-opacity="0.84"/>
<circle cx="198.2" cy="657.7" r="1.5" fill-opacity="0.77"/>
<circle cx="226.4" cy="642.7" r="2.4" fill-opacity="0.64"/>
<circle cx="227.9" cy="641.7" r="2.5" fill-opacity="0.71"/>
<circle cx="278.5" cy="712.4" r="2.1" fill-opacity="0.62"/>
<circle cx="314.9" cy="612.8" r="1.7" fill-opacity="0.71"/>
<circle cx="230.9" cy="714.4" r="2.7" fill-opacity="0.61"/>
<circle cx="230.5" cy="711.5" r="2.4" fill-opacity="0.86"/>
<circle cx="256.1" cy="615.8" r="1.4" fill-opacity="0.61"/>
<circle cx="254.4" cy="614.9" r="2.5" fill-opacity="0.76"/>
<circle cx="339.8" cy="617.0" r="1.5" fill-opacity="0.70"/>
<circle cx="285.4" cy="613.0" r="2.6" fill-opacity="0.82"/>
<circle cx="286.0" cy="614.5" r="2.2" fill-opacity="0.89"/>
<circle cx="226.8" cy="599.6" r="2.2" fill-opacity="0.90"/>
<circle cx="224.8" cy="599.8" r="2.1" fill-opacity="0.75"/>
<circle cx="305.9" cy="576.7" r="2.5" fill-opacity="0.87"/>
<circle cx="307.4" cy="578.7" r="2.1" fill-opacity="0.75"/>
<circle cx="310.9" cy="669.7" r="1.6" fill-opacity="0.90"/>
<circle cx="310.0" cy="670.3" r="2.2" fill-opacity="0.62"/>
<circle cx="311.0" cy="670.5" r="1.9" fill-opacity="0.70"/>
<circle cx="235.3" cy="592.9" r="1.6" fill-opacity="0.69"/>
<circle cx="241.2" cy="595.1" r="2.1" fill-opacity="0.60"/>
<circle cx="237.1" cy="592.7" r="2.0" fill-opacity="0.92"/>
<circle cx="299.2" cy="575.7" r="2.4" fill-opacity="0.88"/>
<circle cx="311.3" cy="598.7" r="2.8" fill-opacity="0.67"/>
<circle cx="320.7" cy="611.7" r="2.7" fill-opacity="0.94"/>
<circle cx="201.3" cy="632.5" r="1.7" fill-opacity="0.89"/>
<circle cx="202.5" cy="627.5" r="2.8" fill-opacity="0.68"/>
<circle cx="202.9" cy="625.8" r="2.3" fill-opacity="0.65"/>
<circle cx="269.4" cy="653.2" r="1.7" fill-opacity="0.75"/>
<circle cx="267.2" cy="649.6" r="1.7" fill-opacity="0.62"/>
<circle cx="244.8" cy="622.4" r="1.5" fill-opacity="0.92"/>
<circle cx="242.9" cy="621.5" r="1.9" fill-opacity="0.71"/>
<circle cx="274.7" cy="609.3" r="1.8" fill-opacity="0.76"/>
<circle cx="276.0" cy="607.0" r="1.8" fill-opacity="0.58"/>
<circle cx="321.5" cy="585.4" r="1.7" fill-opacity="0.65"/>
<circle cx="319.8" cy="586.2" r="2.1" fill-opacity="0.64"/>
<circle cx="304.2" cy="594.0" r="1.6" fill-opacity="0.64"/>
<circle cx="306.2" cy="596.8" r="2.8" fill-opacity="0.72"/>
<circle cx="306.9" cy="597.2" r="2.6" fill-opacity="0.57"/>
<circle cx="275.3" cy="655.9" r="2.2" fill-opacity="0.87"/>
<circle cx="328.2" cy="584.6" r="1.5" fill-opacity="0.70"/>
<circle cx="318.4" cy="575.6" r="1.5" fill-opacity="0.72"/>
<circle cx="314.6" cy="576.7" r="1.6" fill-opacity="0.84"/>
<circle cx="284.8" cy="712.9" r="1.6" fill-opacity="0.77"/>
<circle cx="303.9" cy="601.4" r="1.6" fill-opacity="0.83"/>
<circle cx="302.5" cy="602.5" r="2.2" fill-opacity="0.66"/>
<circle cx="288.0" cy="630.6" r="2.2" fill-opacity="0.73"/>
<circle cx="286.7" cy="632.3" r="2.4" fill-opacity="0.64"/>
<circle cx="295.6" cy="599.5" r="1.8" fill-opacity="0.81"/>
<circle cx="272.2" cy="720.0" r="2.1" fill-opacity="0.75"/>
<circle cx="267.3" cy="657.8" r="2.6" fill-opacity="0.78"/>
<circle cx="304.8" cy="596.6" r="2.7" fill-opacity="0.90"/>
<circle cx="306.7" cy="597.5" r="2.4" fill-opacity="0.87"/>
<circle cx="315.3" cy="609.4" r="2.1" fill-opacity="0.80"/>
<circle cx="315.4" cy="609.3" r="2.7" fill-opacity="0.80"/>
<circle cx="312.0" cy="611.7" r="1.4" fill-opacity="0.74"/>
<circle cx="223.8" cy="629.3" r="2.5" fill-opacity="0.79"/>
<circle cx="271.0" cy="690.0" r="2.2" fill-opacity="0.67"/>
<circle cx="273.6" cy="685.8" r="1.8" fill-opacity="0.60"/>
<circle cx="220.5" cy="643.5" r="1.9" fill-opacity="0.62"/>
<circle cx="267.9" cy="713.8" r="1.7" fill-opacity="0.79"/>
<circle cx="266.3" cy="714.7" r="1.8" fill-opacity="0.67"/>
<circle cx="201.0" cy="713.5" r="1.9" fill-opacity="0.58"/>
<circle cx="203.8" cy="711.8" r="1.6" fill-opacity="0.71"/>
<circle cx="239.1" cy="680.0" r="2.8" fill-opacity="0.89"/>
<circle cx="227.0" cy="707.0" r="2.4" fill-opacity="0.88"/>
<circle cx="266.3" cy="670.4" r="2.3" fill-opacity="0.76"/>
<circle cx="270.6" cy="670.4" r="2.7" fill-opacity="0.83"/>
<circle cx="314.4" cy="607.0" r="1.8" fill-opacity="0.69"/>
<circle cx="320.9" cy="588.1" r="2.0" fill-opacity="0.89"/>
<circle cx="313.1" cy="666.0" r="2.4" fill-opacity="0.63"/>
<circle cx="326.4" cy="588.9" r="1.9" fill-opacity="0.87"/>
<circle cx="328.8" cy="588.8" r="2.5" fill-opacity="0.70"/>
<circle cx="327.2" cy="592.9" r="1.5" fill-opacity="0.71"/>
<circle cx="278.7" cy="713.9" r="1.5" fill-opacity="0.61"/>
<circle cx="282.2" cy="714.9" r="1.6" fill-opacity="0.90"/>
<circle cx="282.0" cy="713.0" r="2.7" fill-opacity="0.84"/>
<circle cx="342.0" cy="597.0" r="1.7" fill-opacity="0.73"/>
<circle cx="343.8" cy="594.8" r="2.6" fill-opacity="0.64"/>
<circle cx="342.3" cy="598.2" r="2.7" fill-opacity="0.87"/>
<circle cx="213.0" cy="649.1" r="1.6" fill-opacity="0.64"/>
<circle cx="267.9" cy="634.7" r="2.2" fill-opacity="0.68"/>
<circle cx="269.8" cy="632.4" r="2.1" fill-opacity="0.70"/>
<circle cx="197.5" cy="709.0" r="2.1" fill-opacity="0.82"/>
<circle cx="201.4" cy="708.3" r="1.5" fill-opacity="0.94"/>
<circle cx="284.1" cy="718.0" r="1.8" fill-opacity="0.80"/>
<circle cx="290.5" cy="623.0" r="1.9" fill-opacity="0.88"/>
<circle cx="288.2" cy="621.5" r="2.8" fill-opacity="0.73"/>
<circle cx="241.4" cy="591.0" r="2.0" fill-opacity="0.88"/>
<circle cx="204.9" cy="653.2" r="2.6" fill-opacity="0.80"/>
<circle cx="200.2" cy="649.4" r="2.1" fill-opacity="0.95"/>
<circle cx="303.6" cy="623.2" r="2.0" fill-opacity="0.84"/>
<circle cx="300.9" cy="624.4" r="1.6" fill-opacity="0.66"/>
<circle cx="301.4" cy="625.2" r="2.0" fill-opacity="0.90"/>
<circle cx="309.6" cy="607.8" r="2.4" fill-opacity="0.80"/>
<circle cx="310.2" cy="605.1" r="2.7" fill-opacity="0.84"/>
<circle cx="333.2" cy="625.5" r="2.8" fill-opacity="0.85"/>
<circle cx="332.8" cy="625.1" r="2.2" fill-opacity="0.78"/>
<circle cx="232.0" cy="710.5" r="1.8" fill-opacity="0.59"/>
<circle cx="232.2" cy="708.5" r="2.6" fill-opacity="0.76"/>
<circle cx="292.2" cy="681.6" r="1.5" fill-opacity="0.92"/>
<circle cx="292.0" cy="680.6" r="1.9" fill-opacity="0.63"/>
<circle cx="302.6" cy="708.4" r="2.5" fill-opacity="0.60"/>
<circle cx="303.8" cy="705.9" r="2.1" fill-opacity="0.71"/>
<circle cx="330.3" cy="593.7" r="2.5" fill-opacity="0.78"/>
<circle cx="328.3" cy="592.6" r="1.9" fill-opacity="0.57"/>
<circle cx="322.2" cy="613.2" r="2.6" fill-opacity="0.62"/>
<circle cx="196.6" cy="572.1" r="1.8" fill-opacity="0.65"/>
<circle cx="281.5" cy="602.6" r="1.8" fill-opacity="0.90"/>
<circle cx="277.0" cy="600.3" r="2.0" fill-opacity="0.88"/>
<circle cx="281.2" cy="603.9" r="2.4" fill-opacity="0.61"/>
<circle cx="199.8" cy="578.9" r="2.3" fill-opacity="0.94"/>
<circle cx="285.8" cy="717.2" r="2.0" fill-opacity="0.77"/>
<circle cx="283.8" cy="714.7" r="2.1" fill-opacity="0.59"/>
<circle cx="325.1" cy="593.2" r="2.6" fill-opacity="0.58"/>
<circle cx="277.6" cy="679.2" r="1.5" fill-opacity="0.56"/>
<circle cx="277.5" cy="674.9" r="2.2" fill-opacity="0.69"/>
<circle cx="257.9" cy="716.5" r="2.1" fill-opacity="0.59"/>
<circle cx="214.3" cy="578.8" r="2.7" fill-opacity="0.77"/>
<circle cx="211.4" cy="579.7" r="1.9" fill-opacity="0.81"/>
<circle cx="214.4" cy="579.2" r="1.6" fill-opacity="0.90"/>
<circle cx="296.5" cy="640.3" r="1.9" fill-opacity="0.55"/>
<circle cx="293.8" cy="635.6" r="2.0" fill-opacity="0.64"/>
<circle cx="278.5" cy="661.4" r="2.6" fill-opacity="0.91"/>
<circle cx="280.1" cy="659.3" r="2.2" fill-opacity="0.63"/>
<circle cx="200.0" cy="694.4" r="1.6" fill-opacity="0.84"/>
<circle cx="310.4" cy="584.3" r="2.1" fill-opacity="0.69"/>
<circle cx="295.7" cy="601.3" r="1.8" fill-opacity="0.89"/>
<circle cx="295.4" cy="598.9" r="1.9" fill-opacity="0.78"/>
<circle cx="302.6" cy="640.7" r="1.7" fill-opacity="0.69"/>
<circle cx="305.6" cy="640.4" r="2.6" fill-opacity="0.79"/>
<circle cx="305.2" cy="640.5" r="1.8" fill-opacity="0.81"/>
<circle cx="238.9" cy="691.7" r="2.4" fill-opacity="0.93"/>
<circle cx="241.5" cy="689.8" r="2.1" fill-opacity="0.70"/>
<circle cx="267.2" cy="602.7" r="2.7" fill-opacity="0.91"/>
<circle cx="236.7" cy="624.9" r="1.8" fill-opacity="0.86"/>
<circle cx="305.9" cy="629.9" r="1.4" fill-opacity="0.71"/>
<circle cx="252.8" cy="684.4" r="2.3" fill-opacity="0.92"/>
<circle cx="198.6" cy="626.6" r="1.4" fill-opacity="0.68"/>
<circle cx="284.4" cy="592.0" r="2.0" fill-opacity="0.91"/>
<circle cx="284.4" cy="592.5" r="1.9" fill-opacity="0.85"/>
<circle cx="211.2" cy="595.2" r="2.3" fill-opacity="0.75"/>
<circle cx="209.9" cy="593.5" r="1.8" fill-opacity="0.65"/>
<circle cx="211.5" cy="596.2" r="2.4" fill-opacity="0.60"/>
<circle cx="284.0" cy="683.7" r="1.8" fill-opacity="0.69"/>
<circle cx="235.5" cy="574.7" r="1.7" fill-opacity="0.85"/>
<circle cx="281.3" cy="592.0" r="1.7" fill-opacity="0.73"/>
<circle cx="295.2" cy="711.9" r="1.6" fill-opacity="0.83"/>
<circle cx="300.6" cy="600.2" r="2.7" fill-opacity="0.95"/>
<circle cx="307.4" cy="576.7" r="2.8" fill-opacity="0.86"/>
<circle cx="298.2" cy="631.0" r="2.8" fill-opacity="0.70"/>
<circle cx="299.8" cy="631.5" r="1.9" fill-opacity="0.62"/>
<circle cx="299.9" cy="630.6" r="1.5" fill-opacity="0.85"/>
<circle cx="285.2" cy="703.9" r="1.4" fill-opacity="0.74"/>
<circle cx="223.1" cy="676.7" r="1.5" fill-opacity="0.90"/>
<circle cx="222.5" cy="675.9" r="2.2" fill-opacity="0.75"/>
<circle cx="245.1" cy="701.4" r="2.3" fill-opacity="0.79"/>
<circle cx="202.2" cy="659.2" r="1.5" fill-opacity="0.68"/>
<circle cx="330.6" cy="604.3" r="1.5" fill-opacity="0.59"/>
<circle cx="333.0" cy="601.3" r="2.6" fill-opacity="0.57"/>
<circle cx="237.7" cy="632.7" r="1.8" fill-opacity="0.69"/>
<circle cx="235.1" cy="632.8" r="2.0" fill-opacity="0.85"/>
<circle cx="243.3" cy="650.5" r="2.8" fill-opacity="0.78"/>
<circle cx="244.5" cy="646.9" r="2.0" fill-opacity="0.69"/>
<circle cx="240.3" cy="684.2" r="2.1" fill-opacity="0.74"/>
<circle cx="211.6" cy="680.0" r="1.9" fill-opacity="0.73"/>
<circle cx="207.8" cy="681.0" r="1.6" fill-opacity="0.84"/>
<circle cx="209.7" cy="681.9" r="2.7" fill-opacity="0.93"/>
<circle cx="271.2" cy="650.7" r="2.4" fill-opacity="0.88"/>
<circle cx="249.2" cy="684.0" r="1.8" fill-opacity="0.94"/>
<circle cx="216.0" cy="624.5" r="1.4" fill-opacity="0.59"/>
<circle cx="218.4" cy="626.1" r="2.1" fill-opacity="0.94"/>
<circle cx="286.1" cy="670.7" r="1.7" fill-opacity="0.84"/>
<circle cx="281.7" cy="669.0" r="2.6" fill-opacity="0.92"/>
<circle cx="250.1" cy="717.5" r="1.9" fill-opacity="0.82"/>
<circle cx="325.2" cy="612.4" r="2.7" fill-opacity="0.87"/>
<circle cx="323.6" cy="614.9" r="2.4" fill-opacity="0.71"/>
<circle cx="219.8" cy="645.9" r="2.6" fill-opacity="0.60"/>
<circle cx="312.1" cy="591.1" r="1.9" fill-opacity="0.68"/>
<circle cx="310.2" cy="591.6" r="2.1" fill-opacity="0.82"/>
<circle cx="209.7" cy="574.9" r="2.4" fill-opacity="0.82"/>
<circle cx="211.7" cy="572.9" r="2.5" fill-opacity="0.79"/>
<circle cx="226.4" cy="579.7" r="2.8" fill-opacity="0.84"/>
<circle cx="210.0" cy="665.6" r="2.3" fill-opacity="0.69"/>
<circle cx="260.6" cy="596.5" r="2.1" fill-opacity="0.60"/>
<circle cx="258.4" cy="594.9" r="1.7" fill-opacity="0.70"/>
<circle cx="328.5" cy="582.1" r="1.6" fill-opacity="0.83"/>
<circle cx="328.6" cy="581.2" r="2.6" fill-opacity="0.68"/>
<circle cx="244.8" cy="696.8" r="2.7" fill-opacity="0.74"/>
<circle cx="244.9" cy="696.8" r="1.5" fill-opacity="0.62"/>
<circle cx="246.6" cy="697.4" r="2.1" fill-opacity="0.95"/>
<circle cx="197.5" cy="653.3" r="2.1" fill-opacity="0.93"/>
<circle cx="295.2" cy="692.0" r="2.7" fill-opacity="0.73"/>
<circle cx="281.0" cy="672.5" r="2.2" fill-opacity="0.93"/>
<circle cx="282.6" cy="675.9" r="2.5" fill-opacity="0.87"/>
<circle cx="285.8" cy="671.4" r="2.1" fill-opacity="0.64"/>
<circle cx="267.7" cy="597.6" r="1.5" fill-opacity="0.87"/>
<circle cx="296.4" cy="599.0" r="2.1" fill-opacity="0.66"/>
<circle cx="201.2" cy="611.9" r="1.6" fill-opacity="0.76"/>
<circle cx="198.7" cy="615.2" r="2.7" fill-opacity="0.57"/>
</g>
</g>
</g>
<clipPath id="clip3"><rect x="373.8" y="574.5" width="146.2" height="144"/></clipPath>
<filter id="bl3" x="-10%" y="-10%" width="120%" height="120%"><feGaussianBlur stdDeviation="3.2"/></filter>
<g clip-path="url(#clip3)">
<rect x="373.8" y="574.5" width="146.2" height="144" fill="#d3cbc1"/>
<g filter="url(#bl3)">
<rect x="495.1" y="574.0" width="13.2" height="13.0" fill="#968ec0" fill-opacity="0.00"/>
<rect x="507.3" y="574.0" width="13.2" height="13.0" fill="#968ec0" fill-opacity="0.30"/>
<rect x="373.3" y="586.0" width="13.2" height="13.0" fill="#968ec0" fill-opacity="0.00"/>
<rect x="385.5" y="586.0" width="13.2" height="13.0" fill="#968ec0" fill-opacity="0.00"/>
<rect x="397.7" y="586.0" width="13.2" height="13.0" fill="#968ec0" fill-opacity="0.00"/>
<rect x="434.2" y="586.0" width="13.2" height="13.0" fill="#968ec0" fill-opacity="0.00"/>
<rect x="458.6" y="586.0" width="13.2" height="13.0" fill="#968ec0" fill-opacity="0.00"/>
<rect x="482.9" y="586.0" width="13.2" height="13.0" fill="#968ec0" fill-opacity="0.00"/>
<rect x="495.1" y="586.0" width="13.2" height="13.0" fill="#968ec0" fill-opacity="0.14"/>
<rect x="507.3" y="586.0" width="13.2" height="13.0" fill="#968ec0" fill-opacity="0.63"/>
<rect x="373.3" y="598.0" width="13.2" height="13.0" fill="#968ec0" fill-opacity="0.14"/>
<rect x="385.5" y="598.0" width="13.2" height="13.0" fill="#968ec0" fill-opacity="0.30"/>
<rect x="397.7" y="598.0" width="13.2" height="13.0" fill="#968ec0" fill-opacity="0.30"/>
<rect x="409.9" y="598.0" width="13.2" height="13.0" fill="#968ec0" fill-opacity="0.00"/>
<rect x="422.0" y="598.0" width="13.2" height="13.0" fill="#968ec0" fill-opacity="0.00"/>
<rect x="434.2" y="598.0" width="13.2" height="13.0" fill="#968ec0" fill-opacity="0.14"/>
<rect x="446.4" y="598.0" width="13.2" height="13.0" fill="#968ec0" fill-opacity="0.00"/>
<rect x="458.6" y="598.0" width="13.2" height="13.0" fill="#968ec0" fill-opacity="0.00"/>
<rect x="470.8" y="598.0" width="13.2" height="13.0" fill="#968ec0" fill-opacity="0.00"/>
<rect x="482.9" y="598.0" width="13.2" height="13.0" fill="#968ec0" fill-opacity="0.00"/>
<rect x="495.1" y="598.0" width="13.2" height="13.0" fill="#968ec0" fill-opacity="0.30"/>
<rect x="507.3" y="598.0" width="13.2" height="13.0" fill="#968ec0" fill-opacity="0.79"/>
<rect x="373.3" y="610.0" width="13.2" height="13.0" fill="#968ec0" fill-opacity="0.30"/>
<rect x="385.5" y="610.0" width="13.2" height="13.0" fill="#968ec0" fill-opacity="0.46"/>
<rect x="397.7" y="610.0" width="13.2" height="13.0" fill="#968ec0" fill-opacity="0.30"/>
<rect x="409.9" y="610.0" width="13.2" height="13.0" fill="#968ec0" fill-opacity="0.00"/>
<rect x="422.0" y="610.0" width="13.2" height="13.0" fill="#968ec0" fill-opacity="0.30"/>
<rect x="434.2" y="610.0" width="13.2" height="13.0" fill="#968ec0" fill-opacity="0.14"/>
<rect x="446.4" y="610.0" width="13.2" height="13.0" fill="#968ec0" fill-opacity="0.00"/>
<rect x="458.6" y="610.0" width="13.2" height="13.0" fill="#968ec0" fill-opacity="0.00"/>
<rect x="470.8" y="610.0" width="13.2" height="13.0" fill="#968ec0" fill-opacity="0.00"/>
<rect x="482.9" y="610.0" width="13.2" height="13.0" fill="#968ec0" fill-opacity="0.00"/>
<rect x="495.1" y="610.0" width="13.2" height="13.0" fill="#968ec0" fill-opacity="0.30"/>
<rect x="507.3" y="610.0" width="13.2" height="13.0" fill="#968ec0" fill-opacity="0.63"/>
<rect x="373.3" y="622.0" width="13.2" height="13.0" fill="#968ec0" fill-opacity="0.46"/>
<rect x="385.5" y="622.0" width="13.2" height="13.0" fill="#968ec0" fill-opacity="0.63"/>
<rect x="397.7" y="622.0" width="13.2" height="13.0" fill="#968ec0" fill-opacity="0.46"/>
<rect x="409.9" y="622.0" width="13.2" height="13.0" fill="#968ec0" fill-opacity="0.14"/>
<rect x="422.0" y="622.0" width="13.2" height="13.0" fill="#968ec0" fill-opacity="0.00"/>
<rect x="434.2" y="622.0" width="13.2" height="13.0" fill="#968ec0" fill-opacity="0.00"/>
<rect x="458.6" y="622.0" width="13.2" height="13.0" fill="#968ec0" fill-opacity="0.00"/>
<rect x="482.9" y="622.0" width="13.2" height="13.0" fill="#968ec0" fill-opacity="0.00"/>
<rect x="495.1" y="622.0" width="13.2" height="13.0" fill="#968ec0" fill-opacity="0.46"/>
<rect x="507.3" y="622.0" width="13.2" height="13.0" fill="#968ec0" fill-opacity="0.63"/>
<rect x="373.3" y="634.0" width="13.2" height="13.0" fill="#968ec0" fill-opacity="0.63"/>
<rect x="385.5" y="634.0" width="13.2" height="13.0" fill="#968ec0" fill-opacity="0.63"/>
<rect x="397.7" y="634.0" width="13.2" height="13.0" fill="#968ec0" fill-opacity="0.46"/>
<rect x="409.9" y="634.0" width="13.2" height="13.0" fill="#968ec0" fill-opacity="0.30"/>
<rect x="422.0" y="634.0" width="13.2" height="13.0" fill="#968ec0" fill-opacity="0.00"/>
<rect x="434.2" y="634.0" width="13.2" height="13.0" fill="#968ec0" fill-opacity="0.00"/>
<rect x="458.6" y="634.0" width="13.2" height="13.0" fill="#968ec0" fill-opacity="0.00"/>
<rect x="482.9" y="634.0" width="13.2" height="13.0" fill="#968ec0" fill-opacity="0.14"/>
<rect x="495.1" y="634.0" width="13.2" height="13.0" fill="#968ec0" fill-opacity="0.63"/>
<rect x="507.3" y="634.0" width="13.2" height="13.0" fill="#968ec0" fill-opacity="0.63"/>
<rect x="373.3" y="646.0" width="13.2" height="13.0" fill="#968ec0" fill-opacity="0.63"/>
<rect x="385.5" y="646.0" width="13.2" height="13.0" fill="#968ec0" fill-opacity="0.63"/>
<rect x="397.7" y="646.0" width="13.2" height="13.0" fill="#968ec0" fill-opacity="0.46"/>
<rect x="409.9" y="646.0" width="13.2" height="13.0" fill="#968ec0" fill-opacity="0.46"/>
<rect x="422.0" y="646.0" width="13.2" height="13.0" fill="#968ec0" fill-opacity="0.30"/>
<rect x="434.2" y="646.0" width="13.2" height="13.0" fill="#968ec0" fill-opacity="0.00"/>
<rect x="446.4" y="646.0" width="13.2" height="13.0" fill="#968ec0" fill-opacity="0.00"/>
<rect x="470.8" y="646.0" width="13.2" height="13.0" fill="#968ec0" fill-opacity="0.00"/>
<rect x="482.9" y="646.0" width="13.2" height="13.0" fill="#968ec0" fill-opacity="0.30"/>
<rect x="495.1" y="646.0" width="13.2" height="13.0" fill="#968ec0" fill-opacity="0.63"/>
<rect x="507.3" y="646.0" width="13.2" height="13.0" fill="#968ec0" fill-opacity="0.63"/>
<rect x="373.3" y="658.0" width="13.2" height="13.0" fill="#968ec0" fill-opacity="0.63"/>
<rect x="385.5" y="658.0" width="13.2" height="13.0" fill="#968ec0" fill-opacity="0.63"/>
<rect x="397.7" y="658.0" width="13.2" height="13.0" fill="#968ec0" fill-opacity="0.63"/>
<rect x="409.9" y="658.0" width="13.2" height="13.0" fill="#968ec0" fill-opacity="0.46"/>
<rect x="422.0" y="658.0" width="13.2" height="13.0" fill="#968ec0" fill-opacity="0.30"/>
<rect x="434.2" y="658.0" width="13.2" height="13.0" fill="#968ec0" fill-opacity="0.14"/>
<rect x="446.4" y="658.0" width="13.2" height="13.0" fill="#968ec0" fill-opacity="0.14"/>
<rect x="458.6" y="658.0" width="13.2" height="13.0" fill="#968ec0" fill-opacity="0.00"/>
<rect x="470.8" y="658.0" width="13.2" height="13.0" fill="#968ec0" fill-opacity="0.14"/>
<rect x="482.9" y="658.0" width="13.2" height="13.0" fill="#968ec0" fill-opacity="0.30"/>
<rect x="495.1" y="658.0" width="13.2" height="13.0" fill="#968ec0" fill-opacity="0.46"/>
<rect x="507.3" y="658.0" width="13.2" height="13.0" fill="#968ec0" fill-opacity="0.63"/>
<rect x="373.3" y="670.0" width="13.2" height="13.0" fill="#968ec0" fill-opacity="0.79"/>
<rect x="385.5" y="670.0" width="13.2" height="13.0" fill="#968ec0" fill-opacity="0.63"/>
<rect x="397.7" y="670.0" width="13.2" height="13.0" fill="#968ec0" fill-opacity="0.63"/>
<rect x="409.9" y="670.0" width="13.2" height="13.0" fill="#968ec0" fill-opacity="0.46"/>
<rect x="422.0" y="670.0" width="13.2" height="13.0" fill="#968ec0" fill-opacity="0.30"/>
<rect x="434.2" y="670.0" width="13.2" height="13.0" fill="#968ec0" fill-opacity="0.00"/>
<rect x="446.4" y="670.0" width="13.2" height="13.0" fill="#968ec0" fill-opacity="0.00"/>
<rect x="458.6" y="670.0" width="13.2" height="13.0" fill="#968ec0" fill-opacity="0.14"/>
<rect x="470.8" y="670.0" width="13.2" height="13.0" fill="#968ec0" fill-opacity="0.30"/>
<rect x="482.9" y="670.0" width="13.2" height="13.0" fill="#968ec0" fill-opacity="0.30"/>
<rect x="495.1" y="670.0" width="13.2" height="13.0" fill="#968ec0" fill-opacity="0.46"/>
<rect x="507.3" y="670.0" width="13.2" height="13.0" fill="#968ec0" fill-opacity="0.30"/>
<rect x="373.3" y="682.0" width="13.2" height="13.0" fill="#968ec0" fill-opacity="0.63"/>
<rect x="385.5" y="682.0" width="13.2" height="13.0" fill="#968ec0" fill-opacity="0.63"/>
<rect x="397.7" y="682.0" width="13.2" height="13.0" fill="#968ec0" fill-opacity="0.46"/>
<rect x="409.9" y="682.0" width="13.2" height="13.0" fill="#968ec0" fill-opacity="0.30"/>
<rect x="422.0" y="682.0" width="13.2" height="13.0" fill="#968ec0" fill-opacity="0.14"/>
<rect x="434.2" y="682.0" width="13.2" height="13.0" fill="#968ec0" fill-opacity="0.00"/>
<rect x="446.4" y="682.0" width="13.2" height="13.0" fill="#968ec0" fill-opacity="0.30"/>
<rect x="458.6" y="682.0" width="13.2" height="13.0" fill="#968ec0" fill-opacity="0.30"/>
<rect x="470.8" y="682.0" width="13.2" height="13.0" fill="#968ec0" fill-opacity="0.46"/>
<rect x="482.9" y="682.0" width="13.2" height="13.0" fill="#968ec0" fill-opacity="0.63"/>
<rect x="495.1" y="682.0" width="13.2" height="13.0" fill="#968ec0" fill-opacity="0.30"/>
<rect x="507.3" y="682.0" width="13.2" height="13.0" fill="#968ec0" fill-opacity="0.14"/>
<rect x="373.3" y="694.0" width="13.2" height="13.0" fill="#968ec0" fill-opacity="0.63"/>
<rect x="385.5" y="694.0" width="13.2" height="13.0" fill="#968ec0" fill-opacity="0.46"/>
<rect x="397.7" y="694.0" width="13.2" height="13.0" fill="#968ec0" fill-opacity="0.46"/>
<rect x="409.9" y="694.0" width="13.2" height="13.0" fill="#968ec0" fill-opacity="0.46"/>
<rect x="422.0" y="694.0" width="13.2" height="13.0" fill="#968ec0" fill-opacity="0.46"/>
<rect x="434.2" y="694.0" width="13.2" height="13.0" fill="#968ec0" fill-opacity="0.46"/>
<rect x="446.4" y="694.0" width="13.2" height="13.0" fill="#968ec0" fill-opacity="0.46"/>
<rect x="458.6" y="694.0" width="13.2" height="13.0" fill="#968ec0" fill-opacity="0.46"/>
<rect x="470.8" y="694.0" width="13.2" height="13.0" fill="#968ec0" fill-opacity="0.46"/>
<rect x="482.9" y="694.0" width="13.2" height="13.0" fill="#968ec0" fill-opacity="0.46"/>
<rect x="495.1" y="694.0" width="13.2" height="13.0" fill="#968ec0" fill-opacity="0.30"/>
<rect x="507.3" y="694.0" width="13.2" height="13.0" fill="#968ec0" fill-opacity="0.30"/>
<rect x="373.3" y="706.0" width="13.2" height="13.0" fill="#968ec0" fill-opacity="0.46"/>
<rect x="385.5" y="706.0" width="13.2" height="13.0" fill="#968ec0" fill-opacity="0.46"/>
<rect x="397.7" y="706.0" width="13.2" height="13.0" fill="#968ec0" fill-opacity="0.46"/>
<rect x="409.9" y="706.0" width="13.2" height="13.0" fill="#968ec0" fill-opacity="0.30"/>
<rect x="422.0" y="706.0" width="13.2" height="13.0" fill="#968ec0" fill-opacity="0.46"/>
<rect x="434.2" y="706.0" width="13.2" height="13.0" fill="#968ec0" fill-opacity="0.46"/>
<rect x="446.4" y="706.0" width="13.2" height="13.0" fill="#968ec0" fill-opacity="0.30"/>
<rect x="458.6" y="706.0" width="13.2" height="13.0" fill="#968ec0" fill-opacity="0.30"/>
<rect x="470.8" y="706.0" width="13.2" height="13.0" fill="#968ec0" fill-opacity="0.46"/>
<rect x="482.9" y="706.0" width="13.2" height="13.0" fill="#968ec0" fill-opacity="0.46"/>
<rect x="495.1" y="706.0" width="13.2" height="13.0" fill="#968ec0" fill-opacity="0.46"/>
<rect x="507.3" y="706.0" width="13.2" height="13.0" fill="#968ec0" fill-opacity="0.30"/>
<rect x="507.8" y="574.5" width="12.2" height="12.0" fill="#6a5ab0" fill-opacity="0.50"/>
<rect x="507.8" y="586.5" width="12.2" height="12.0" fill="#6a5ab0" fill-opacity="0.25"/>
<rect x="495.6" y="598.5" width="12.2" height="12.0" fill="#6a5ab0" fill-opacity="0.25"/>
<rect x="507.8" y="598.5" width="12.2" height="12.0" fill="#6a5ab0" fill-opacity="0.25"/>
<rect x="386.0" y="610.5" width="12.2" height="12.0" fill="#6a5ab0" fill-opacity="0.25"/>
<rect x="507.8" y="610.5" width="12.2" height="12.0" fill="#6a5ab0" fill-opacity="0.25"/>
<rect x="386.0" y="622.5" width="12.2" height="12.0" fill="#6a5ab0" fill-opacity="0.25"/>
<rect x="398.2" y="658.5" width="12.2" height="12.0" fill="#6a5ab0" fill-opacity="0.25"/>
<rect x="495.6" y="658.5" width="12.2" height="12.0" fill="#6a5ab0" fill-opacity="0.25"/>
<rect x="386.0" y="670.5" width="12.2" height="12.0" fill="#6a5ab0" fill-opacity="0.25"/>
<rect x="495.6" y="670.5" width="12.2" height="12.0" fill="#6a5ab0" fill-opacity="0.25"/>
<rect x="483.4" y="682.5" width="12.2" height="12.0" fill="#6a5ab0" fill-opacity="0.25"/>
<rect x="471.3" y="694.5" width="12.2" height="12.0" fill="#6a5ab0" fill-opacity="0.25"/>
<ellipse cx="442" cy="648" rx="14" ry="9" fill="#d4aec0" fill-opacity="0.45"/><ellipse cx="455" cy="683" rx="13" ry="6" fill="#d4aec0" fill-opacity="0.4"/><ellipse cx="515" cy="688" rx="8" ry="9" fill="#d4aec0" fill-opacity="0.4"/><ellipse cx="400" cy="680" rx="10" ry="8" fill="#d8b0c8" fill-opacity="0.4"/>
</g>
<filter id="sf3"><feGaussianBlur stdDeviation="0.3"/></filter>
<g filter="url(#sf3)">
<radialGradient id="rg3"><stop offset="0" stop-color="#d0cce0"/><stop offset="0.5" stop-color="#a8a2cc"/><stop offset="1" stop-color="#a8a2cc"/></radialGradient>
<g fill="url(#rg3)" stroke="#7a70ac">
<ellipse cx="406.8" cy="718.4" rx="2.1" ry="2.5" transform="rotate(160 406.8 718.4)" stroke-width="1.3" stroke-opacity="0.71"/>
<circle cx="375.0" cy="636.1" r="2.2" stroke-width="1.5" stroke-opacity="0.72"/>
<circle cx="402.0" cy="599.2" r="2.8" stroke-width="1.6" stroke-opacity="0.68"/>
<circle cx="386.0" cy="660.9" r="4.9" fill="#9a92c8" stroke="none" fill-opacity="0.63"/>
<circle cx="373.9" cy="670.6" r="2.1" stroke-width="1.3" stroke-opacity="0.87"/>
<circle cx="420.1" cy="712.9" r="2.2" stroke-width="1.3" stroke-opacity="0.66"/>
<ellipse cx="495.3" cy="684.9" rx="3.2" ry="2.8" transform="rotate(112 495.3 684.9)" stroke-width="1.5" stroke-opacity="0.80"/>
<circle cx="429.2" cy="711.9" r="2.3" stroke-width="1.2" stroke-opacity="0.75"/>
<circle cx="399.0" cy="711.3" r="2.6" stroke-width="1.3" stroke-opacity="0.70"/>
<circle cx="515.8" cy="585.2" r="2.5" stroke-width="1.2" stroke-opacity="0.87"/>
<circle cx="419.6" cy="691.6" r="4.0" fill="#9a92c8" stroke="none" fill-opacity="0.82"/>
<circle cx="519.4" cy="632.1" r="2.5" stroke-width="1.6" stroke-opacity="0.72"/>
<circle cx="472.5" cy="704.4" r="4.8" fill="#9a92c8" stroke="none" fill-opacity="0.66"/>
<circle cx="487.1" cy="689.5" r="2.0" stroke-width="1.2" stroke-opacity="0.81"/>
<ellipse cx="400.6" cy="612.8" rx="2.6" ry="3.2" transform="rotate(157 400.6 612.8)" stroke-width="1.6" stroke-opacity="0.64"/>
<circle cx="472.0" cy="679.8" r="3.2" stroke-width="1.4" stroke-opacity="0.67"/>
<circle cx="496.4" cy="682.5" r="2.3" stroke-width="1.4" stroke-opacity="0.82"/>
<ellipse cx="410.6" cy="669.5" rx="2.9" ry="3.5" transform="rotate(162 410.6 669.5)" stroke-width="1.4" stroke-opacity="0.64"/>
<ellipse cx="510.9" cy="637.4" rx="1.9" ry="2.3" transform="rotate(56 510.9 637.4)" stroke-width="1.4" stroke-opacity="0.79"/>
<circle cx="509.7" cy="625.1" r="3.3" fill="#9a92c8" stroke="none" fill-opacity="0.66"/>
<ellipse cx="383.9" cy="698.0" rx="2.7" ry="2.3" transform="rotate(3 383.9 698.0)" stroke-width="1.6" stroke-opacity="0.83"/>
<ellipse cx="505.4" cy="684.6" rx="2.2" ry="2.8" transform="rotate(21 505.4 684.6)" stroke-width="1.5" stroke-opacity="0.87"/>
<circle cx="487.6" cy="663.0" r="2.1" stroke-width="1.3" stroke-opacity="0.69"/>
<circle cx="407.6" cy="679.5" r="2.7" stroke-width="1.6" stroke-opacity="0.93"/>
<ellipse cx="491.2" cy="685.4" rx="2.8" ry="2.4" transform="rotate(159 491.2 685.4)" stroke-width="1.4" stroke-opacity="0.75"/>
<circle cx="481.7" cy="713.4" r="4.9" fill="#9a92c8" stroke="none" fill-opacity="0.79"/>
<ellipse cx="392.3" cy="714.7" rx="2.7" ry="2.3" transform="rotate(163 392.3 714.7)" stroke-width="1.1" stroke-opacity="0.72"/>
<ellipse cx="388.2" cy="599.8" rx="2.1" ry="2.5" transform="rotate(24 388.2 599.8)" stroke-width="1.5" stroke-opacity="0.65"/>
<ellipse cx="408.2" cy="703.7" rx="2.3" ry="2.0" transform="rotate(176 408.2 703.7)" stroke-width="1.6" stroke-opacity="0.93"/>
<ellipse cx="491.1" cy="692.0" rx="2.2" ry="2.7" transform="rotate(83 491.1 692.0)" stroke-width="1.4" stroke-opacity="0.87"/>
<ellipse cx="457.5" cy="694.9" rx="2.4" ry="2.9" transform="rotate(20 457.5 694.9)" stroke-width="1.1" stroke-opacity="0.86"/>
<circle cx="412.0" cy="682.4" r="2.0" stroke-width="1.2" stroke-opacity="0.61"/>
<circle cx="497.9" cy="666.3" r="2.0" stroke-width="1.7" stroke-opacity="0.62"/>
<ellipse cx="398.6" cy="691.6" rx="1.9" ry="2.3" transform="rotate(92 398.6 691.6)" stroke-width="1.5" stroke-opacity="0.63"/>
<circle cx="506.4" cy="627.7" r="2.1" stroke-width="1.4" stroke-opacity="0.68"/>
<circle cx="454.1" cy="692.5" r="3.0" stroke-width="1.2" stroke-opacity="0.61"/>
<ellipse cx="391.3" cy="674.3" rx="2.0" ry="2.5" transform="rotate(12 391.3 674.3)" stroke-width="1.7" stroke-opacity="0.91"/>
<ellipse cx="380.2" cy="645.3" rx="3.4" ry="3.0" transform="rotate(161 380.2 645.3)" stroke-width="1.2" stroke-opacity="0.95"/>
<circle cx="504.7" cy="651.1" r="2.7" stroke-width="1.6" stroke-opacity="0.64"/>
<ellipse cx="444.2" cy="687.5" rx="2.5" ry="2.0" transform="rotate(119 444.2 687.5)" stroke-width="1.2" stroke-opacity="0.87"/>
<ellipse cx="384.2" cy="680.3" rx="2.3" ry="1.9" transform="rotate(50 384.2 680.3)" stroke-width="1.6" stroke-opacity="0.66"/>
<circle cx="516.1" cy="587.9" r="2.7" fill="#9a92c8" stroke="none" fill-opacity="0.80"/>
<ellipse cx="518.9" cy="576.7" rx="2.9" ry="3.2" transform="rotate(136 518.9 576.7)" stroke-width="1.3" stroke-opacity="0.85"/>
<ellipse cx="419.6" cy="646.6" rx="1.9" ry="2.3" transform="rotate(57 419.6 646.6)" stroke-width="1.3" stroke-opacity="0.79"/>
<circle cx="377.1" cy="598.6" r="2.9" stroke-width="1.4" stroke-opacity="0.72"/>
<circle cx="388.0" cy="711.5" r="2.2" stroke-width="1.1" stroke-opacity="0.73"/>
<ellipse cx="394.8" cy="625.2" rx="2.7" ry="2.3" transform="rotate(37 394.8 625.2)" stroke-width="1.6" stroke-opacity="0.84"/>
<circle cx="401.6" cy="640.0" r="2.0" stroke-width="1.3" stroke-opacity="0.75"/>
<circle cx="514.5" cy="643.4" r="2.8" stroke-width="1.1" stroke-opacity="0.83"/>
<circle cx="506.5" cy="606.9" r="2.1" stroke-width="1.3" stroke-opacity="0.92"/>
<circle cx="421.1" cy="676.3" r="3.2" stroke-width="1.7" stroke-opacity="0.84"/>
<circle cx="500.2" cy="682.0" r="2.0" stroke-width="1.2" stroke-opacity="0.72"/>
<circle cx="403.4" cy="663.2" r="2.4" stroke-width="1.7" stroke-opacity="0.90"/>
<circle cx="508.5" cy="598.3" r="2.4" stroke-width="1.5" stroke-opacity="0.86"/>
<ellipse cx="407.6" cy="687.1" rx="2.0" ry="2.4" transform="rotate(167 407.6 687.1)" stroke-width="1.4" stroke-opacity="0.68"/>
<ellipse cx="381.7" cy="706.8" rx="3.2" ry="2.8" transform="rotate(90 381.7 706.8)" stroke-width="1.1" stroke-opacity="0.82"/>
<ellipse cx="421.8" cy="694.0" rx="2.5" ry="2.2" transform="rotate(36 421.8 694.0)" stroke-width="1.2" stroke-opacity="0.82"/>
<ellipse cx="402.4" cy="623.9" rx="2.1" ry="2.6" transform="rotate(117 402.4 623.9)" stroke-width="1.2" stroke-opacity="0.79"/>
<ellipse cx="487.9" cy="676.5" rx="3.3" ry="2.7" transform="rotate(34 487.9 676.5)" stroke-width="1.7" stroke-opacity="0.86"/>
<ellipse cx="449.2" cy="709.8" rx="2.5" ry="3.1" transform="rotate(8 449.2 709.8)" stroke-width="1.6" stroke-opacity="0.95"/>
<ellipse cx="518.9" cy="654.8" rx="2.6" ry="3.0" transform="rotate(91 518.9 654.8)" stroke-width="1.7" stroke-opacity="0.82"/>
<circle cx="392.5" cy="653.5" r="3.1" stroke-width="1.3" stroke-opacity="0.94"/>
<circle cx="510.1" cy="607.0" r="2.2" stroke-width="1.1" stroke-opacity="0.81"/>
<circle cx="405.0" cy="682.2" r="2.7" stroke-width="1.5" stroke-opacity="0.95"/>
<circle cx="442.8" cy="647.5" r="2.1" stroke-width="1.6" stroke-opacity="0.87"/>
<circle cx="476.2" cy="705.3" r="3.0" stroke-width="1.2" stroke-opacity="0.83"/>
<circle cx="401.1" cy="670.4" r="2.9" stroke-width="1.4" stroke-opacity="0.73"/>
<circle cx="394.4" cy="662.8" r="2.8" stroke-width="1.4" stroke-opacity="0.75"/>
<circle cx="377.9" cy="685.7" r="2.4" stroke-width="1.3" stroke-opacity="0.65"/>
<ellipse cx="386.8" cy="690.8" rx="3.0" ry="2.6" transform="rotate(73 386.8 690.8)" stroke-width="1.3" stroke-opacity="0.73"/>
<circle cx="390.4" cy="625.5" r="2.2" stroke-width="1.3" stroke-opacity="0.85"/>
<circle cx="376.6" cy="702.3" r="3.1" stroke-width="1.5" stroke-opacity="0.79"/>
<circle cx="513.9" cy="650.0" r="3.2" stroke-width="1.2" stroke-opacity="0.90"/>
<circle cx="495.8" cy="610.6" r="3.1" stroke-width="1.3" stroke-opacity="0.67"/>
<circle cx="409.8" cy="626.5" r="2.7" stroke-width="1.5" stroke-opacity="0.64"/>
<ellipse cx="393.2" cy="647.3" rx="2.6" ry="2.3" transform="rotate(98 393.2 647.3)" stroke-width="1.2" stroke-opacity="0.79"/>
<ellipse cx="393.2" cy="650.2" rx="2.8" ry="2.4" transform="rotate(136 393.2 650.2)" stroke-width="1.1" stroke-opacity="0.89"/>
<ellipse cx="512.2" cy="649.0" rx="2.4" ry="2.7" transform="rotate(47 512.2 649.0)" stroke-width="1.3" stroke-opacity="0.88"/>
<ellipse cx="428.1" cy="604.2" rx="2.6" ry="3.0" transform="rotate(145 428.1 604.2)" stroke-width="1.3" stroke-opacity="0.85"/>
<ellipse cx="376.9" cy="717.6" rx="2.0" ry="2.6" transform="rotate(87 376.9 717.6)" stroke-width="1.4" stroke-opacity="0.67"/>
<ellipse cx="508.2" cy="624.5" rx="2.7" ry="3.1" transform="rotate(123 508.2 624.5)" stroke-width="1.2" stroke-opacity="0.82"/>
<circle cx="387.9" cy="706.1" r="3.4" fill="#9a92c8" stroke="none" fill-opacity="0.67"/>
<circle cx="385.0" cy="681.2" r="3.0" stroke-width="1.6" stroke-opacity="0.89"/>
<circle cx="421.7" cy="645.0" r="4.9" fill="#9a92c8" stroke="none" fill-opacity="0.73"/>
<circle cx="392.0" cy="640.6" r="4.4" fill="#9a92c8" stroke="none" fill-opacity="0.73"/>
<circle cx="409.0" cy="673.8" r="2.2" stroke-width="1.7" stroke-opacity="0.63"/>
<ellipse cx="379.9" cy="714.5" rx="3.2" ry="2.8" transform="rotate(21 379.9 714.5)" stroke-width="1.4" stroke-opacity="0.68"/>
<circle cx="414.8" cy="669.1" r="3.0" stroke-width="1.6" stroke-opacity="0.64"/>
<ellipse cx="505.2" cy="645.3" rx="2.6" ry="2.1" transform="rotate(162 505.2 645.3)" stroke-width="1.5" stroke-opacity="0.64"/>
<ellipse cx="445.3" cy="645.7" rx="2.6" ry="3.2" transform="rotate(7 445.3 645.7)" stroke-width="1.1" stroke-opacity="0.78"/>
<circle cx="507.2" cy="701.9" r="3.0" stroke-width="1.3" stroke-opacity="0.76"/>
<circle cx="422.4" cy="679.9" r="3.1" fill="#9a92c8" stroke="none" fill-opacity="0.77"/>
<ellipse cx="512.5" cy="677.2" rx="2.4" ry="2.0" transform="rotate(168 512.5 677.2)" stroke-width="1.3" stroke-opacity="0.62"/>
<circle cx="513.4" cy="694.0" r="2.1" stroke-width="1.4" stroke-opacity="0.74"/>
<ellipse cx="383.7" cy="675.3" rx="2.4" ry="3.0" transform="rotate(87 383.7 675.3)" stroke-width="1.4" stroke-opacity="0.75"/>
<circle cx="393.9" cy="717.3" r="3.2" fill="#9a92c8" stroke="none" fill-opacity="0.72"/>
<circle cx="399.3" cy="613.7" r="2.1" stroke-width="1.6" stroke-opacity="0.72"/>
<circle cx="438.1" cy="697.1" r="2.7" fill="#9a92c8" stroke="none" fill-opacity="0.52"/>
<circle cx="410.7" cy="679.9" r="2.4" stroke-width="1.5" stroke-opacity="0.75"/>
<circle cx="399.8" cy="675.7" r="2.9" stroke-width="1.2" stroke-opacity="0.85"/>
<circle cx="420.1" cy="636.8" r="4.3" fill="#9a92c8" stroke="none" fill-opacity="0.60"/>
<ellipse cx="408.6" cy="638.1" rx="3.5" ry="2.8" transform="rotate(159 408.6 638.1)" stroke-width="1.5" stroke-opacity="0.79"/>
<circle cx="442.8" cy="709.7" r="2.3" stroke-width="1.4" stroke-opacity="0.64"/>
<circle cx="444.6" cy="713.3" r="2.4" stroke-width="1.4" stroke-opacity="0.87"/>
<ellipse cx="512.7" cy="608.1" rx="2.7" ry="2.3" transform="rotate(80 512.7 608.1)" stroke-width="1.3" stroke-opacity="0.84"/>
<circle cx="391.9" cy="681.1" r="2.7" stroke-width="1.5" stroke-opacity="0.91"/>
<ellipse cx="453.9" cy="701.6" rx="3.3" ry="2.7" transform="rotate(19 453.9 701.6)" stroke-width="1.6" stroke-opacity="0.72"/>
<circle cx="381.6" cy="625.3" r="2.4" stroke-width="1.3" stroke-opacity="0.93"/>
<circle cx="414.4" cy="660.5" r="3.6" fill="#9a92c8" stroke="none" fill-opacity="0.77"/>
<circle cx="490.1" cy="603.8" r="2.0" stroke-width="1.6" stroke-opacity="0.82"/>
<ellipse cx="440.3" cy="676.0" rx="3.2" ry="2.8" transform="rotate(39 440.3 676.0)" stroke-width="1.6" stroke-opacity="0.91"/>
<ellipse cx="515.6" cy="692.7" rx="2.1" ry="2.5" transform="rotate(125 515.6 692.7)" stroke-width="1.7" stroke-opacity="0.94"/>
<ellipse cx="492.5" cy="620.9" rx="3.3" ry="2.8" transform="rotate(163 492.5 620.9)" stroke-width="1.7" stroke-opacity="0.72"/>
<circle cx="430.8" cy="610.6" r="2.5" stroke-width="1.6" stroke-opacity="0.78"/>
<ellipse cx="401.7" cy="648.5" rx="1.9" ry="2.4" transform="rotate(65 401.7 648.5)" stroke-width="1.5" stroke-opacity="0.63"/>
<circle cx="493.5" cy="686.9" r="2.1" stroke-width="1.5" stroke-opacity="0.78"/>
<circle cx="492.0" cy="686.2" r="2.0" stroke-width="1.7" stroke-opacity="0.65"/>
<circle cx="474.0" cy="685.7" r="4.9" fill="#9a92c8" stroke="none" fill-opacity="0.62"/>
<circle cx="427.8" cy="686.5" r="2.8" stroke-width="1.2" stroke-opacity="0.62"/>
<ellipse cx="401.3" cy="638.2" rx="2.5" ry="2.2" transform="rotate(178 401.3 638.2)" stroke-width="1.5" stroke-opacity="0.65"/>
<ellipse cx="505.4" cy="650.9" rx="2.7" ry="3.3" transform="rotate(130 505.4 650.9)" stroke-width="1.2" stroke-opacity="0.81"/>
<circle cx="509.0" cy="631.7" r="3.2" stroke-width="1.6" stroke-opacity="0.94"/>
<circle cx="385.5" cy="655.1" r="2.4" stroke-width="1.2" stroke-opacity="0.69"/>
<circle cx="395.7" cy="689.6" r="2.5" stroke-width="1.5" stroke-opacity="0.60"/>
<circle cx="432.1" cy="693.8" r="2.8" stroke-width="1.2" stroke-opacity="0.88"/>
<circle cx="505.5" cy="625.9" r="3.9" fill="#9a92c8" stroke="none" fill-opacity="0.80"/>
<circle cx="397.3" cy="620.9" r="3.0" stroke-width="1.6" stroke-opacity="0.83"/>
<ellipse cx="458.0" cy="684.2" rx="2.6" ry="2.2" transform="rotate(154 458.0 684.2)" stroke-width="1.2" stroke-opacity="0.90"/>
<circle cx="379.2" cy="681.4" r="2.5" stroke-width="1.6" stroke-opacity="0.73"/>
<ellipse cx="432.6" cy="637.4" rx="2.2" ry="2.6" transform="rotate(75 432.6 637.4)" stroke-width="1.6" stroke-opacity="0.73"/>
<circle cx="469.2" cy="695.2" r="2.6" stroke-width="1.3" stroke-opacity="0.74"/>
<circle cx="390.6" cy="625.9" r="3.2" stroke-width="1.4" stroke-opacity="0.91"/>
<ellipse cx="411.2" cy="621.6" rx="2.2" ry="2.9" transform="rotate(11 411.2 621.6)" stroke-width="1.3" stroke-opacity="0.75"/>
<circle cx="469.8" cy="700.8" r="2.0" stroke-width="1.7" stroke-opacity="0.94"/>
<circle cx="393.6" cy="619.2" r="2.1" stroke-width="1.5" stroke-opacity="0.62"/>
<circle cx="418.5" cy="716.4" r="2.3" stroke-width="1.7" stroke-opacity="0.76"/>
<circle cx="385.0" cy="685.8" r="2.9" stroke-width="1.6" stroke-opacity="0.71"/>
<ellipse cx="472.6" cy="614.9" rx="2.2" ry="2.6" transform="rotate(23 472.6 614.9)" stroke-width="1.2" stroke-opacity="0.69"/>
<ellipse cx="516.2" cy="659.5" rx="2.6" ry="3.1" transform="rotate(119 516.2 659.5)" stroke-width="1.6" stroke-opacity="0.64"/>
<ellipse cx="491.0" cy="659.9" rx="2.7" ry="3.2" transform="rotate(45 491.0 659.9)" stroke-width="1.6" stroke-opacity="0.80"/>
<circle cx="492.8" cy="653.1" r="2.4" stroke-width="1.3" stroke-opacity="0.66"/>
<circle cx="407.8" cy="716.2" r="2.3" stroke-width="1.1" stroke-opacity="0.74"/>
<ellipse cx="513.5" cy="603.6" rx="2.1" ry="2.5" transform="rotate(122 513.5 603.6)" stroke-width="1.7" stroke-opacity="0.72"/>
<circle cx="400.0" cy="599.9" r="2.5" stroke-width="1.1" stroke-opacity="0.83"/>
<circle cx="509.4" cy="614.5" r="2.8" stroke-width="1.4" stroke-opacity="0.64"/>
<circle cx="389.5" cy="702.6" r="2.7" stroke-width="1.7" stroke-opacity="0.74"/>
<circle cx="503.1" cy="598.9" r="2.8" stroke-width="1.5" stroke-opacity="0.94"/>
<circle cx="389.7" cy="632.5" r="2.9" stroke-width="1.3" stroke-opacity="0.76"/>
<ellipse cx="409.8" cy="710.5" rx="3.3" ry="2.7" transform="rotate(68 409.8 710.5)" stroke-width="1.4" stroke-opacity="0.85"/>
<ellipse cx="380.8" cy="713.9" rx="2.6" ry="2.3" transform="rotate(150 380.8 713.9)" stroke-width="1.4" stroke-opacity="0.95"/>
<ellipse cx="497.6" cy="604.4" rx="3.2" ry="2.9" transform="rotate(52 497.6 604.4)" stroke-width="1.3" stroke-opacity="0.95"/>
<circle cx="501.4" cy="714.1" r="2.7" stroke-width="1.2" stroke-opacity="0.88"/>
<circle cx="435.2" cy="696.3" r="3.0" stroke-width="1.2" stroke-opacity="0.83"/>
<circle cx="492.9" cy="675.8" r="2.3" stroke-width="1.2" stroke-opacity="0.72"/>
<ellipse cx="422.8" cy="706.5" rx="2.3" ry="1.9" transform="rotate(59 422.8 706.5)" stroke-width="1.3" stroke-opacity="0.88"/>
<circle cx="377.9" cy="648.7" r="2.6" stroke-width="1.4" stroke-opacity="0.67"/>
<circle cx="465.5" cy="681.3" r="2.6" stroke-width="1.3" stroke-opacity="0.93"/>
<circle cx="435.7" cy="663.3" r="2.1" stroke-width="1.6" stroke-opacity="0.81"/>
<ellipse cx="507.9" cy="698.1" rx="3.2" ry="2.7" transform="rotate(172 507.9 698.1)" stroke-width="1.6" stroke-opacity="0.75"/>
<ellipse cx="463.3" cy="709.9" rx="2.7" ry="2.2" transform="rotate(64 463.3 709.9)" stroke-width="1.4" stroke-opacity="0.64"/>
<ellipse cx="401.5" cy="600.9" rx="3.4" ry="2.8" transform="rotate(10 401.5 600.9)" stroke-width="1.2" stroke-opacity="0.61"/>
<ellipse cx="428.8" cy="714.1" rx="2.4" ry="2.1" transform="rotate(19 428.8 714.1)" stroke-width="1.2" stroke-opacity="0.87"/>
<circle cx="501.3" cy="677.5" r="4.8" fill="#9a92c8" stroke="none" fill-opacity="0.61"/>
<circle cx="438.5" cy="697.7" r="4.3" fill="#9a92c8" stroke="none" fill-opacity="0.74"/>
<circle cx="487.8" cy="704.2" r="2.2" stroke-width="1.2" stroke-opacity="0.92"/>
<ellipse cx="386.4" cy="609.0" rx="3.5" ry="2.8" transform="rotate(7 386.4 609.0)" stroke-width="1.6" stroke-opacity="0.78"/>
<ellipse cx="517.8" cy="577.8" rx="2.3" ry="2.9" transform="rotate(62 517.8 577.8)" stroke-width="1.6" stroke-opacity="0.71"/>
<ellipse cx="429.5" cy="622.4" rx="2.3" ry="1.9" transform="rotate(159 429.5 622.4)" stroke-width="1.5" stroke-opacity="0.84"/>
<ellipse cx="381.7" cy="681.9" rx="2.0" ry="2.5" transform="rotate(120 381.7 681.9)" stroke-width="1.4" stroke-opacity="0.66"/>
<ellipse cx="508.6" cy="634.7" rx="3.1" ry="2.4" transform="rotate(114 508.6 634.7)" stroke-width="1.3" stroke-opacity="0.86"/>
<ellipse cx="511.9" cy="616.4" rx="3.1" ry="2.5" transform="rotate(33 511.9 616.4)" stroke-width="1.5" stroke-opacity="0.94"/>
<ellipse cx="513.7" cy="598.7" rx="2.7" ry="3.2" transform="rotate(99 513.7 598.7)" stroke-width="1.6" stroke-opacity="0.73"/>
<ellipse cx="392.2" cy="620.7" rx="1.9" ry="2.4" transform="rotate(54 392.2 620.7)" stroke-width="1.5" stroke-opacity="0.87"/>
<ellipse cx="438.5" cy="599.3" rx="2.9" ry="2.5" transform="rotate(15 438.5 599.3)" stroke-width="1.2" stroke-opacity="0.85"/>
<circle cx="375.5" cy="659.8" r="2.2" stroke-width="1.4" stroke-opacity="0.69"/>
<circle cx="411.9" cy="714.9" r="4.2" fill="#9a92c8" stroke="none" fill-opacity="0.81"/>
<ellipse cx="474.1" cy="707.5" rx="1.9" ry="2.3" transform="rotate(164 474.1 707.5)" stroke-width="1.5" stroke-opacity="0.63"/>
<circle cx="387.1" cy="686.4" r="2.4" stroke-width="1.2" stroke-opacity="0.76"/>
<circle cx="398.7" cy="702.6" r="4.9" fill="#9a92c8" stroke="none" fill-opacity="0.54"/>
<ellipse cx="513.2" cy="627.3" rx="3.0" ry="3.4" transform="rotate(154 513.2 627.3)" stroke-width="1.2" stroke-opacity="0.90"/>
<ellipse cx="395.1" cy="617.5" rx="3.2" ry="2.8" transform="rotate(64 395.1 617.5)" stroke-width="1.5" stroke-opacity="0.79"/>
<circle cx="518.8" cy="639.7" r="2.5" stroke-width="1.5" stroke-opacity="0.64"/>
<circle cx="470.0" cy="713.7" r="2.8" stroke-width="1.1" stroke-opacity="0.79"/>
<ellipse cx="384.3" cy="693.7" rx="2.5" ry="2.2" transform="rotate(53 384.3 693.7)" stroke-width="1.5" stroke-opacity="0.77"/>
<circle cx="388.5" cy="679.8" r="3.2" fill="#9a92c8" stroke="none" fill-opacity="0.74"/>
<ellipse cx="399.8" cy="691.4" rx="2.6" ry="2.2" transform="rotate(57 399.8 691.4)" stroke-width="1.3" stroke-opacity="0.80"/>
<circle cx="395.2" cy="664.4" r="2.6" stroke-width="1.6" stroke-opacity="0.79"/>
<circle cx="426.4" cy="655.6" r="2.4" stroke-width="1.6" stroke-opacity="0.70"/>
<ellipse cx="390.6" cy="664.8" rx="2.3" ry="2.0" transform="rotate(108 390.6 664.8)" stroke-width="1.5" stroke-opacity="0.63"/>
<circle cx="497.0" cy="702.2" r="2.7" fill="#9a92c8" stroke="none" fill-opacity="0.51"/>
<ellipse cx="508.1" cy="681.3" rx="2.8" ry="2.3" transform="rotate(1 508.1 681.3)" stroke-width="1.4" stroke-opacity="0.91"/>
<ellipse cx="416.0" cy="699.7" rx="2.6" ry="3.1" transform="rotate(87 416.0 699.7)" stroke-width="1.5" stroke-opacity="0.94"/>
<ellipse cx="515.6" cy="665.2" rx="2.8" ry="3.5" transform="rotate(89 515.6 665.2)" stroke-width="1.5" stroke-opacity="0.64"/>
<ellipse cx="441.3" cy="607.9" rx="2.2" ry="2.7" transform="rotate(51 441.3 607.9)" stroke-width="1.4" stroke-opacity="0.92"/>
<ellipse cx="410.2" cy="697.2" rx="2.6" ry="2.2" transform="rotate(65 410.2 697.2)" stroke-width="1.5" stroke-opacity="0.94"/>
<ellipse cx="501.9" cy="714.1" rx="3.0" ry="2.4" transform="rotate(107 501.9 714.1)" stroke-width="1.6" stroke-opacity="0.83"/>
<ellipse cx="420.8" cy="703.5" rx="2.0" ry="2.5" transform="rotate(95 420.8 703.5)" stroke-width="1.3" stroke-opacity="0.79"/>
<ellipse cx="489.1" cy="701.6" rx="2.4" ry="2.0" transform="rotate(118 489.1 701.6)" stroke-width="1.5" stroke-opacity="0.83"/>
<ellipse cx="428.4" cy="680.2" rx="3.5" ry="2.9" transform="rotate(152 428.4 680.2)" stroke-width="1.2" stroke-opacity="0.81"/>
<ellipse cx="420.2" cy="696.8" rx="2.7" ry="3.4" transform="rotate(103 420.2 696.8)" stroke-width="1.6" stroke-opacity="0.72"/>
<ellipse cx="503.6" cy="638.7" rx="2.4" ry="2.1" transform="rotate(172 503.6 638.7)" stroke-width="1.2" stroke-opacity="0.74"/>
<ellipse cx="379.5" cy="699.9" rx="2.2" ry="2.8" transform="rotate(73 379.5 699.9)" stroke-width="1.5" stroke-opacity="0.80"/>
<ellipse cx="456.4" cy="667.2" rx="2.7" ry="3.4" transform="rotate(61 456.4 667.2)" stroke-width="1.1" stroke-opacity="0.65"/>
<circle cx="488.3" cy="654.1" r="2.9" stroke-width="1.4" stroke-opacity="0.68"/>
<ellipse cx="407.0" cy="701.8" rx="2.4" ry="2.1" transform="rotate(9 407.0 701.8)" stroke-width="1.5" stroke-opacity="0.70"/>
<circle cx="389.8" cy="690.5" r="3.4" fill="#9a92c8" stroke="none" fill-opacity="0.50"/>
<ellipse cx="392.4" cy="591.8" rx="3.5" ry="2.9" transform="rotate(28 392.4 591.8)" stroke-width="1.3" stroke-opacity="0.76"/>
<circle cx="384.9" cy="661.0" r="2.7" stroke-width="1.3" stroke-opacity="0.85"/>
<circle cx="499.4" cy="659.2" r="2.7" stroke-width="1.4" stroke-opacity="0.70"/>
<circle cx="374.8" cy="651.7" r="2.1" stroke-width="1.5" stroke-opacity="0.72"/>
<circle cx="468.6" cy="599.8" r="2.6" stroke-width="1.3" stroke-opacity="0.89"/>
<ellipse cx="474.4" cy="701.0" rx="2.5" ry="2.0" transform="rotate(37 474.4 701.0)" stroke-width="1.3" stroke-opacity="0.74"/>
<circle cx="379.0" cy="643.6" r="2.7" stroke-width="1.4" stroke-opacity="0.93"/>
<ellipse cx="373.9" cy="683.5" rx="3.2" ry="2.6" transform="rotate(99 373.9 683.5)" stroke-width="1.4" stroke-opacity="0.85"/>
<circle cx="503.9" cy="671.4" r="3.1" stroke-width="1.2" stroke-opacity="0.63"/>
<circle cx="487.2" cy="710.5" r="3.0" stroke-width="1.3" stroke-opacity="0.66"/>
<circle cx="511.3" cy="589.1" r="3.0" stroke-width="1.2" stroke-opacity="0.71"/>
<circle cx="396.9" cy="640.9" r="2.7" stroke-width="1.1" stroke-opacity="0.79"/>
<circle cx="513.3" cy="612.9" r="2.7" stroke-width="1.5" stroke-opacity="0.78"/>
<ellipse cx="410.3" cy="693.5" rx="2.5" ry="3.0" transform="rotate(91 410.3 693.5)" stroke-width="1.5" stroke-opacity="0.64"/>
<circle cx="406.1" cy="663.4" r="2.7" stroke-width="1.1" stroke-opacity="0.75"/>
<circle cx="457.0" cy="712.0" r="2.4" stroke-width="1.2" stroke-opacity="0.65"/>
<circle cx="515.6" cy="657.2" r="2.1" stroke-width="1.4" stroke-opacity="0.77"/>
<circle cx="482.5" cy="668.9" r="2.9" stroke-width="1.4" stroke-opacity="0.80"/>
<ellipse cx="477.1" cy="717.1" rx="2.3" ry="2.9" transform="rotate(96 477.1 717.1)" stroke-width="1.6" stroke-opacity="0.81"/>
<circle cx="431.4" cy="705.6" r="2.2" stroke-width="1.7" stroke-opacity="0.64"/>
<ellipse cx="376.1" cy="675.6" rx="3.4" ry="2.9" transform="rotate(167 376.1 675.6)" stroke-width="1.6" stroke-opacity="0.82"/>
<circle cx="374.3" cy="704.8" r="2.5" stroke-width="1.7" stroke-opacity="0.84"/>
<ellipse cx="489.5" cy="587.1" rx="2.3" ry="2.8" transform="rotate(82 489.5 587.1)" stroke-width="1.5" stroke-opacity="0.64"/>
<circle cx="470.1" cy="704.2" r="2.7" stroke-width="1.2" stroke-opacity="0.60"/>
<ellipse cx="514.9" cy="661.2" rx="2.2" ry="2.6" transform="rotate(12 514.9 661.2)" stroke-width="1.6" stroke-opacity="0.76"/>
<circle cx="375.4" cy="648.6" r="2.7" stroke-width="1.6" stroke-opacity="0.81"/>
<circle cx="386.9" cy="626.5" r="2.6" stroke-width="1.5" stroke-opacity="0.62"/>
<circle cx="514.0" cy="601.6" r="3.6" fill="#9a92c8" stroke="none" fill-opacity="0.61"/>
<circle cx="390.5" cy="650.1" r="3.1" fill="#9a92c8" stroke="none" fill-opacity="0.75"/>
<ellipse cx="408.1" cy="665.2" rx="3.2" ry="2.7" transform="rotate(48 408.1 665.2)" stroke-width="1.5" stroke-opacity="0.89"/>
<ellipse cx="504.0" cy="681.3" rx="2.1" ry="2.4" transform="rotate(133 504.0 681.3)" stroke-width="1.5" stroke-opacity="0.81"/>
<ellipse cx="431.6" cy="671.5" rx="3.0" ry="2.4" transform="rotate(80 431.6 671.5)" stroke-width="1.2" stroke-opacity="0.78"/>
<circle cx="377.3" cy="618.0" r="2.3" stroke-width="1.1" stroke-opacity="0.63"/>
<ellipse cx="398.0" cy="684.5" rx="2.5" ry="3.0" transform="rotate(19 398.0 684.5)" stroke-width="1.6" stroke-opacity="0.93"/>
<ellipse cx="396.4" cy="695.5" rx="2.2" ry="2.9" transform="rotate(48 396.4 695.5)" stroke-width="1.7" stroke-opacity="0.77"/>
<circle cx="518.7" cy="595.5" r="3.1" stroke-width="1.5" stroke-opacity="0.88"/>
<circle cx="408.7" cy="657.6" r="2.2" stroke-width="1.4" stroke-opacity="0.61"/>
<ellipse cx="458.3" cy="670.5" rx="2.7" ry="3.2" transform="rotate(60 458.3 670.5)" stroke-width="1.4" stroke-opacity="0.61"/>
<ellipse cx="410.0" cy="630.2" rx="3.2" ry="2.8" transform="rotate(171 410.0 630.2)" stroke-width="1.5" stroke-opacity="0.71"/>
<circle cx="441.3" cy="716.5" r="3.5" fill="#9a92c8" stroke="none" fill-opacity="0.73"/>
<ellipse cx="405.7" cy="659.7" rx="2.4" ry="1.9" transform="rotate(90 405.7 659.7)" stroke-width="1.5" stroke-opacity="0.68"/>
<circle cx="431.4" cy="672.6" r="2.7" stroke-width="1.6" stroke-opacity="0.65"/>
<circle cx="510.5" cy="701.0" r="3.2" stroke-width="1.7" stroke-opacity="0.91"/>
<ellipse cx="493.5" cy="642.3" rx="2.8" ry="3.5" transform="rotate(103 493.5 642.3)" stroke-width="1.3" stroke-opacity="0.72"/>
<ellipse cx="395.6" cy="646.4" rx="2.2" ry="2.7" transform="rotate(123 395.6 646.4)" stroke-width="1.5" stroke-opacity="0.72"/>
<ellipse cx="434.0" cy="615.5" rx="3.4" ry="2.7" transform="rotate(145 434.0 615.5)" stroke-width="1.2" stroke-opacity="0.82"/>
<circle cx="390.6" cy="641.5" r="2.7" stroke-width="1.6" stroke-opacity="0.83"/>
<circle cx="384.0" cy="687.0" r="3.2" stroke-width="1.1" stroke-opacity="0.83"/>
<circle cx="390.1" cy="683.8" r="2.7" stroke-width="1.3" stroke-opacity="0.80"/>
<ellipse cx="514.0" cy="638.8" rx="3.3" ry="2.7" transform="rotate(163 514.0 638.8)" stroke-width="1.3" stroke-opacity="0.83"/>
<ellipse cx="460.5" cy="634.9" rx="2.0" ry="2.6" transform="rotate(7 460.5 634.9)" stroke-width="1.7" stroke-opacity="0.76"/>
<circle cx="476.9" cy="693.4" r="2.9" stroke-width="1.6" stroke-opacity="0.61"/>
<circle cx="511.1" cy="705.9" r="2.3" stroke-width="1.1" stroke-opacity="0.75"/>
<ellipse cx="505.9" cy="597.6" rx="2.7" ry="2.2" transform="rotate(59 505.9 597.6)" stroke-width="1.4" stroke-opacity="0.75"/>
<circle cx="455.9" cy="704.4" r="4.0" fill="#9a92c8" stroke="none" fill-opacity="0.57"/>
<circle cx="375.0" cy="627.5" r="2.0" stroke-width="1.6" stroke-opacity="0.70"/>
<circle cx="378.0" cy="693.9" r="2.6" stroke-width="1.5" stroke-opacity="0.67"/>
<ellipse cx="490.1" cy="637.9" rx="2.9" ry="3.4" transform="rotate(92 490.1 637.9)" stroke-width="1.5" stroke-opacity="0.92"/>
<circle cx="410.9" cy="625.4" r="2.5" stroke-width="1.5" stroke-opacity="0.66"/>
<ellipse cx="512.0" cy="712.1" rx="3.2" ry="2.6" transform="rotate(83 512.0 712.1)" stroke-width="1.5" stroke-opacity="0.90"/>
<circle cx="426.8" cy="657.8" r="2.8" fill="#9a92c8" stroke="none" fill-opacity="0.70"/>
<circle cx="376.8" cy="668.0" r="2.7" fill="#9a92c8" stroke="none" fill-opacity="0.70"/>
<ellipse cx="503.1" cy="655.1" rx="2.7" ry="3.2" transform="rotate(80 503.1 655.1)" stroke-width="1.4" stroke-opacity="0.90"/>
<ellipse cx="451.0" cy="703.1" rx="3.4" ry="2.8" transform="rotate(35 451.0 703.1)" stroke-width="1.1" stroke-opacity="0.85"/>
<ellipse cx="389.8" cy="641.0" rx="2.3" ry="3.0" transform="rotate(82 389.8 641.0)" stroke-width="1.5" stroke-opacity="0.70"/>
<circle cx="517.0" cy="669.0" r="3.0" stroke-width="1.4" stroke-opacity="0.69"/>
<circle cx="504.8" cy="620.5" r="4.2" fill="#9a92c8" stroke="none" fill-opacity="0.60"/>
<ellipse cx="405.3" cy="617.4" rx="3.4" ry="3.0" transform="rotate(20 405.3 617.4)" stroke-width="1.5" stroke-opacity="0.66"/>
<circle cx="413.1" cy="659.9" r="3.0" stroke-width="1.2" stroke-opacity="0.78"/>
<ellipse cx="505.4" cy="669.9" rx="2.4" ry="3.1" transform="rotate(129 505.4 669.9)" stroke-width="1.2" stroke-opacity="0.86"/>
<ellipse cx="444.6" cy="612.2" rx="2.6" ry="2.2" transform="rotate(60 444.6 612.2)" stroke-width="1.2" stroke-opacity="0.87"/>
<circle cx="508.8" cy="612.9" r="4.1" fill="#9a92c8" stroke="none" fill-opacity="0.56"/>
<circle cx="462.5" cy="685.8" r="2.4" stroke-width="1.4" stroke-opacity="0.79"/>
<ellipse cx="380.4" cy="628.0" rx="2.9" ry="3.4" transform="rotate(82 380.4 628.0)" stroke-width="1.1" stroke-opacity="0.68"/>
<circle cx="494.9" cy="715.5" r="4.7" fill="#9a92c8" stroke="none" fill-opacity="0.71"/>
<ellipse cx="496.3" cy="718.4" rx="2.4" ry="2.0" transform="rotate(158 496.3 718.4)" stroke-width="1.2" stroke-opacity="0.62"/>
<circle cx="431.3" cy="705.7" r="2.6" stroke-width="1.3" stroke-opacity="0.72"/>
<circle cx="385.0" cy="641.3" r="2.4" stroke-width="1.2" stroke-opacity="0.89"/>
<ellipse cx="418.1" cy="648.8" rx="2.3" ry="2.8" transform="rotate(106 418.1 648.8)" stroke-width="1.2" stroke-opacity="0.62"/>
<circle cx="431.6" cy="698.1" r="2.5" stroke-width="1.6" stroke-opacity="0.90"/>
<circle cx="488.5" cy="679.3" r="4.1" fill="#9a92c8" stroke="none" fill-opacity="0.66"/>
<circle cx="503.3" cy="625.3" r="2.9" stroke-width="1.6" stroke-opacity="0.78"/>
<ellipse cx="447.2" cy="619.9" rx="2.3" ry="2.0" transform="rotate(101 447.2 619.9)" stroke-width="1.5" stroke-opacity="0.79"/>
<circle cx="444.5" cy="714.5" r="2.5" stroke-width="1.3" stroke-opacity="0.89"/>
<circle cx="379.6" cy="636.6" r="2.8" fill="#9a92c8" stroke="none" fill-opacity="0.55"/>
<ellipse cx="389.6" cy="650.4" rx="2.5" ry="3.2" transform="rotate(159 389.6 650.4)" stroke-width="1.5" stroke-opacity="0.95"/>
<circle cx="509.3" cy="590.4" r="2.4" stroke-width="1.6" stroke-opacity="0.79"/>
<circle cx="383.9" cy="615.7" r="2.5" stroke-width="1.5" stroke-opacity="0.71"/>
<circle cx="517.8" cy="666.4" r="2.5" fill="#9a92c8" stroke="none" fill-opacity="0.76"/>
<circle cx="384.7" cy="699.1" r="3.0" stroke-width="1.2" stroke-opacity="0.61"/>
<circle cx="380.2" cy="602.2" r="3.1" stroke-width="1.4" stroke-opacity="0.68"/>
<ellipse cx="419.3" cy="683.0" rx="3.2" ry="2.6" transform="rotate(159 419.3 683.0)" stroke-width="1.1" stroke-opacity="0.91"/>
<circle cx="511.8" cy="599.8" r="4.3" fill="#9a92c8" stroke="none" fill-opacity="0.73"/>
<circle cx="409.3" cy="637.3" r="2.6" stroke-width="1.4" stroke-opacity="0.80"/>
<ellipse cx="504.6" cy="591.6" rx="3.2" ry="2.8" transform="rotate(115 504.6 591.6)" stroke-width="1.3" stroke-opacity="0.94"/>
<ellipse cx="459.3" cy="710.6" rx="2.5" ry="2.2" transform="rotate(88 459.3 710.6)" stroke-width="1.1" stroke-opacity="0.90"/>
<ellipse cx="504.5" cy="633.4" rx="3.5" ry="2.9" transform="rotate(156 504.5 633.4)" stroke-width="1.1" stroke-opacity="0.64"/>
<circle cx="412.2" cy="704.7" r="4.5" fill="#9a92c8" stroke="none" fill-opacity="0.67"/>
<ellipse cx="515.1" cy="607.3" rx="2.9" ry="2.4" transform="rotate(95 515.1 607.3)" stroke-width="1.6" stroke-opacity="0.82"/>
<ellipse cx="474.6" cy="684.7" rx="2.6" ry="3.2" transform="rotate(97 474.6 684.7)" stroke-width="1.2" stroke-opacity="0.83"/>
<ellipse cx="374.9" cy="645.0" rx="2.6" ry="3.3" transform="rotate(86 374.9 645.0)" stroke-width="1.2" stroke-opacity="0.66"/>
<ellipse cx="514.8" cy="712.6" rx="2.2" ry="1.9" transform="rotate(52 514.8 712.6)" stroke-width="1.2" stroke-opacity="0.63"/>
<circle cx="395.1" cy="605.2" r="2.4" stroke-width="1.7" stroke-opacity="0.93"/>
<circle cx="386.1" cy="627.9" r="2.1" stroke-width="1.2" stroke-opacity="0.80"/>
<ellipse cx="380.5" cy="668.5" rx="3.5" ry="2.9" transform="rotate(172 380.5 668.5)" stroke-width="1.2" stroke-opacity="0.91"/>
<ellipse cx="496.0" cy="643.1" rx="2.1" ry="2.5" transform="rotate(83 496.0 643.1)" stroke-width="1.3" stroke-opacity="0.95"/>
<circle cx="515.4" cy="614.4" r="2.8" stroke-width="1.2" stroke-opacity="0.67"/>
<ellipse cx="410.2" cy="672.4" rx="3.0" ry="2.7" transform="rotate(122 410.2 672.4)" stroke-width="1.2" stroke-opacity="0.85"/>
<ellipse cx="482.7" cy="672.5" rx="2.5" ry="3.2" transform="rotate(1 482.7 672.5)" stroke-width="1.1" stroke-opacity="0.67"/>
<ellipse cx="396.2" cy="671.3" rx="2.2" ry="1.8" transform="rotate(49 396.2 671.3)" stroke-width="1.6" stroke-opacity="0.65"/>
<ellipse cx="479.6" cy="716.7" rx="2.7" ry="2.1" transform="rotate(136 479.6 716.7)" stroke-width="1.4" stroke-opacity="0.88"/>
<circle cx="434.0" cy="670.2" r="2.4" stroke-width="1.5" stroke-opacity="0.81"/>
<ellipse cx="407.7" cy="667.1" rx="3.2" ry="2.5" transform="rotate(163 407.7 667.1)" stroke-width="1.1" stroke-opacity="0.89"/>
<circle cx="424.7" cy="664.3" r="4.6" fill="#9a92c8" stroke="none" fill-opacity="0.58"/>
<circle cx="426.7" cy="711.0" r="2.7" stroke-width="1.3" stroke-opacity="0.85"/>
<ellipse cx="374.0" cy="699.8" rx="3.2" ry="2.6" transform="rotate(82 374.0 699.8)" stroke-width="1.5" stroke-opacity="0.76"/>
<circle cx="505.7" cy="638.4" r="2.6" stroke-width="1.6" stroke-opacity="0.86"/>
<circle cx="400.2" cy="654.0" r="2.0" stroke-width="1.6" stroke-opacity="0.85"/>
<circle cx="422.9" cy="664.9" r="2.7" stroke-width="1.6" stroke-opacity="0.89"/>
<ellipse cx="463.8" cy="633.0" rx="2.1" ry="2.6" transform="rotate(78 463.8 633.0)" stroke-width="1.3" stroke-opacity="0.63"/>
<circle cx="485.9" cy="713.3" r="3.1" fill="#9a92c8" stroke="none" fill-opacity="0.75"/>
<circle cx="463.5" cy="687.2" r="3.0" stroke-width="1.5" stroke-opacity="0.85"/>
<circle cx="499.2" cy="635.9" r="4.9" fill="#9a92c8" stroke="none" fill-opacity="0.61"/>
<circle cx="504.7" cy="657.7" r="3.0" fill="#9a92c8" stroke="none" fill-opacity="0.62"/>
<circle cx="375.4" cy="632.1" r="2.4" stroke-width="1.6" stroke-opacity="0.69"/>
<ellipse cx="465.6" cy="700.9" rx="2.8" ry="3.4" transform="rotate(113 465.6 700.9)" stroke-width="1.7" stroke-opacity="0.75"/>
<ellipse cx="397.7" cy="670.7" rx="3.3" ry="2.8" transform="rotate(60 397.7 670.7)" stroke-width="1.6" stroke-opacity="0.85"/>
<ellipse cx="482.9" cy="704.0" rx="2.5" ry="2.1" transform="rotate(2 482.9 704.0)" stroke-width="1.2" stroke-opacity="0.81"/>
<circle cx="390.3" cy="666.4" r="2.7" stroke-width="1.2" stroke-opacity="0.67"/>
<ellipse cx="500.5" cy="696.5" rx="2.8" ry="3.2" transform="rotate(121 500.5 696.5)" stroke-width="1.5" stroke-opacity="0.90"/>
<ellipse cx="518.5" cy="657.3" rx="1.8" ry="2.2" transform="rotate(163 518.5 657.3)" stroke-width="1.6" stroke-opacity="0.60"/>
<circle cx="458.5" cy="687.0" r="2.9" stroke-width="1.3" stroke-opacity="0.66"/>
<ellipse cx="414.5" cy="655.2" rx="2.5" ry="3.1" transform="rotate(120 414.5 655.2)" stroke-width="1.6" stroke-opacity="0.70"/>
<circle cx="460.8" cy="680.9" r="3.0" stroke-width="1.6" stroke-opacity="0.82"/>
<ellipse cx="518.5" cy="610.0" rx="2.5" ry="3.2" transform="rotate(42 518.5 610.0)" stroke-width="1.3" stroke-opacity="0.67"/>
<ellipse cx="512.9" cy="638.3" rx="2.5" ry="2.0" transform="rotate(7 512.9 638.3)" stroke-width="1.5" stroke-opacity="0.70"/>
<ellipse cx="374.4" cy="661.0" rx="2.1" ry="2.4" transform="rotate(111 374.4 661.0)" stroke-width="1.5" stroke-opacity="0.71"/>
<circle cx="388.1" cy="710.1" r="2.0" stroke-width="1.4" stroke-opacity="0.92"/>
<circle cx="463.7" cy="666.9" r="2.2" stroke-width="1.5" stroke-opacity="0.80"/>
<circle cx="503.2" cy="657.0" r="4.9" fill="#9a92c8" stroke="none" fill-opacity="0.63"/>
<ellipse cx="400.1" cy="634.2" rx="2.6" ry="3.4" transform="rotate(139 400.1 634.2)" stroke-width="1.2" stroke-opacity="0.86"/>
<circle cx="504.3" cy="683.3" r="3.0" stroke-width="1.1" stroke-opacity="0.91"/>
<circle cx="505.2" cy="713.2" r="3.2" stroke-width="1.7" stroke-opacity="0.80"/>
<ellipse cx="444.3" cy="664.4" rx="2.3" ry="2.0" transform="rotate(152 444.3 664.4)" stroke-width="1.5" stroke-opacity="0.87"/>
<ellipse cx="489.2" cy="713.4" rx="2.3" ry="1.9" transform="rotate(42 489.2 713.4)" stroke-width="1.4" stroke-opacity="0.69"/>
<circle cx="406.2" cy="651.4" r="2.1" stroke-width="1.7" stroke-opacity="0.63"/>
<circle cx="510.5" cy="660.5" r="2.5" stroke-width="1.6" stroke-opacity="0.83"/>
<ellipse cx="500.2" cy="661.0" rx="2.3" ry="2.8" transform="rotate(174 500.2 661.0)" stroke-width="1.5" stroke-opacity="0.73"/>
<circle cx="397.3" cy="702.7" r="3.3" fill="#9a92c8" stroke="none" fill-opacity="0.51"/>
<ellipse cx="438.7" cy="698.2" rx="2.8" ry="2.4" transform="rotate(125 438.7 698.2)" stroke-width="1.6" stroke-opacity="0.86"/>
<circle cx="480.7" cy="689.5" r="3.3" fill="#9a92c8" stroke="none" fill-opacity="0.66"/>
<circle cx="464.1" cy="685.4" r="2.3" stroke-width="1.3" stroke-opacity="0.71"/>
<ellipse cx="508.5" cy="713.8" rx="2.6" ry="2.1" transform="rotate(154 508.5 713.8)" stroke-width="1.3" stroke-opacity="0.60"/>
<ellipse cx="434.2" cy="702.9" rx="2.5" ry="3.0" transform="rotate(90 434.2 702.9)" stroke-width="1.6" stroke-opacity="0.63"/>
<ellipse cx="512.2" cy="678.3" rx="2.5" ry="2.1" transform="rotate(101 512.2 678.3)" stroke-width="1.3" stroke-opacity="0.67"/>
<circle cx="486.4" cy="702.1" r="3.1" stroke-width="1.6" stroke-opacity="0.87"/>
<circle cx="494.9" cy="702.0" r="2.3" stroke-width="1.5" stroke-opacity="0.69"/>
<circle cx="491.0" cy="624.8" r="3.0" stroke-width="1.2" stroke-opacity="0.90"/>
<ellipse cx="381.3" cy="592.5" rx="2.4" ry="3.0" transform="rotate(40 381.3 592.5)" stroke-width="1.7" stroke-opacity="0.95"/>
<circle cx="412.8" cy="654.2" r="2.8" fill="#9a92c8" stroke="none" fill-opacity="0.64"/>
<circle cx="383.1" cy="622.1" r="3.0" fill="#9a92c8" stroke="none" fill-opacity="0.72"/>
<ellipse cx="377.0" cy="658.4" rx="2.8" ry="2.2" transform="rotate(167 377.0 658.4)" stroke-width="1.2" stroke-opacity="0.66"/>
</g>
<g fill="#44349a">
<circle cx="429.6" cy="673.7" r="2.4" fill-opacity="0.61"/>
<circle cx="488.5" cy="696.4" r="1.6" fill-opacity="0.89"/>
<circle cx="490.5" cy="693.6" r="2.2" fill-opacity="0.87"/>
<circle cx="510.2" cy="644.7" r="2.2" fill-opacity="0.92"/>
<circle cx="476.6" cy="703.2" r="1.8" fill-opacity="0.94"/>
<circle cx="408.3" cy="659.3" r="2.3" fill-opacity="0.79"/>
<circle cx="499.9" cy="674.2" r="2.5" fill-opacity="0.72"/>
<circle cx="501.9" cy="676.3" r="2.0" fill-opacity="0.78"/>
<circle cx="406.6" cy="688.8" r="2.5" fill-opacity="0.84"/>
<circle cx="407.5" cy="689.4" r="2.2" fill-opacity="0.90"/>
<circle cx="396.5" cy="687.6" r="1.6" fill-opacity="0.90"/>
<circle cx="395.4" cy="685.7" r="2.0" fill-opacity="0.56"/>
<circle cx="430.6" cy="617.2" r="1.6" fill-opacity="0.80"/>
<circle cx="390.0" cy="671.2" r="2.6" fill-opacity="0.76"/>
<circle cx="392.1" cy="671.1" r="2.4" fill-opacity="0.61"/>
<circle cx="391.7" cy="668.1" r="1.9" fill-opacity="0.91"/>
<circle cx="404.4" cy="704.3" r="2.7" fill-opacity="0.58"/>
<circle cx="404.3" cy="701.1" r="2.1" fill-opacity="0.84"/>
<circle cx="406.5" cy="710.1" r="2.3" fill-opacity="0.85"/>
<circle cx="406.3" cy="710.6" r="1.9" fill-opacity="0.73"/>
<circle cx="513.1" cy="607.9" r="2.7" fill-opacity="0.55"/>
<circle cx="424.8" cy="654.9" r="2.7" fill-opacity="0.65"/>
<circle cx="423.5" cy="657.2" r="2.1" fill-opacity="0.85"/>
<circle cx="397.2" cy="675.4" r="2.7" fill-opacity="0.57"/>
<circle cx="494.3" cy="682.5" r="2.0" fill-opacity="0.92"/>
<circle cx="381.8" cy="650.1" r="1.9" fill-opacity="0.59"/>
<circle cx="381.2" cy="653.3" r="2.2" fill-opacity="0.93"/>
<circle cx="380.1" cy="651.9" r="1.5" fill-opacity="0.77"/>
<circle cx="375.6" cy="697.7" r="2.1" fill-opacity="0.79"/>
<circle cx="396.2" cy="687.8" r="2.3" fill-opacity="0.87"/>
<circle cx="456.5" cy="710.4" r="2.6" fill-opacity="0.69"/>
<circle cx="458.7" cy="712.0" r="1.8" fill-opacity="0.56"/>
<circle cx="457.1" cy="708.7" r="1.6" fill-opacity="0.65"/>
<circle cx="397.3" cy="682.4" r="2.6" fill-opacity="0.72"/>
<circle cx="393.6" cy="682.7" r="2.5" fill-opacity="0.72"/>
<circle cx="505.4" cy="608.4" r="2.1" fill-opacity="0.71"/>
<circle cx="387.7" cy="611.7" r="2.6" fill-opacity="0.76"/>
<circle cx="498.1" cy="675.5" r="1.5" fill-opacity="0.67"/>
<circle cx="497.3" cy="678.2" r="2.0" fill-opacity="0.82"/>
<circle cx="510.8" cy="659.0" r="1.4" fill-opacity="0.79"/>
<circle cx="376.9" cy="686.7" r="2.7" fill-opacity="0.89"/>
<circle cx="376.8" cy="688.4" r="1.5" fill-opacity="0.80"/>
<circle cx="505.0" cy="581.3" r="2.1" fill-opacity="0.65"/>
<circle cx="373.9" cy="713.8" r="2.1" fill-opacity="0.61"/>
<circle cx="389.1" cy="683.2" r="2.0" fill-opacity="0.83"/>
<circle cx="382.0" cy="698.0" r="1.7" fill-opacity="0.69"/>
<circle cx="512.3" cy="579.6" r="2.0" fill-opacity="0.94"/>
<circle cx="510.1" cy="580.4" r="2.1" fill-opacity="0.68"/>
<circle cx="383.6" cy="612.7" r="2.7" fill-opacity="0.55"/>
<circle cx="386.2" cy="612.4" r="2.0" fill-opacity="0.82"/>
<circle cx="499.5" cy="605.5" r="1.4" fill-opacity="0.59"/>
<circle cx="501.0" cy="608.1" r="1.4" fill-opacity="0.73"/>
<circle cx="518.3" cy="598.5" r="2.6" fill-opacity="0.79"/>
<circle cx="420.7" cy="687.6" r="1.9" fill-opacity="0.91"/>
<circle cx="419.6" cy="686.3" r="2.7" fill-opacity="0.72"/>
<circle cx="377.8" cy="707.6" r="2.1" fill-opacity="0.74"/>
<circle cx="442.6" cy="711.2" r="2.0" fill-opacity="0.65"/>
<circle cx="446.2" cy="709.3" r="2.0" fill-opacity="0.95"/>
<circle cx="444.7" cy="711.2" r="2.4" fill-opacity="0.68"/>
<circle cx="400.8" cy="693.1" r="1.6" fill-opacity="0.75"/>
<circle cx="401.2" cy="695.1" r="1.7" fill-opacity="0.61"/>
<circle cx="398.5" cy="694.2" r="1.9" fill-opacity="0.74"/>
<circle cx="402.6" cy="603.2" r="2.1" fill-opacity="0.80"/>
<circle cx="401.8" cy="604.6" r="1.9" fill-opacity="0.70"/>
<circle cx="405.0" cy="601.4" r="2.8" fill-opacity="0.55"/>
<circle cx="512.8" cy="593.3" r="2.1" fill-opacity="0.59"/>
<circle cx="511.6" cy="592.8" r="1.9" fill-opacity="0.86"/>
<circle cx="511.4" cy="594.5" r="1.9" fill-opacity="0.58"/>
<circle cx="446.9" cy="672.2" r="2.7" fill-opacity="0.89"/>
<circle cx="484.8" cy="675.9" r="1.9" fill-opacity="0.76"/>
<circle cx="424.7" cy="652.5" r="2.2" fill-opacity="0.59"/>
<circle cx="482.9" cy="713.8" r="2.3" fill-opacity="0.88"/>
<circle cx="480.9" cy="710.9" r="2.3" fill-opacity="0.90"/>
<circle cx="400.9" cy="655.4" r="1.5" fill-opacity="0.85"/>
<circle cx="452.1" cy="689.1" r="2.1" fill-opacity="0.63"/>
<circle cx="449.1" cy="686.4" r="2.2" fill-opacity="0.66"/>
<circle cx="451.1" cy="688.3" r="2.8" fill-opacity="0.67"/>
<circle cx="396.3" cy="624.5" r="1.4" fill-opacity="0.81"/>
<circle cx="480.1" cy="702.2" r="1.7" fill-opacity="0.73"/>
<circle cx="478.3" cy="704.5" r="1.8" fill-opacity="0.94"/>
<circle cx="474.0" cy="706.9" r="2.4" fill-opacity="0.89"/>
<circle cx="383.6" cy="607.3" r="2.1" fill-opacity="0.71"/>
<circle cx="505.8" cy="620.9" r="2.0" fill-opacity="0.93"/>
<circle cx="505.4" cy="621.6" r="1.6" fill-opacity="0.85"/>
<circle cx="426.9" cy="689.8" r="1.4" fill-opacity="0.73"/>
<circle cx="462.7" cy="704.9" r="1.5" fill-opacity="0.68"/>
<circle cx="506.6" cy="613.0" r="1.7" fill-opacity="0.84"/>
<circle cx="503.1" cy="615.7" r="1.9" fill-opacity="0.62"/>
<circle cx="487.3" cy="709.8" r="1.9" fill-opacity="0.81"/>
<circle cx="516.8" cy="709.6" r="2.4" fill-opacity="0.90"/>
<circle cx="513.3" cy="708.9" r="2.0" fill-opacity="0.78"/>
<circle cx="388.0" cy="670.5" r="2.3" fill-opacity="0.56"/>
<circle cx="390.5" cy="617.3" r="2.5" fill-opacity="0.87"/>
<circle cx="501.0" cy="658.8" r="2.5" fill-opacity="0.62"/>
<circle cx="501.8" cy="657.8" r="2.1" fill-opacity="0.57"/>
<circle cx="464.1" cy="671.9" r="2.4" fill-opacity="0.56"/>
<circle cx="396.0" cy="627.4" r="2.5" fill-opacity="0.71"/>
<circle cx="397.2" cy="626.9" r="1.7" fill-opacity="0.60"/>
<circle cx="382.7" cy="661.3" r="2.5" fill-opacity="0.70"/>
<circle cx="410.0" cy="661.7" r="1.9" fill-opacity="0.86"/>
<circle cx="412.5" cy="663.2" r="1.5" fill-opacity="0.56"/>
<circle cx="512.0" cy="715.6" r="2.3" fill-opacity="0.60"/>
<circle cx="438.9" cy="668.8" r="1.8" fill-opacity="0.94"/>
<circle cx="439.7" cy="670.1" r="2.6" fill-opacity="0.80"/>
<circle cx="438.1" cy="668.0" r="1.6" fill-opacity="0.69"/>
<circle cx="380.3" cy="685.7" r="2.3" fill-opacity="0.58"/>
<circle cx="503.6" cy="620.1" r="2.2" fill-opacity="0.70"/>
<circle cx="502.3" cy="622.0" r="1.6" fill-opacity="0.76"/>
<circle cx="502.1" cy="687.5" r="1.5" fill-opacity="0.93"/>
<circle cx="501.2" cy="685.0" r="2.0" fill-opacity="0.71"/>
<circle cx="499.6" cy="687.7" r="2.7" fill-opacity="0.77"/>
<circle cx="512.9" cy="597.1" r="2.8" fill-opacity="0.65"/>
<circle cx="496.8" cy="695.1" r="1.9" fill-opacity="0.69"/>
<circle cx="391.1" cy="640.8" r="1.6" fill-opacity="0.94"/>
<circle cx="389.1" cy="692.7" r="2.1" fill-opacity="0.60"/>
<circle cx="391.4" cy="692.1" r="1.4" fill-opacity="0.90"/>
<circle cx="508.4" cy="579.0" r="2.3" fill-opacity="0.77"/>
<circle cx="511.2" cy="580.0" r="1.7" fill-opacity="0.62"/>
<circle cx="429.1" cy="679.9" r="2.2" fill-opacity="0.92"/>
<circle cx="377.3" cy="699.9" r="2.5" fill-opacity="0.66"/>
<circle cx="445.2" cy="691.5" r="2.3" fill-opacity="0.64"/>
<circle cx="446.6" cy="689.9" r="1.7" fill-opacity="0.56"/>
<circle cx="505.4" cy="596.5" r="1.6" fill-opacity="0.65"/>
<circle cx="514.7" cy="665.1" r="1.8" fill-opacity="0.61"/>
<circle cx="424.5" cy="686.2" r="2.6" fill-opacity="0.75"/>
<circle cx="432.5" cy="706.8" r="2.3" fill-opacity="0.62"/>
<circle cx="476.6" cy="700.5" r="2.3" fill-opacity="0.84"/>
<circle cx="480.6" cy="704.4" r="2.3" fill-opacity="0.80"/>
<circle cx="497.6" cy="695.0" r="2.1" fill-opacity="0.56"/>
<circle cx="500.8" cy="693.1" r="2.0" fill-opacity="0.77"/>
<circle cx="503.5" cy="614.0" r="1.6" fill-opacity="0.57"/>
<circle cx="446.0" cy="689.0" r="1.4" fill-opacity="0.88"/>
<circle cx="442.3" cy="705.6" r="2.5" fill-opacity="0.92"/>
<circle cx="446.3" cy="701.8" r="2.0" fill-opacity="0.56"/>
<circle cx="444.1" cy="705.2" r="2.0" fill-opacity="0.86"/>
<circle cx="474.3" cy="699.8" r="2.3" fill-opacity="0.88"/>
<circle cx="477.1" cy="703.0" r="2.7" fill-opacity="0.63"/>
<circle cx="509.3" cy="686.3" r="2.4" fill-opacity="0.63"/>
<circle cx="515.3" cy="586.6" r="2.7" fill-opacity="0.77"/>
<circle cx="514.6" cy="584.3" r="2.4" fill-opacity="0.84"/>
<circle cx="509.3" cy="638.0" r="1.4" fill-opacity="0.56"/>
<circle cx="510.9" cy="636.6" r="2.2" fill-opacity="0.84"/>
<circle cx="388.5" cy="621.3" r="1.8" fill-opacity="0.59"/>
</g>
</g>
</g>
</svg>
</body></html>
